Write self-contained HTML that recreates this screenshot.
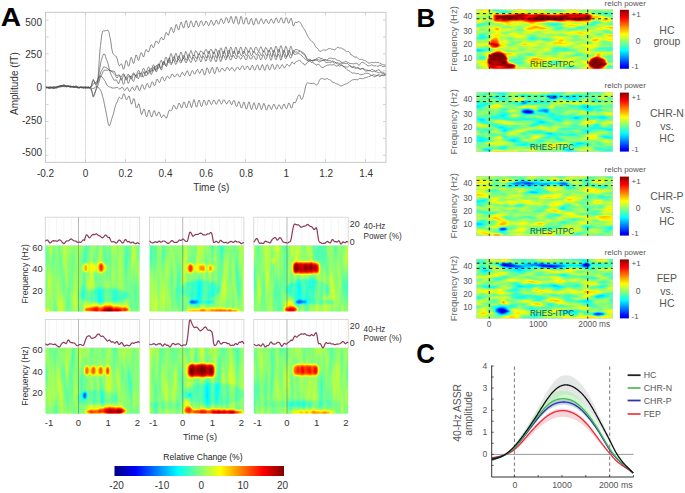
<!DOCTYPE html><html><head><meta charset="utf-8"><style>html,body{margin:0;padding:0;background:#fff;}svg{display:block;} text{font-family:"Liberation Sans",sans-serif;}</style></head><body>
<svg width="685" height="493" viewBox="0 0 685 493" font-family="Liberation Sans, sans-serif">
<defs>
<filter id="jA00" x="0" y="0" width="1" height="1" color-interpolation-filters="sRGB" filterUnits="objectBoundingBox"><feGaussianBlur in="SourceGraphic" stdDeviation="1.2" result="b"/><feTurbulence type="fractalNoise" baseFrequency="0.17 0.022" numOctaves="2" seed="3" result="n"/><feColorMatrix in="n" type="matrix" values="1 0 0 0 0 1 0 0 0 0 1 0 0 0 0 0 0 0 0 1" result="ng"/><feComposite in="b" in2="ng" operator="arithmetic" k1="0" k2="1" k3="0.24" k4="-0.12" result="v"/><feComponentTransfer in="v"><feFuncR type="table" tableValues="0 0 0 0 .5 1 1 1 .5"/><feFuncG type="table" tableValues="0 0 .5 1 1 1 .5 0 0"/><feFuncB type="table" tableValues=".5 1 1 1 .5 0 0 0 0"/><feFuncA type="table" tableValues="1 1"/></feComponentTransfer></filter>
<filter id="jA01" x="0" y="0" width="1" height="1" color-interpolation-filters="sRGB" filterUnits="objectBoundingBox"><feGaussianBlur in="SourceGraphic" stdDeviation="1.2" result="b"/><feTurbulence type="fractalNoise" baseFrequency="0.17 0.022" numOctaves="2" seed="4" result="n"/><feColorMatrix in="n" type="matrix" values="1 0 0 0 0 1 0 0 0 0 1 0 0 0 0 0 0 0 0 1" result="ng"/><feComposite in="b" in2="ng" operator="arithmetic" k1="0" k2="1" k3="0.24" k4="-0.12" result="v"/><feComponentTransfer in="v"><feFuncR type="table" tableValues="0 0 0 0 .5 1 1 1 .5"/><feFuncG type="table" tableValues="0 0 .5 1 1 1 .5 0 0"/><feFuncB type="table" tableValues=".5 1 1 1 .5 0 0 0 0"/><feFuncA type="table" tableValues="1 1"/></feComponentTransfer></filter>
<filter id="jA02" x="0" y="0" width="1" height="1" color-interpolation-filters="sRGB" filterUnits="objectBoundingBox"><feGaussianBlur in="SourceGraphic" stdDeviation="1.2" result="b"/><feTurbulence type="fractalNoise" baseFrequency="0.17 0.022" numOctaves="2" seed="5" result="n"/><feColorMatrix in="n" type="matrix" values="1 0 0 0 0 1 0 0 0 0 1 0 0 0 0 0 0 0 0 1" result="ng"/><feComposite in="b" in2="ng" operator="arithmetic" k1="0" k2="1" k3="0.24" k4="-0.12" result="v"/><feComponentTransfer in="v"><feFuncR type="table" tableValues="0 0 0 0 .5 1 1 1 .5"/><feFuncG type="table" tableValues="0 0 .5 1 1 1 .5 0 0"/><feFuncB type="table" tableValues=".5 1 1 1 .5 0 0 0 0"/><feFuncA type="table" tableValues="1 1"/></feComponentTransfer></filter>
<filter id="jA10" x="0" y="0" width="1" height="1" color-interpolation-filters="sRGB" filterUnits="objectBoundingBox"><feGaussianBlur in="SourceGraphic" stdDeviation="1.2" result="b"/><feTurbulence type="fractalNoise" baseFrequency="0.17 0.022" numOctaves="2" seed="6" result="n"/><feColorMatrix in="n" type="matrix" values="1 0 0 0 0 1 0 0 0 0 1 0 0 0 0 0 0 0 0 1" result="ng"/><feComposite in="b" in2="ng" operator="arithmetic" k1="0" k2="1" k3="0.24" k4="-0.12" result="v"/><feComponentTransfer in="v"><feFuncR type="table" tableValues="0 0 0 0 .5 1 1 1 .5"/><feFuncG type="table" tableValues="0 0 .5 1 1 1 .5 0 0"/><feFuncB type="table" tableValues=".5 1 1 1 .5 0 0 0 0"/><feFuncA type="table" tableValues="1 1"/></feComponentTransfer></filter>
<filter id="jA11" x="0" y="0" width="1" height="1" color-interpolation-filters="sRGB" filterUnits="objectBoundingBox"><feGaussianBlur in="SourceGraphic" stdDeviation="1.2" result="b"/><feTurbulence type="fractalNoise" baseFrequency="0.17 0.022" numOctaves="2" seed="7" result="n"/><feColorMatrix in="n" type="matrix" values="1 0 0 0 0 1 0 0 0 0 1 0 0 0 0 0 0 0 0 1" result="ng"/><feComposite in="b" in2="ng" operator="arithmetic" k1="0" k2="1" k3="0.24" k4="-0.12" result="v"/><feComponentTransfer in="v"><feFuncR type="table" tableValues="0 0 0 0 .5 1 1 1 .5"/><feFuncG type="table" tableValues="0 0 .5 1 1 1 .5 0 0"/><feFuncB type="table" tableValues=".5 1 1 1 .5 0 0 0 0"/><feFuncA type="table" tableValues="1 1"/></feComponentTransfer></filter>
<filter id="jA12" x="0" y="0" width="1" height="1" color-interpolation-filters="sRGB" filterUnits="objectBoundingBox"><feGaussianBlur in="SourceGraphic" stdDeviation="1.2" result="b"/><feTurbulence type="fractalNoise" baseFrequency="0.17 0.022" numOctaves="2" seed="8" result="n"/><feColorMatrix in="n" type="matrix" values="1 0 0 0 0 1 0 0 0 0 1 0 0 0 0 0 0 0 0 1" result="ng"/><feComposite in="b" in2="ng" operator="arithmetic" k1="0" k2="1" k3="0.24" k4="-0.12" result="v"/><feComponentTransfer in="v"><feFuncR type="table" tableValues="0 0 0 0 .5 1 1 1 .5"/><feFuncG type="table" tableValues="0 0 .5 1 1 1 .5 0 0"/><feFuncB type="table" tableValues=".5 1 1 1 .5 0 0 0 0"/><feFuncA type="table" tableValues="1 1"/></feComponentTransfer></filter>
<filter id="jB0" x="0" y="0" width="1" height="1" color-interpolation-filters="sRGB" filterUnits="objectBoundingBox"><feGaussianBlur in="SourceGraphic" stdDeviation="0.8" result="b"/><feTurbulence type="fractalNoise" baseFrequency="0.055 0.19" numOctaves="2" seed="20" result="n"/><feColorMatrix in="n" type="matrix" values="1 0 0 0 0 1 0 0 0 0 1 0 0 0 0 0 0 0 0 1" result="ng"/><feComposite in="b" in2="ng" operator="arithmetic" k1="0" k2="1" k3="0.5" k4="-0.25" result="v"/><feComponentTransfer in="v"><feFuncR type="table" tableValues="0 0 0 0 .5 1 1 1 .5"/><feFuncG type="table" tableValues="0 0 .5 1 1 1 .5 0 0"/><feFuncB type="table" tableValues=".5 1 1 1 .5 0 0 0 0"/><feFuncA type="table" tableValues="1 1"/></feComponentTransfer></filter>
<filter id="jB1" x="0" y="0" width="1" height="1" color-interpolation-filters="sRGB" filterUnits="objectBoundingBox"><feGaussianBlur in="SourceGraphic" stdDeviation="0.8" result="b"/><feTurbulence type="fractalNoise" baseFrequency="0.055 0.19" numOctaves="2" seed="21" result="n"/><feColorMatrix in="n" type="matrix" values="1 0 0 0 0 1 0 0 0 0 1 0 0 0 0 0 0 0 0 1" result="ng"/><feComposite in="b" in2="ng" operator="arithmetic" k1="0" k2="1" k3="0.5" k4="-0.25" result="v"/><feComponentTransfer in="v"><feFuncR type="table" tableValues="0 0 0 0 .5 1 1 1 .5"/><feFuncG type="table" tableValues="0 0 .5 1 1 1 .5 0 0"/><feFuncB type="table" tableValues=".5 1 1 1 .5 0 0 0 0"/><feFuncA type="table" tableValues="1 1"/></feComponentTransfer></filter>
<filter id="jB2" x="0" y="0" width="1" height="1" color-interpolation-filters="sRGB" filterUnits="objectBoundingBox"><feGaussianBlur in="SourceGraphic" stdDeviation="0.8" result="b"/><feTurbulence type="fractalNoise" baseFrequency="0.055 0.19" numOctaves="2" seed="22" result="n"/><feColorMatrix in="n" type="matrix" values="1 0 0 0 0 1 0 0 0 0 1 0 0 0 0 0 0 0 0 1" result="ng"/><feComposite in="b" in2="ng" operator="arithmetic" k1="0" k2="1" k3="0.5" k4="-0.25" result="v"/><feComponentTransfer in="v"><feFuncR type="table" tableValues="0 0 0 0 .5 1 1 1 .5"/><feFuncG type="table" tableValues="0 0 .5 1 1 1 .5 0 0"/><feFuncB type="table" tableValues=".5 1 1 1 .5 0 0 0 0"/><feFuncA type="table" tableValues="1 1"/></feComponentTransfer></filter>
<filter id="jB3" x="0" y="0" width="1" height="1" color-interpolation-filters="sRGB" filterUnits="objectBoundingBox"><feGaussianBlur in="SourceGraphic" stdDeviation="0.8" result="b"/><feTurbulence type="fractalNoise" baseFrequency="0.055 0.19" numOctaves="2" seed="23" result="n"/><feColorMatrix in="n" type="matrix" values="1 0 0 0 0 1 0 0 0 0 1 0 0 0 0 0 0 0 0 1" result="ng"/><feComposite in="b" in2="ng" operator="arithmetic" k1="0" k2="1" k3="0.5" k4="-0.25" result="v"/><feComponentTransfer in="v"><feFuncR type="table" tableValues="0 0 0 0 .5 1 1 1 .5"/><feFuncG type="table" tableValues="0 0 .5 1 1 1 .5 0 0"/><feFuncB type="table" tableValues=".5 1 1 1 .5 0 0 0 0"/><feFuncA type="table" tableValues="1 1"/></feComponentTransfer></filter>
</defs>
<rect width="685" height="493" fill="#fff"/>
<rect x="45.5" y="12.3" width="340.5" height="150.0" fill="#fff"/>
<line x1="55.5" y1="12.3" x2="55.5" y2="162.3" stroke="#f7f7f7" stroke-width="0.8"/>
<line x1="65.5" y1="12.3" x2="65.5" y2="162.3" stroke="#f7f7f7" stroke-width="0.8"/>
<line x1="75.5" y1="12.3" x2="75.5" y2="162.3" stroke="#f7f7f7" stroke-width="0.8"/>
<line x1="95.5" y1="12.3" x2="95.5" y2="162.3" stroke="#f7f7f7" stroke-width="0.8"/>
<line x1="105.5" y1="12.3" x2="105.5" y2="162.3" stroke="#f7f7f7" stroke-width="0.8"/>
<line x1="115.5" y1="12.3" x2="115.5" y2="162.3" stroke="#f7f7f7" stroke-width="0.8"/>
<line x1="125.5" y1="12.3" x2="125.5" y2="162.3" stroke="#f7f7f7" stroke-width="0.8"/>
<line x1="135.5" y1="12.3" x2="135.5" y2="162.3" stroke="#f7f7f7" stroke-width="0.8"/>
<line x1="145.5" y1="12.3" x2="145.5" y2="162.3" stroke="#f7f7f7" stroke-width="0.8"/>
<line x1="155.5" y1="12.3" x2="155.5" y2="162.3" stroke="#f7f7f7" stroke-width="0.8"/>
<line x1="165.5" y1="12.3" x2="165.5" y2="162.3" stroke="#f7f7f7" stroke-width="0.8"/>
<line x1="175.5" y1="12.3" x2="175.5" y2="162.3" stroke="#f7f7f7" stroke-width="0.8"/>
<line x1="185.5" y1="12.3" x2="185.5" y2="162.3" stroke="#f7f7f7" stroke-width="0.8"/>
<line x1="195.5" y1="12.3" x2="195.5" y2="162.3" stroke="#f7f7f7" stroke-width="0.8"/>
<line x1="205.5" y1="12.3" x2="205.5" y2="162.3" stroke="#f7f7f7" stroke-width="0.8"/>
<line x1="215.5" y1="12.3" x2="215.5" y2="162.3" stroke="#f7f7f7" stroke-width="0.8"/>
<line x1="225.5" y1="12.3" x2="225.5" y2="162.3" stroke="#f7f7f7" stroke-width="0.8"/>
<line x1="235.5" y1="12.3" x2="235.5" y2="162.3" stroke="#f7f7f7" stroke-width="0.8"/>
<line x1="245.5" y1="12.3" x2="245.5" y2="162.3" stroke="#f7f7f7" stroke-width="0.8"/>
<line x1="255.5" y1="12.3" x2="255.5" y2="162.3" stroke="#f7f7f7" stroke-width="0.8"/>
<line x1="265.5" y1="12.3" x2="265.5" y2="162.3" stroke="#f7f7f7" stroke-width="0.8"/>
<line x1="275.5" y1="12.3" x2="275.5" y2="162.3" stroke="#f7f7f7" stroke-width="0.8"/>
<line x1="285.5" y1="12.3" x2="285.5" y2="162.3" stroke="#f7f7f7" stroke-width="0.8"/>
<line x1="295.5" y1="12.3" x2="295.5" y2="162.3" stroke="#f7f7f7" stroke-width="0.8"/>
<line x1="305.5" y1="12.3" x2="305.5" y2="162.3" stroke="#f7f7f7" stroke-width="0.8"/>
<line x1="315.5" y1="12.3" x2="315.5" y2="162.3" stroke="#f7f7f7" stroke-width="0.8"/>
<line x1="325.5" y1="12.3" x2="325.5" y2="162.3" stroke="#f7f7f7" stroke-width="0.8"/>
<line x1="335.5" y1="12.3" x2="335.5" y2="162.3" stroke="#f7f7f7" stroke-width="0.8"/>
<line x1="345.5" y1="12.3" x2="345.5" y2="162.3" stroke="#f7f7f7" stroke-width="0.8"/>
<line x1="355.5" y1="12.3" x2="355.5" y2="162.3" stroke="#f7f7f7" stroke-width="0.8"/>
<line x1="365.5" y1="12.3" x2="365.5" y2="162.3" stroke="#f7f7f7" stroke-width="0.8"/>
<line x1="375.5" y1="12.3" x2="375.5" y2="162.3" stroke="#f7f7f7" stroke-width="0.8"/>
<line x1="45.5" y1="87.7" x2="386.0" y2="87.7" stroke="#f0f0f0" stroke-width="0.8"/>
<line x1="85.5" y1="12.3" x2="85.5" y2="162.3" stroke="#b0909c" stroke-width="0.8" stroke-dasharray="1 1" stroke-opacity="0.8"/>
<line x1="45.5" y1="155.3" x2="48.5" y2="155.3" stroke="#c8c8c8" stroke-width="0.8"/>
<line x1="383.0" y1="155.3" x2="386.0" y2="155.3" stroke="#c8c8c8" stroke-width="0.8"/>
<line x1="45.5" y1="138.4" x2="48.5" y2="138.4" stroke="#c8c8c8" stroke-width="0.8"/>
<line x1="383.0" y1="138.4" x2="386.0" y2="138.4" stroke="#c8c8c8" stroke-width="0.8"/>
<line x1="45.5" y1="121.5" x2="48.5" y2="121.5" stroke="#c8c8c8" stroke-width="0.8"/>
<line x1="383.0" y1="121.5" x2="386.0" y2="121.5" stroke="#c8c8c8" stroke-width="0.8"/>
<line x1="45.5" y1="104.6" x2="48.5" y2="104.6" stroke="#c8c8c8" stroke-width="0.8"/>
<line x1="383.0" y1="104.6" x2="386.0" y2="104.6" stroke="#c8c8c8" stroke-width="0.8"/>
<line x1="45.5" y1="87.7" x2="48.5" y2="87.7" stroke="#c8c8c8" stroke-width="0.8"/>
<line x1="383.0" y1="87.7" x2="386.0" y2="87.7" stroke="#c8c8c8" stroke-width="0.8"/>
<line x1="45.5" y1="70.8" x2="48.5" y2="70.8" stroke="#c8c8c8" stroke-width="0.8"/>
<line x1="383.0" y1="70.8" x2="386.0" y2="70.8" stroke="#c8c8c8" stroke-width="0.8"/>
<line x1="45.5" y1="53.9" x2="48.5" y2="53.9" stroke="#c8c8c8" stroke-width="0.8"/>
<line x1="383.0" y1="53.9" x2="386.0" y2="53.9" stroke="#c8c8c8" stroke-width="0.8"/>
<line x1="45.5" y1="37" x2="48.5" y2="37" stroke="#c8c8c8" stroke-width="0.8"/>
<line x1="383.0" y1="37" x2="386.0" y2="37" stroke="#c8c8c8" stroke-width="0.8"/>
<line x1="45.5" y1="20.1" x2="48.5" y2="20.1" stroke="#c8c8c8" stroke-width="0.8"/>
<line x1="383.0" y1="20.1" x2="386.0" y2="20.1" stroke="#c8c8c8" stroke-width="0.8"/>
<line x1="45.5" y1="12.3" x2="45.5" y2="15.3" stroke="#c8c8c8" stroke-width="0.8"/>
<line x1="45.5" y1="159.3" x2="45.5" y2="162.3" stroke="#c8c8c8" stroke-width="0.8"/>
<line x1="85.5" y1="12.3" x2="85.5" y2="15.3" stroke="#c8c8c8" stroke-width="0.8"/>
<line x1="85.5" y1="159.3" x2="85.5" y2="162.3" stroke="#c8c8c8" stroke-width="0.8"/>
<line x1="125.5" y1="12.3" x2="125.5" y2="15.3" stroke="#c8c8c8" stroke-width="0.8"/>
<line x1="125.5" y1="159.3" x2="125.5" y2="162.3" stroke="#c8c8c8" stroke-width="0.8"/>
<line x1="165.5" y1="12.3" x2="165.5" y2="15.3" stroke="#c8c8c8" stroke-width="0.8"/>
<line x1="165.5" y1="159.3" x2="165.5" y2="162.3" stroke="#c8c8c8" stroke-width="0.8"/>
<line x1="205.5" y1="12.3" x2="205.5" y2="15.3" stroke="#c8c8c8" stroke-width="0.8"/>
<line x1="205.5" y1="159.3" x2="205.5" y2="162.3" stroke="#c8c8c8" stroke-width="0.8"/>
<line x1="245.5" y1="12.3" x2="245.5" y2="15.3" stroke="#c8c8c8" stroke-width="0.8"/>
<line x1="245.5" y1="159.3" x2="245.5" y2="162.3" stroke="#c8c8c8" stroke-width="0.8"/>
<line x1="285.5" y1="12.3" x2="285.5" y2="15.3" stroke="#c8c8c8" stroke-width="0.8"/>
<line x1="285.5" y1="159.3" x2="285.5" y2="162.3" stroke="#c8c8c8" stroke-width="0.8"/>
<line x1="325.5" y1="12.3" x2="325.5" y2="15.3" stroke="#c8c8c8" stroke-width="0.8"/>
<line x1="325.5" y1="159.3" x2="325.5" y2="162.3" stroke="#c8c8c8" stroke-width="0.8"/>
<line x1="365.5" y1="12.3" x2="365.5" y2="15.3" stroke="#c8c8c8" stroke-width="0.8"/>
<line x1="365.5" y1="159.3" x2="365.5" y2="162.3" stroke="#c8c8c8" stroke-width="0.8"/>
<path d="M45.5 87.6 L46 87.6 L46.5 87.4 L47 87.3 L47.5 87.6 L48 87.7 L48.5 87.6 L49 87.9 L49.5 87.9 L50 87.7 L50.5 87.6 L51 87.7 L51.5 87.7 L52 87.4 L52.5 87.3 L53 87.1 L53.5 86.8 L54 86.3 L54.5 86.5 L55 86.3 L55.5 86.7 L56 86.9 L56.5 87.1 L57 86.5 L57.5 86.5 L58 86.3 L58.5 86.2 L59 85.8 L59.5 86 L60 85.8 L60.5 85.5 L61 85.6 L61.5 85.6 L62 85.6 L62.5 85.9 L63 85.9 L63.5 85.7 L64 85.9 L64.5 85.9 L65 85.6 L65.5 85.7 L66 86.1 L66.5 85.8 L67 86 L67.5 86.3 L68 86.3 L68.5 86.5 L69 87 L69.5 86.7 L70 86.7 L70.5 87 L71 86.7 L71.5 86.7 L72 87 L72.5 87.2 L73 87.4 L73.5 87.3 L74 87.3 L74.5 87.3 L75 87.3 L75.5 86.8 L76 86.9 L76.5 86.9 L77 87.2 L77.5 87.5 L78 87.5 L78.5 87.5 L79 87.7 L79.5 87.2 L80 87 L80.5 87.2 L81 87.6 L81.5 87.7 L82 88 L82.5 88 L83 88 L83.5 88 L84 87.8 L84.5 87.8 L85 87.9 L85.5 87.9 L86 87.5 L86.5 87.3 L87 87.3 L87.5 87.1 L88 87.3 L88.5 87.4 L89 87.5 L89.5 87.5 L90 87.3 L90.5 87.1 L91 86.7 L91.5 86 L92 84.1 L92.5 82.6 L93 80.9 L93.5 80.4 L94 81.1 L94.5 82.4 L95 83.6 L95.5 84.9 L96 84.8 L96.5 84.2 L97 83.4 L97.5 82.3 L98 78.4 L98.5 71.8 L99 63.9 L99.5 56.1 L100 50 L100.5 45.6 L101 41.3 L101.5 37 L102 33.7 L102.5 31.5 L103 30.9 L103.5 30.9 L104 31.1 L104.5 31 L105 31.1 L105.5 30.6 L106 30.3 L106.5 30.4 L107 30.1 L107.5 30.3 L108 30.3 L108.5 31.2 L109 32.5 L109.5 35.2 L110 37.4 L110.5 39.9 L111 42.9 L111.5 46.9 L112 50 L112.5 52.1 L113 53.5 L113.5 54.1 L114 54.8 L114.5 55.3 L115 55.8 L115.5 56 L116 56.5 L116.5 56.8 L117 58.4 L117.5 60.1 L118 62.2 L118.5 64.1 L119 65.5 L119.5 65.7 L120 65.4 L120.5 64.5 L121 63.8 L121.5 63.9 L122 64.8 L122.5 66.6 L123 68.6 L123.5 69.3 L124 68.5 L124.5 66.9 L125 64.7 L125.5 61.8 L126 60.6 L126.5 60.7 L127 61.7 L127.5 63.5 L128 65.5 L128.5 66.3 L129 65.6 L129.5 64.1 L130 61.3 L130.5 58.9 L131 57.4 L131.5 57.4 L132 58.9 L132.5 60.8 L133 62.6 L133.5 63.5 L134 62.9 L134.5 60.8 L135 58.5 L135.5 56.2 L136 55 L136.5 55.1 L137 56.6 L137.5 58.4 L138 60 L138.5 60.5 L139 59.6 L139.5 57.8 L140 55.6 L140.5 53.5 L141 52.5 L141.5 52.9 L142 53.8 L142.5 55.2 L143 56.4 L143.5 57 L144 55.9 L144.5 54.3 L145 52.2 L145.5 50.6 L146 49.5 L146.5 49.9 L147 50.3 L147.5 51.1 L148 52.1 L148.5 51.8 L149 50.9 L149.5 49.8 L150 47.9 L150.5 45.7 L151 44.9 L151.5 44.8 L152 45.2 L152.5 46.5 L153 47.6 L153.5 47.5 L154 46.8 L154.5 45.3 L155 43.2 L155.5 41.8 L156 41.1 L156.5 41 L157 41.5 L157.5 42.7 L158 43.3 L158.5 43.4 L159 42.7 L159.5 41.3 L160 39.7 L160.5 38.2 L161 37.6 L161.5 37.2 L162 38.1 L162.5 39.1 L163 40 L163.5 39.7 L164 39.2 L164.5 37.6 L165 35.6 L165.5 33.7 L166 32.6 L166.5 32.7 L167 33.3 L167.5 34.1 L168 35.1 L168.5 35.2 L169 33.8 L169.5 32 L170 30.4 L170.5 28.4 L171 27.3 L171.5 27.6 L172 28.9 L172.5 30.3 L173 31.8 L173.5 32.6 L174 32.2 L174.5 30.5 L175 28.2 L175.5 26 L176 24.6 L176.5 24.7 L177 25.7 L177.5 27.7 L178 29.2 L178.5 30.1 L179 29.5 L179.5 27.5 L180 25.2 L180.5 23.4 L181 22.1 L181.5 22.4 L182 24.1 L182.5 25.5 L183 27.2 L183.5 28.1 L184 27.5 L184.5 25.5 L185 23.6 L185.5 21.3 L186 20.5 L186.5 20.8 L187 22.6 L187.5 25.2 L188 27.1 L188.5 27.8 L189 27 L189.5 25.6 L190 23.3 L190.5 21.6 L191 20.8 L191.5 21.5 L192 22.7 L192.5 24.6 L193 26.2 L193.5 27 L194 26.9 L194.5 25.5 L195 23.5 L195.5 21.6 L196 20.6 L196.5 21 L197 22.3 L197.5 24.2 L198 25.9 L198.5 26.6 L199 26 L199.5 24.7 L200 22.9 L200.5 21.3 L201 20.7 L201.5 21.1 L202 21.8 L202.5 23.4 L203 24.7 L203.5 25.6 L204 25.2 L204.5 24.4 L205 23.2 L205.5 21.9 L206 21 L206.5 21.4 L207 22.3 L207.5 23.3 L208 24.7 L208.5 25.7 L209 25.4 L209.5 24.3 L210 22.9 L210.5 21.6 L211 20.3 L211.5 20.4 L212 21.6 L212.5 22.9 L213 24.2 L213.5 25.3 L214 25.2 L214.5 24 L215 23.1 L215.5 21.5 L216 20.3 L216.5 20.2 L217 21 L217.5 22.2 L218 23.7 L218.5 24.2 L219 24 L219.5 22.7 L220 20.8 L220.5 19.1 L221 18.5 L221.5 18.8 L222 19.8 L222.5 21.3 L223 22.8 L223.5 23.5 L224 23.2 L224.5 22.3 L225 20.5 L225.5 18.8 L226 17.6 L226.5 17.8 L227 18.3 L227.5 19.8 L228 21.6 L228.5 22.9 L229 22.6 L229.5 21.2 L230 19.4 L230.5 17.2 L231 16.3 L231.5 17 L232 18.8 L232.5 20.9 L233 22.7 L233.5 23.6 L234 22.9 L234.5 21.1 L235 19.1 L235.5 17.1 L236 16.3 L236.5 16.9 L237 19 L237.5 21.1 L238 23.5 L238.5 24.4 L239 23.8 L239.5 22 L240 19.6 L240.5 17.2 L241 16.3 L241.5 16.8 L242 18.6 L242.5 21.3 L243 23.3 L243.5 24.1 L244 23.9 L244.5 22.3 L245 19.9 L245.5 18.4 L246 17.6 L246.5 17.8 L247 19.2 L247.5 21.6 L248 23.4 L248.5 24.1 L249 24.2 L249.5 23 L250 21.1 L250.5 19.1 L251 18.6 L251.5 18.5 L252 20.3 L252.5 22 L253 24.1 L253.5 24.9 L254 24.9 L254.5 22.8 L255 20.9 L255.5 19.3 L256 18.4 L256.5 18.9 L257 20.5 L257.5 22.1 L258 23.3 L258.5 24.2 L259 23.7 L259.5 22.4 L260 20.9 L260.5 19.5 L261 18.7 L261.5 18.8 L262 19.9 L262.5 21.7 L263 22.8 L263.5 23.6 L264 23.5 L264.5 22.3 L265 20.8 L265.5 19.7 L266 19.4 L266.5 19.5 L267 20.8 L267.5 21.9 L268 23.1 L268.5 23.5 L269 23.4 L269.5 22.4 L270 21.1 L270.5 19.7 L271 18.9 L271.5 19.1 L272 20.2 L272.5 21.4 L273 22.8 L273.5 23.2 L274 23.1 L274.5 21.6 L275 20 L275.5 18.6 L276 18.3 L276.5 18.1 L277 19.2 L277.5 20.9 L278 22.1 L278.5 22.7 L279 22.6 L279.5 21.5 L280 20 L280.5 18.5 L281 17.7 L281.5 17.9 L282 19 L282.5 20.3 L283 22.5 L283.5 23.2 L284 23.1 L284.5 22 L285 20.4 L285.5 18.3 L286 17.7 L286.5 17.8 L287 18.9 L287.5 20.7 L288 22.4 L288.5 23.2 L289 23.2 L289.5 21.9 L290 20 L290.5 18.7 L291 18.3 L291.5 18.5 L292 20.8 L292.5 23.4 L293 25.8 L293.5 25.8 L294 25.3 L294.5 23.5 L295 22.3 L295.5 22 L296 22.6 L296.5 22.5 L297 22.5 L297.5 22.2 L298 21.8 L298.5 21.6 L299 21.6 L299.5 21.8 L300 22.3 L300.5 23 L301 23.7 L301.5 24.7 L302 25.8 L302.5 26.8 L303 27.5 L303.5 28.4 L304 28.9 L304.5 29.4 L305 30.3 L305.5 31.3 L306 32.4 L306.5 33.5 L307 34.7 L307.5 35.7 L308 36.7 L308.5 37.3 L309 38.1 L309.5 38.8 L310 39.6 L310.5 40.3 L311 40.8 L311.5 41.3 L312 41.6 L312.5 41.9 L313 42.3 L313.5 42.8 L314 43.6 L314.5 44.7 L315 45.6 L315.5 46.4 L316 47.3 L316.5 47.6 L317 48 L317.5 48.4 L318 49.1 L318.5 49.6 L319 50.5 L319.5 51 L320 51.4 L320.5 51.3 L321 51.5 L321.5 50.8 L322 50.5 L322.5 50.2 L323 50 L323.5 49.9 L324 50 L324.5 50 L325 50.2 L325.5 50.3 L326 50.2 L326.5 49.8 L327 49.7 L327.5 49.3 L328 49 L328.5 48.7 L329 48.5 L329.5 48.7 L330 48.7 L330.5 48.4 L331 48.8 L331.5 49.2 L332 49.1 L332.5 49.1 L333 49.8 L333.5 49.6 L334 49.7 L334.5 49.9 L335 49.9 L335.5 49.2 L336 48.8 L336.5 48.2 L337 47.6 L337.5 47.4 L338 47.5 L338.5 47.6 L339 48 L339.5 48 L340 47.8 L340.5 47.9 L341 48.1 L341.5 48.2 L342 48.6 L342.5 48.8 L343 49.1 L343.5 49.2 L344 49.2 L344.5 49.8 L345 50.5 L345.5 51 L346 51.3 L346.5 51.8 L347 51.8 L347.5 51.6 L348 51.1 L348.5 51.4 L349 51.8 L349.5 52.3 L350 53 L350.5 54.1 L351 55 L351.5 54.9 L352 55.2 L352.5 55.6 L353 55.8 L353.5 56.1 L354 56.8 L354.5 56.9 L355 57 L355.5 57.2 L356 57 L356.5 57.1 L357 57.5 L357.5 58.1 L358 58.3 L358.5 58.7 L359 59 L359.5 59.4 L360 59.1 L360.5 59.5 L361 59.3 L361.5 59.3 L362 59.2 L362.5 59.6 L363 59.8 L363.5 60 L364 60.3 L364.5 60.8 L365 60.9 L365.5 60.7 L366 61.3 L366.5 61.7 L367 61.9 L367.5 62.2 L368 62.9 L368.5 63 L369 63.3 L369.5 63.1 L370 63.1 L370.5 62.8 L371 62.6 L371.5 62.4 L372 62.5 L372.5 62.5 L373 62.6 L373.5 62.7 L374 62.7 L374.5 62.5 L375 62.4 L375.5 62.3 L376 62.5 L376.5 62.5 L377 62.5 L377.5 62.5 L378 62.7 L378.5 62.6 L379 62.5 L379.5 63 L380 63.6 L380.5 63.6 L381 63.8 L381.5 64.1 L382 64.5 L382.5 64.4 L383 64.5 L383.5 64.8 L384 65.1 L384.5 64.9 L385 65.1 L385.5 65.1 L386 65.2" fill="none" stroke="#4a4a4a" stroke-width="0.75" stroke-opacity="0.85"/>
<path d="M45.5 87.3 L46 87.4 L46.5 87.3 L47 87.6 L47.5 87.9 L48 87.4 L48.5 87.3 L49 87.4 L49.5 87.2 L50 86.7 L50.5 87 L51 87.1 L51.5 87.3 L52 87 L52.5 87.8 L53 87.6 L53.5 87.6 L54 87.5 L54.5 88.1 L55 87.6 L55.5 87.5 L56 87.4 L56.5 87 L57 86.2 L57.5 86.6 L58 86.8 L58.5 86.9 L59 86.7 L59.5 87.3 L60 86.9 L60.5 86.9 L61 86.5 L61.5 86.3 L62 86 L62.5 85.2 L63 84.6 L63.5 84.7 L64 84.7 L64.5 84.8 L65 85.2 L65.5 85.9 L66 86.1 L66.5 86.3 L67 86.6 L67.5 86.6 L68 86.2 L68.5 86.2 L69 86.1 L69.5 85.9 L70 85.9 L70.5 86 L71 86.2 L71.5 86.3 L72 86.5 L72.5 86.6 L73 86.4 L73.5 86 L74 86.4 L74.5 86.9 L75 87.2 L75.5 87.3 L76 87.8 L76.5 87.5 L77 87.3 L77.5 87.3 L78 87.6 L78.5 87.6 L79 87.6 L79.5 87.4 L80 87.1 L80.5 87 L81 86.7 L81.5 86.8 L82 86.7 L82.5 87.1 L83 87.2 L83.5 87.2 L84 87.1 L84.5 87.1 L85 87.2 L85.5 87.4 L86 87.7 L86.5 87.8 L87 88.2 L87.5 87.8 L88 87.8 L88.5 87.5 L89 87.1 L89.5 87.4 L90 88.1 L90.5 87.8 L91 88.1 L91.5 89.7 L92 91.5 L92.5 93.4 L93 95.3 L93.5 95.6 L94 94.8 L94.5 93.5 L95 92 L95.5 90.8 L96 88.9 L96.5 87 L97 84.5 L97.5 82.1 L98 79.6 L98.5 76.8 L99 73.6 L99.5 70.5 L100 67.2 L100.5 63.9 L101 61.7 L101.5 59.7 L102 58 L102.5 56.6 L103 55.2 L103.5 54.2 L104 54 L104.5 54.1 L105 54.9 L105.5 56.5 L106 58.1 L106.5 59.4 L107 60.8 L107.5 62.1 L108 63.5 L108.5 65.5 L109 67.8 L109.5 69.8 L110 71.6 L110.5 73 L111 74.3 L111.5 75.2 L112 76.6 L112.5 77.4 L113 78.5 L113.5 79.4 L114 80.4 L114.5 80.2 L115 80 L115.5 80 L116 79.6 L116.5 79.9 L117 81.1 L117.5 82.2 L118 82.9 L118.5 83.9 L119 83.2 L119.5 81.8 L120 80 L120.5 78.4 L121 77.6 L121.5 78.3 L122 79.9 L122.5 82.2 L123 83.7 L123.5 84.4 L124 83.6 L124.5 81.6 L125 79.2 L125.5 77.8 L126 77.1 L126.5 77.8 L127 79.2 L127.5 81.4 L128 83.3 L128.5 83.1 L129 82.2 L129.5 80.6 L130 78.4 L130.5 76.6 L131 76.3 L131.5 76.9 L132 78.7 L132.5 80.4 L133 81.2 L133.5 81.5 L134 80.5 L134.5 78.7 L135 76.8 L135.5 75.6 L136 75 L136.5 75.7 L137 76.7 L137.5 77.8 L138 78.6 L138.5 78.6 L139 77.5 L139.5 76.2 L140 74.8 L140.5 73.3 L141 73.3 L141.5 73.8 L142 74.9 L142.5 76.3 L143 77.1 L143.5 76.8 L144 76.2 L144.5 74.5 L145 72.8 L145.5 71.8 L146 71.2 L146.5 71.3 L147 72.4 L147.5 73.5 L148 74.1 L148.5 74 L149 73.3 L149.5 71.6 L150 69.9 L150.5 68.7 L151 68.3 L151.5 68.2 L152 68.8 L152.5 70.1 L153 71 L153.5 71 L154 70.6 L154.5 69.2 L155 67.2 L155.5 66.2 L156 65.6 L156.5 65.6 L157 66.8 L157.5 68.2 L158 68.5 L158.5 68.4 L159 67.3 L159.5 64.9 L160 62.6 L160.5 61.1 L161 60.3 L161.5 60.4 L162 62 L162.5 63.7 L163 64.8 L163.5 64.7 L164 64 L164.5 61.7 L165 59.3 L165.5 57.7 L166 57.1 L166.5 57.5 L167 59.5 L167.5 61.3 L168 62.3 L168.5 62.6 L169 61.7 L169.5 58.9 L170 56.4 L170.5 54.4 L171 53.5 L171.5 54 L172 56.1 L172.5 58.4 L173 59.9 L173.5 60.4 L174 59.5 L174.5 57.4 L175 55 L175.5 53.7 L176 53.2 L176.5 53.9 L177 56 L177.5 58 L178 59.2 L178.5 59.6 L179 58.5 L179.5 56.3 L180 54.4 L180.5 52.6 L181 52 L181.5 52.9 L182 54.6 L182.5 56.4 L183 58.3 L183.5 58.4 L184 57.5 L184.5 55.6 L185 53.5 L185.5 51.7 L186 51.4 L186.5 52.7 L187 54.5 L187.5 56.7 L188 57.9 L188.5 58.1 L189 56.6 L189.5 54.8 L190 52.7 L190.5 51.2 L191 50.4 L191.5 51.6 L192 53 L192.5 54.5 L193 55.6 L193.5 56.1 L194 55.2 L194.5 53.6 L195 51.9 L195.5 50.8 L196 50.6 L196.5 51.1 L197 52.5 L197.5 53.9 L198 54.8 L198.5 55.2 L199 54.3 L199.5 53.4 L200 52.2 L200.5 51.1 L201 50.7 L201.5 51.2 L202 51.8 L202.5 52.8 L203 53.7 L203.5 53.7 L204 53.2 L204.5 52.3 L205 50.7 L205.5 49.8 L206 49.3 L206.5 49.8 L207 50.9 L207.5 52.5 L208 53.2 L208.5 53.5 L209 52.9 L209.5 51.8 L210 50.5 L210.5 49.4 L211 49.1 L211.5 49.6 L212 50.9 L212.5 52 L213 53.6 L213.5 53.9 L214 53.2 L214.5 51.7 L215 50.5 L215.5 49 L216 48.9 L216.5 49.8 L217 51.5 L217.5 53.4 L218 54.6 L218.5 55 L219 54.2 L219.5 52.2 L220 49.9 L220.5 48.3 L221 47.8 L221.5 48.4 L222 50.3 L222.5 52.6 L223 54.2 L223.5 54 L224 53.3 L224.5 51.3 L225 48.9 L225.5 47.3 L226 46.8 L226.5 47.9 L227 49.6 L227.5 52.2 L228 53.4 L228.5 54.4 L229 53.2 L229.5 51.4 L230 48.7 L230.5 47.3 L231 47.1 L231.5 48 L232 49.8 L232.5 52.2 L233 53.7 L233.5 53.9 L234 53.3 L234.5 51.3 L235 48.7 L235.5 47.5 L236 47.1 L236.5 47.9 L237 50.2 L237.5 52.5 L238 53.8 L238.5 53.7 L239 52.3 L239.5 50.3 L240 48.2 L240.5 47.2 L241 47.1 L241.5 48.2 L242 49.9 L242.5 52.3 L243 53.4 L243.5 53.4 L244 52.7 L244.5 51.1 L245 48.8 L245.5 47.2 L246 47.3 L246.5 48.1 L247 49.3 L247.5 51 L248 52.2 L248.5 52.3 L249 51.5 L249.5 50.4 L250 49 L250.5 47.7 L251 47.4 L251.5 48.3 L252 49.5 L252.5 51.1 L253 52.3 L253.5 52.3 L254 51.6 L254.5 50 L255 48 L255.5 47.3 L256 47.1 L256.5 47.5 L257 48.6 L257.5 50.2 L258 50.8 L258.5 51.1 L259 50.6 L259.5 49.2 L260 48.1 L260.5 47.1 L261 46.7 L261.5 47.4 L262 49 L262.5 50 L263 51.6 L263.5 51.9 L264 51.2 L264.5 49.9 L265 49 L265.5 47.5 L266 47.6 L266.5 48 L267 49.5 L267.5 50.7 L268 51.8 L268.5 52.3 L269 51.8 L269.5 50.2 L270 49.1 L270.5 48 L271 47.2 L271.5 48 L272 49.3 L272.5 50.8 L273 52.3 L273.5 52.7 L274 51.7 L274.5 50.3 L275 48.2 L275.5 46.4 L276 46.2 L276.5 46.8 L277 48.4 L277.5 50.4 L278 52 L278.5 52.3 L279 51.6 L279.5 49.9 L280 47.8 L280.5 46.2 L281 45.5 L281.5 46.4 L282 48.3 L282.5 50.4 L283 52.2 L283.5 53 L284 52.4 L284.5 50.6 L285 48.5 L285.5 46.6 L286 46.2 L286.5 47.1 L287 49.1 L287.5 51.4 L288 53.5 L288.5 53.8 L289 52.9 L289.5 50.7 L290 48.5 L290.5 46.7 L291 46.2 L291.5 47.3 L292 49.1 L292.5 51.6 L293 53.2 L293.5 53.1 L294 51.6 L294.5 50.3 L295 49.6 L295.5 49.6 L296 49.7 L296.5 49.6 L297 49.7 L297.5 49.8 L298 49.9 L298.5 50.3 L299 50.4 L299.5 50.6 L300 50.5 L300.5 51 L301 51 L301.5 51.6 L302 52 L302.5 52.2 L303 52.4 L303.5 53 L304 53.1 L304.5 53.8 L305 54.8 L305.5 55.5 L306 56.1 L306.5 57.6 L307 58.2 L307.5 58.7 L308 59.3 L308.5 59.5 L309 59.4 L309.5 59.3 L310 59.4 L310.5 59.5 L311 60.1 L311.5 60.5 L312 60.9 L312.5 61 L313 61 L313.5 60.9 L314 60.3 L314.5 59.9 L315 59.7 L315.5 59.5 L316 59.3 L316.5 59.2 L317 59.5 L317.5 59.7 L318 59.7 L318.5 59.7 L319 60.3 L319.5 60.1 L320 59.9 L320.5 60 L321 60.1 L321.5 60.1 L322 60 L322.5 60.3 L323 60 L323.5 60.1 L324 59.7 L324.5 60 L325 59.7 L325.5 59.9 L326 60 L326.5 60.3 L327 59.7 L327.5 59.6 L328 59.1 L328.5 58.7 L329 58.3 L329.5 58.3 L330 58.1 L330.5 58.2 L331 58 L331.5 58.2 L332 58.6 L332.5 58.5 L333 58.7 L333.5 58.8 L334 58.9 L334.5 58.5 L335 59 L335.5 59.1 L336 59.5 L336.5 59.7 L337 60.1 L337.5 60.3 L338 60.6 L338.5 60.4 L339 60.6 L339.5 60.8 L340 60.9 L340.5 61.5 L341 62.3 L341.5 62.3 L342 62.3 L342.5 62.6 L343 62.6 L343.5 62.2 L344 62.1 L344.5 62.1 L345 61.8 L345.5 61.4 L346 61.7 L346.5 61.8 L347 61.9 L347.5 62.3 L348 62.5 L348.5 62.6 L349 63.1 L349.5 63.5 L350 63.4 L350.5 63.5 L351 63.4 L351.5 63.6 L352 63.7 L352.5 63.6 L353 63.6 L353.5 63.9 L354 63.6 L354.5 63.7 L355 63.9 L355.5 63.6 L356 63.4 L356.5 63.3 L357 63.3 L357.5 63.6 L358 64.7 L358.5 65.1 L359 65.1 L359.5 64.9 L360 64.6 L360.5 63.4 L361 62.7 L361.5 62.6 L362 62.5 L362.5 62.3 L363 62.4 L363.5 62.8 L364 63 L364.5 63.2 L365 63.5 L365.5 63.9 L366 64.4 L366.5 64.6 L367 65 L367.5 65.7 L368 65.9 L368.5 65.8 L369 65.7 L369.5 65.7 L370 65.5 L370.5 65.4 L371 64.9 L371.5 64.9 L372 64.8 L372.5 65 L373 65.2 L373.5 65.9 L374 66.1 L374.5 65.9 L375 65.6 L375.5 65.7 L376 65.4 L376.5 65.9 L377 66.4 L377.5 66.3 L378 66.1 L378.5 66.3 L379 65.9 L379.5 65 L380 65.2 L380.5 65.4 L381 65.3 L381.5 65.9 L382 66.5 L382.5 66.4 L383 66.6 L383.5 66.6 L384 66.2 L384.5 66.3 L385 66.4 L385.5 66.5 L386 66.7" fill="none" stroke="#4a4a4a" stroke-width="0.75" stroke-opacity="0.85"/>
<path d="M45.5 86.5 L46 86.7 L46.5 86.7 L47 86.7 L47.5 87 L48 87.6 L48.5 87.5 L49 87.5 L49.5 87.9 L50 88.2 L50.5 87.9 L51 87.9 L51.5 87.7 L52 87.3 L52.5 87.1 L53 87.1 L53.5 87.2 L54 87.6 L54.5 87.9 L55 88 L55.5 87.8 L56 87.3 L56.5 87.1 L57 86.7 L57.5 86.4 L58 86.4 L58.5 86.4 L59 86.1 L59.5 86.1 L60 86.1 L60.5 85.9 L61 86.1 L61.5 86.1 L62 85.8 L62.5 85.8 L63 86.2 L63.5 86 L64 86.3 L64.5 86.7 L65 87 L65.5 86.5 L66 87 L66.5 86.8 L67 86.6 L67.5 86.3 L68 86.6 L68.5 86.2 L69 86.2 L69.5 86.5 L70 86.5 L70.5 86.2 L71 86.4 L71.5 86.6 L72 86.5 L72.5 86.5 L73 86.9 L73.5 86.9 L74 87.2 L74.5 86.8 L75 87.1 L75.5 86.9 L76 86.5 L76.5 86.2 L77 86.6 L77.5 86.6 L78 86.5 L78.5 87 L79 87.4 L79.5 87.4 L80 87.4 L80.5 87.6 L81 87.6 L81.5 87.4 L82 87.1 L82.5 87.4 L83 87.8 L83.5 87.4 L84 87.1 L84.5 87 L85 86.7 L85.5 86.4 L86 86.7 L86.5 87.2 L87 87.3 L87.5 87.6 L88 87.4 L88.5 87.2 L89 87 L89.5 87.4 L90 87.2 L90.5 86.8 L91 86.2 L91.5 85.2 L92 82.7 L92.5 80.7 L93 79.4 L93.5 79.6 L94 80.5 L94.5 81.9 L95 83 L95.5 83.5 L96 83.2 L96.5 83 L97 82.9 L97.5 82.4 L98 82.2 L98.5 81.3 L99 79.7 L99.5 77.1 L100 74.9 L100.5 73 L101 71.8 L101.5 70.7 L102 70 L102.5 69.2 L103 68.1 L103.5 67.1 L104 67.1 L104.5 67 L105 67.1 L105.5 67.3 L106 67.7 L106.5 67.8 L107 67.9 L107.5 68.6 L108 69 L108.5 69.2 L109 69.8 L109.5 70.5 L110 70.5 L110.5 70.9 L111 71.2 L111.5 71.4 L112 71.3 L112.5 72.2 L113 72.4 L113.5 73.2 L114 73.5 L114.5 74.2 L115 74.7 L115.5 75.9 L116 76.7 L116.5 77.6 L117 77.8 L117.5 77.5 L118 76.6 L118.5 75.9 L119 75.4 L119.5 75.8 L120 76.8 L120.5 78.4 L121 79.6 L121.5 80.1 L122 79.7 L122.5 78.2 L123 76.7 L123.5 75.2 L124 74.7 L124.5 75.9 L125 77 L125.5 78.3 L126 79.9 L126.5 80 L127 79.4 L127.5 78 L128 76.8 L128.5 75.8 L129 75.8 L129.5 75.9 L130 77.5 L130.5 78.4 L131 79.2 L131.5 78.9 L132 78.2 L132.5 77 L133 75.5 L133.5 74.1 L134 74 L134.5 74.2 L135 75.3 L135.5 76.8 L136 77.4 L136.5 77.5 L137 76.9 L137.5 75.4 L138 73.9 L138.5 73 L139 72.8 L139.5 73.2 L140 74.5 L140.5 75.7 L141 76.8 L141.5 76.7 L142 76.1 L142.5 74.4 L143 73 L143.5 71.9 L144 71.9 L144.5 72.7 L145 74 L145.5 75.2 L146 76 L146.5 75.8 L147 75.1 L147.5 73.8 L148 72 L148.5 70.4 L149 70.2 L149.5 70.4 L150 71.5 L150.5 73.3 L151 74.4 L151.5 74.3 L152 73.3 L152.5 71.2 L153 69.2 L153.5 67.4 L154 66.7 L154.5 67.1 L155 69 L155.5 70.4 L156 71.8 L156.5 71.8 L157 70.8 L157.5 68.4 L158 66.2 L158.5 64.4 L159 64 L159.5 64.9 L160 66.8 L160.5 68.6 L161 69.8 L161.5 69.9 L162 68.5 L162.5 66.5 L163 63.7 L163.5 62 L164 61.4 L164.5 62 L165 63.4 L165.5 65.3 L166 66.2 L166.5 66.6 L167 65.3 L167.5 62.8 L168 60.7 L168.5 59.1 L169 57.7 L169.5 58 L170 59.6 L170.5 61.4 L171 62.8 L171.5 63.3 L172 62.8 L172.5 61.2 L173 58.6 L173.5 57 L174 56.4 L174.5 56.8 L175 58.3 L175.5 60.4 L176 61.7 L176.5 61.9 L177 61.1 L177.5 59.8 L178 57.7 L178.5 56.1 L179 56 L179.5 56.8 L180 58 L180.5 59.6 L181 61.2 L181.5 61.2 L182 60.1 L182.5 58.4 L183 56.9 L183.5 55.6 L184 55.5 L184.5 56.3 L185 57.8 L185.5 59.2 L186 60.2 L186.5 60 L187 59.1 L187.5 57.7 L188 56 L188.5 54.7 L189 54.6 L189.5 55.3 L190 56.2 L190.5 57.9 L191 58.4 L191.5 58.8 L192 58.6 L192.5 57.5 L193 55.9 L193.5 55.5 L194 55.3 L194.5 55.1 L195 56.2 L195.5 57.4 L196 58.3 L196.5 58.2 L197 57.9 L197.5 56.6 L198 55.3 L198.5 54 L199 53.5 L199.5 53.8 L200 55 L200.5 56.1 L201 57.5 L201.5 57.9 L202 57 L202.5 55.9 L203 54.5 L203.5 53.1 L204 52.7 L204.5 53.6 L205 54.7 L205.5 56.3 L206 57.4 L206.5 58.1 L207 56.9 L207.5 55.4 L208 53.8 L208.5 52.3 L209 51.2 L209.5 52.7 L210 54.1 L210.5 56.2 L211 57.8 L211.5 58.5 L212 57.4 L212.5 55.9 L213 53.7 L213.5 52.2 L214 51.8 L214.5 52.5 L215 54.3 L215.5 56.3 L216 57.5 L216.5 57.8 L217 56.9 L217.5 54.7 L218 52.4 L218.5 50.8 L219 50.4 L219.5 51.3 L220 53.4 L220.5 55.6 L221 57.7 L221.5 58.1 L222 57.7 L222.5 55.8 L223 53.8 L223.5 51.7 L224 50.7 L224.5 51 L225 52.7 L225.5 55.1 L226 56.5 L226.5 57.7 L227 56.8 L227.5 55.1 L228 52.2 L228.5 50.9 L229 50.1 L229.5 51.1 L230 52.8 L230.5 55 L231 56.6 L231.5 57.1 L232 56.2 L232.5 54.7 L233 53.2 L233.5 51.6 L234 50.9 L234.5 51.3 L235 53 L235.5 54.7 L236 55.9 L236.5 56.4 L237 55.9 L237.5 54.2 L238 52.3 L238.5 51 L239 51.1 L239.5 51.8 L240 53.1 L240.5 54.5 L241 55.5 L241.5 55.5 L242 55 L242.5 53.7 L243 52.5 L243.5 51.6 L244 51 L244.5 51.6 L245 53 L245.5 54.7 L246 55.6 L246.5 56.1 L247 55.4 L247.5 54.1 L248 52.1 L248.5 51.1 L249 50.9 L249.5 51.3 L250 52.5 L250.5 54.2 L251 55.5 L251.5 55.8 L252 55.2 L252.5 54 L253 52.6 L253.5 51.6 L254 51.3 L254.5 51.9 L255 53 L255.5 54 L256 54.7 L256.5 55.1 L257 54.5 L257.5 53.6 L258 52.5 L258.5 51.7 L259 51.5 L259.5 52.2 L260 53.1 L260.5 54.5 L261 55.5 L261.5 55.5 L262 54.8 L262.5 53.7 L263 52 L263.5 51 L264 50.8 L264.5 51.3 L265 52.6 L265.5 54.3 L266 55.4 L266.5 55.8 L267 55.4 L267.5 54 L268 52.3 L268.5 50.8 L269 50.1 L269.5 50.6 L270 52 L270.5 54 L271 55.6 L271.5 56.6 L272 55.9 L272.5 54.4 L273 52.2 L273.5 50.7 L274 50.1 L274.5 51 L275 52.5 L275.5 54.7 L276 56.7 L276.5 57 L277 55.9 L277.5 54.1 L278 51.6 L278.5 49.7 L279 49.3 L279.5 50.3 L280 52.7 L280.5 55.5 L281 56.7 L281.5 57.3 L282 56.5 L282.5 54.4 L283 51.9 L283.5 50.5 L284 50.2 L284.5 51.1 L285 52.9 L285.5 55.1 L286 56.7 L286.5 56.9 L287 56 L287.5 54.5 L288 52.4 L288.5 50.8 L289 50.2 L289.5 50.9 L290 52.1 L290.5 53.8 L291 55.2 L291.5 55.3 L292 54.6 L292.5 53.3 L293 51.5 L293.5 50.4 L294 51.1 L294.5 51.7 L295 52.1 L295.5 52.1 L296 52 L296.5 51.9 L297 52.1 L297.5 52.3 L298 52.3 L298.5 52.1 L299 51.8 L299.5 51.6 L300 51.3 L300.5 51.8 L301 52.3 L301.5 52.8 L302 53.2 L302.5 53.7 L303 53.8 L303.5 53.9 L304 54.5 L304.5 55.1 L305 55.6 L305.5 56.7 L306 57.5 L306.5 58.5 L307 59.3 L307.5 60.2 L308 60.9 L308.5 61.3 L309 61 L309.5 60.7 L310 60.9 L310.5 60.7 L311 60.8 L311.5 60.7 L312 61.1 L312.5 60.8 L313 60.6 L313.5 60.7 L314 61 L314.5 60.6 L315 60 L315.5 59.8 L316 59.3 L316.5 58.6 L317 58.4 L317.5 58.1 L318 58 L318.5 57.6 L319 57.8 L319.5 57.6 L320 58.3 L320.5 58.3 L321 58.5 L321.5 58.5 L322 58.7 L322.5 58.7 L323 59.2 L323.5 59.7 L324 60 L324.5 59.8 L325 59.9 L325.5 59.6 L326 59.7 L326.5 59.9 L327 60.4 L327.5 60.6 L328 60.7 L328.5 60.5 L329 60.4 L329.5 60.5 L330 60.6 L330.5 60.9 L331 60.9 L331.5 61.4 L332 61.1 L332.5 61 L333 61.2 L333.5 61.3 L334 61.3 L334.5 61.9 L335 62.6 L335.5 62.5 L336 62.8 L336.5 63 L337 62.9 L337.5 62.5 L338 62.9 L338.5 63.2 L339 63.2 L339.5 63.3 L340 63.3 L340.5 63.3 L341 63 L341.5 63.2 L342 63.3 L342.5 63.4 L343 63.6 L343.5 63.6 L344 63.5 L344.5 63.4 L345 63.5 L345.5 63.4 L346 63.4 L346.5 63.6 L347 63.8 L347.5 63.5 L348 64 L348.5 64.4 L349 64.6 L349.5 65.1 L350 65.9 L350.5 66 L351 66.8 L351.5 67 L352 66.9 L352.5 67 L353 66.8 L353.5 66.2 L354 66.4 L354.5 66.9 L355 66.8 L355.5 67.3 L356 67.7 L356.5 68 L357 67.5 L357.5 67.8 L358 67.8 L358.5 67.8 L359 68.1 L359.5 68.6 L360 68.7 L360.5 69 L361 68.9 L361.5 68.8 L362 68.8 L362.5 68.7 L363 68.8 L363.5 69.1 L364 69.6 L364.5 70.3 L365 70.6 L365.5 70.9 L366 71.1 L366.5 71.1 L367 70.8 L367.5 70.8 L368 70.6 L368.5 70.6 L369 70.2 L369.5 70.3 L370 70.4 L370.5 70.8 L371 71 L371.5 71.5 L372 71.4 L372.5 71.7 L373 71.3 L373.5 71.3 L374 71 L374.5 70.9 L375 70.7 L375.5 71.1 L376 70.6 L376.5 70.6 L377 70.1 L377.5 70.2 L378 69.6 L378.5 69.8 L379 69.6 L379.5 70.6 L380 70.6 L380.5 71.5 L381 71.9 L381.5 72.1 L382 71.8 L382.5 72.2 L383 72.2 L383.5 72.6 L384 73 L384.5 73.2 L385 73.2 L385.5 73.3 L386 73.1" fill="none" stroke="#4a4a4a" stroke-width="0.75" stroke-opacity="0.85"/>
<path d="M45.5 87.6 L46 87.6 L46.5 87.4 L47 87.3 L47.5 87.5 L48 88 L48.5 88.3 L49 88.6 L49.5 88.4 L50 88.5 L50.5 88.3 L51 87.9 L51.5 87.8 L52 88 L52.5 87.9 L53 88 L53.5 88.4 L54 88.2 L54.5 88 L55 87.8 L55.5 87.6 L56 87.2 L56.5 87.4 L57 87.3 L57.5 87.4 L58 87.1 L58.5 86.8 L59 86.8 L59.5 86.5 L60 86.4 L60.5 86.3 L61 86.5 L61.5 86.4 L62 86.4 L62.5 86.4 L63 86 L63.5 86 L64 85.7 L64.5 85.6 L65 85.4 L65.5 85.8 L66 86 L66.5 85.8 L67 85.9 L67.5 85.8 L68 86.1 L68.5 85.8 L69 86.3 L69.5 86.3 L70 86.6 L70.5 86.6 L71 86.7 L71.5 86.7 L72 86.6 L72.5 86.6 L73 86.6 L73.5 86.7 L74 86.9 L74.5 86.9 L75 86.6 L75.5 86.2 L76 86.3 L76.5 86.2 L77 86.6 L77.5 87 L78 87.4 L78.5 87.5 L79 87.3 L79.5 87.2 L80 87.6 L80.5 87.1 L81 87.2 L81.5 87.7 L82 88.1 L82.5 87.5 L83 88 L83.5 88.2 L84 88.1 L84.5 87.8 L85 88.1 L85.5 88.1 L86 88.1 L86.5 88.1 L87 88.2 L87.5 87.8 L88 87.8 L88.5 87.9 L89 87.9 L89.5 88.1 L90 89 L90.5 89 L91 89.1 L91.5 90.1 L92 92.4 L92.5 94.6 L93 97 L93.5 97 L94 96.2 L94.5 94.6 L95 93.2 L95.5 91.5 L96 90.4 L96.5 88.9 L97 87.7 L97.5 86.4 L98 85 L98.5 83.5 L99 82.1 L99.5 80.4 L100 78.3 L100.5 77.1 L101 76 L101.5 75.2 L102 74 L102.5 73.1 L103 71.8 L103.5 70.9 L104 70.2 L104.5 70.2 L105 70.1 L105.5 70.2 L106 70.4 L106.5 70.2 L107 70.2 L107.5 70.3 L108 69.9 L108.5 69.8 L109 70.2 L109.5 70.1 L110 70.2 L110.5 70.6 L111 70.7 L111.5 70.8 L112 70.9 L112.5 71 L113 70.9 L113.5 71.2 L114 71.1 L114.5 71.5 L115 72.7 L115.5 74.3 L116 74.8 L116.5 75.6 L117 76 L117.5 75.3 L118 74.9 L118.5 74.7 L119 74.6 L119.5 75 L120 75.8 L120.5 76.6 L121 76.9 L121.5 76.5 L122 75.6 L122.5 74.7 L123 73.6 L123.5 73.8 L124 74.5 L124.5 75.5 L125 76.5 L125.5 77.4 L126 77.2 L126.5 76.8 L127 76.3 L127.5 75.1 L128 74.2 L128.5 74.4 L129 74.7 L129.5 75.2 L130 76.1 L130.5 76.9 L131 76.9 L131.5 76.3 L132 75.3 L132.5 74.4 L133 73.5 L133.5 72.8 L134 73.2 L134.5 74.2 L135 75.2 L135.5 75.7 L136 75.9 L136.5 75.1 L137 73.4 L137.5 71.8 L138 70.6 L138.5 70.4 L139 70.7 L139.5 72 L140 73.1 L140.5 73.8 L141 73.9 L141.5 73.2 L142 71.8 L142.5 70.1 L143 69 L143.5 68.1 L144 68.7 L144.5 69.7 L145 71.5 L145.5 72.5 L146 72.9 L146.5 72.2 L147 70.6 L147.5 68.7 L148 67.4 L148.5 67 L149 67.4 L149.5 68.9 L150 70.4 L150.5 71.5 L151 71.8 L151.5 71 L152 69.1 L152.5 66.9 L153 65.3 L153.5 64.7 L154 65.4 L154.5 67 L155 68.9 L155.5 70.2 L156 70.3 L156.5 69 L157 67.5 L157.5 65.7 L158 64.2 L158.5 63.8 L159 64.4 L159.5 65.7 L160 67.2 L160.5 68.3 L161 68.2 L161.5 67.4 L162 65.4 L162.5 63.4 L163 62.2 L163.5 61.9 L164 62.3 L164.5 63.7 L165 64.9 L165.5 65.6 L166 65.7 L166.5 65.1 L167 63.5 L167.5 62 L168 60.8 L168.5 60 L169 60.4 L169.5 61.7 L170 63.3 L170.5 64.2 L171 64.8 L171.5 64.4 L172 63.1 L172.5 61.3 L173 60.3 L173.5 59.8 L174 60.3 L174.5 61.5 L175 63 L175.5 64.2 L176 64.4 L176.5 63.6 L177 62.4 L177.5 60.9 L178 59.6 L178.5 59.3 L179 59.8 L179.5 60.8 L180 62.2 L180.5 63 L181 62.9 L181.5 62.3 L182 61 L182.5 59.2 L183 58.3 L183.5 58 L184 58.4 L184.5 59.8 L185 61.2 L185.5 62.4 L186 62.9 L186.5 62.5 L187 61.2 L187.5 60 L188 58.9 L188.5 58.4 L189 59 L189.5 60.3 L190 61.2 L190.5 62.3 L191 62.7 L191.5 61.6 L192 60.3 L192.5 58.7 L193 57.6 L193.5 57.1 L194 58.1 L194.5 59.4 L195 60.7 L195.5 61.6 L196 61.7 L196.5 60.8 L197 59.5 L197.5 58.2 L198 56.8 L198.5 56.6 L199 57.4 L199.5 58.6 L200 60.3 L200.5 61.5 L201 61.9 L201.5 61 L202 59.4 L202.5 57.6 L203 56.7 L203.5 56.2 L204 57.1 L204.5 58.4 L205 59.7 L205.5 61 L206 61.3 L206.5 60.1 L207 58.5 L207.5 56.9 L208 55.8 L208.5 55.6 L209 56.9 L209.5 58.4 L210 60.2 L210.5 61.3 L211 61.5 L211.5 60.5 L212 59.1 L212.5 57.5 L213 56.3 L213.5 55.9 L214 56.5 L214.5 58.6 L215 60 L215.5 61.3 L216 61.9 L216.5 61 L217 59 L217.5 57.1 L218 55.7 L218.5 55.1 L219 56.5 L219.5 58.2 L220 60 L220.5 61.4 L221 61.5 L221.5 60.2 L222 58.9 L222.5 57 L223 55.5 L223.5 55.3 L224 56 L224.5 56.7 L225 58.7 L225.5 59.7 L226 59.8 L226.5 59.2 L227 57.9 L227.5 56 L228 55.1 L228.5 55.4 L229 56.3 L229.5 57.9 L230 59.3 L230.5 60.2 L231 59.7 L231.5 59.1 L232 57.6 L232.5 56.6 L233 55.6 L233.5 55.6 L234 55.8 L234.5 57.1 L235 58 L235.5 58.7 L236 58.9 L236.5 58.5 L237 57.3 L237.5 56.5 L238 56 L238.5 55.9 L239 56.5 L239.5 57.7 L240 58.3 L240.5 59.2 L241 59.1 L241.5 58.3 L242 57.1 L242.5 56.3 L243 55.5 L243.5 55.6 L244 56 L244.5 57 L245 58.6 L245.5 59.5 L246 59.7 L246.5 59.6 L247 58.3 L247.5 56.5 L248 55.6 L248.5 55.3 L249 55.7 L249.5 57 L250 58.5 L250.5 59 L251 59 L251.5 58.9 L252 58.1 L252.5 56.6 L253 56.2 L253.5 55.9 L254 56.1 L254.5 56.6 L255 58.3 L255.5 59 L256 59.8 L256.5 59.3 L257 58.3 L257.5 56.2 L258 55.4 L258.5 54.6 L259 55.2 L259.5 56.3 L260 58.5 L260.5 59.6 L261 59.8 L261.5 59.1 L262 58 L262.5 56.2 L263 54.7 L263.5 54.8 L264 55.6 L264.5 57 L265 58.6 L265.5 59.5 L266 59.3 L266.5 58.7 L267 57.1 L267.5 55.1 L268 54.3 L268.5 53.8 L269 54.4 L269.5 56.1 L270 58.3 L270.5 59.5 L271 60.3 L271.5 59.7 L272 57.8 L272.5 55.9 L273 54.4 L273.5 53.6 L274 54.3 L274.5 56 L275 57.8 L275.5 59.2 L276 59.8 L276.5 58.9 L277 57.6 L277.5 55.7 L278 54.2 L278.5 54.3 L279 55 L279.5 56.4 L280 58.1 L280.5 60 L281 60 L281.5 59.2 L282 57.2 L282.5 55.4 L283 53.8 L283.5 53.5 L284 54.2 L284.5 55.8 L285 57.6 L285.5 58.6 L286 58.7 L286.5 57.9 L287 56.5 L287.5 54.9 L288 54.2 L288.5 54 L289 54.9 L289.5 56.3 L290 57.5 L290.5 58.1 L291 57.9 L291.5 56.8 L292 55.5 L292.5 54 L293 53.4 L293.5 53.2 L294 53.7 L294.5 54 L295 54.6 L295.5 54.1 L296 54 L296.5 53.9 L297 54.2 L297.5 53.8 L298 53.9 L298.5 53.5 L299 53.9 L299.5 53.9 L300 54.2 L300.5 54.7 L301 55.4 L301.5 55.5 L302 56 L302.5 56.4 L303 56.7 L303.5 57.3 L304 57.8 L304.5 58.4 L305 59 L305.5 59.4 L306 60 L306.5 60.1 L307 60.1 L307.5 60.3 L308 60.4 L308.5 59.8 L309 60.4 L309.5 60.6 L310 60.2 L310.5 60.6 L311 60.8 L311.5 60.3 L312 60.2 L312.5 60.3 L313 59.9 L313.5 59.8 L314 59.7 L314.5 59.7 L315 59.7 L315.5 60.1 L316 60.2 L316.5 60.4 L317 60.4 L317.5 60.6 L318 61 L318.5 61.4 L319 61.5 L319.5 61.9 L320 61.7 L320.5 61.5 L321 61 L321.5 61 L322 60.7 L322.5 60.7 L323 60.5 L323.5 60.3 L324 60.2 L324.5 60.5 L325 61.5 L325.5 61.9 L326 62.5 L326.5 62.7 L327 63 L327.5 62.3 L328 62.2 L328.5 62.3 L329 62.3 L329.5 62.3 L330 62.7 L330.5 62.6 L331 62.3 L331.5 62.2 L332 61.8 L332.5 61.8 L333 62.2 L333.5 62.6 L334 63 L334.5 63.1 L335 63.2 L335.5 62.8 L336 62.9 L336.5 63.2 L337 63.8 L337.5 63.9 L338 64.3 L338.5 64.8 L339 64.9 L339.5 64.5 L340 64.5 L340.5 64.7 L341 64.9 L341.5 64.7 L342 65.5 L342.5 65.9 L343 66.6 L343.5 66.7 L344 67 L344.5 66.9 L345 67.1 L345.5 66.9 L346 66.7 L346.5 67 L347 67.1 L347.5 67 L348 66.6 L348.5 66.4 L349 65.9 L349.5 65.7 L350 65.8 L350.5 66.2 L351 66.6 L351.5 66.9 L352 67.6 L352.5 67.5 L353 67.2 L353.5 67.5 L354 67.9 L354.5 67.9 L355 68.1 L355.5 68.2 L356 68.1 L356.5 68.1 L357 67.9 L357.5 68 L358 68.3 L358.5 68.5 L359 68.9 L359.5 69.3 L360 69.3 L360.5 69.3 L361 69.1 L361.5 68.8 L362 68.3 L362.5 68.4 L363 68.3 L363.5 68.4 L364 68.7 L364.5 69.3 L365 69.4 L365.5 69.7 L366 70.2 L366.5 70 L367 69.7 L367.5 70.1 L368 70.4 L368.5 70.6 L369 70.9 L369.5 70.8 L370 70.7 L370.5 70.5 L371 70 L371.5 69.5 L372 69.8 L372.5 69.5 L373 69.8 L373.5 70.3 L374 70.7 L374.5 70.9 L375 71.5 L375.5 71.7 L376 71.7 L376.5 71.8 L377 71.9 L377.5 72.3 L378 72.5 L378.5 72.6 L379 72.9 L379.5 72.9 L380 72.7 L380.5 72.6 L381 73.1 L381.5 72.9 L382 73.3 L382.5 73.6 L383 73.7 L383.5 73.6 L384 74.2 L384.5 74.3 L385 74.6 L385.5 75 L386 75.2" fill="none" stroke="#4a4a4a" stroke-width="0.75" stroke-opacity="0.85"/>
<path d="M45.5 87.8 L46 87.7 L46.5 88 L47 87.5 L47.5 87.3 L48 87.3 L48.5 87.1 L49 86.9 L49.5 87.1 L50 87.3 L50.5 87 L51 87.2 L51.5 87.1 L52 87.3 L52.5 87.2 L53 87.7 L53.5 87.8 L54 87.6 L54.5 87.7 L55 87.9 L55.5 87.7 L56 88 L56.5 87.9 L57 87.8 L57.5 87.8 L58 87.5 L58.5 87.1 L59 86.6 L59.5 86.1 L60 86.1 L60.5 85.7 L61 85.5 L61.5 86 L62 86.1 L62.5 86 L63 86 L63.5 86.1 L64 86.3 L64.5 86 L65 85.7 L65.5 86.4 L66 86.7 L66.5 86.7 L67 86.5 L67.5 86.5 L68 86.3 L68.5 86.1 L69 86.1 L69.5 87.2 L70 87.2 L70.5 87 L71 87.2 L71.5 87.2 L72 86.6 L72.5 86.7 L73 87 L73.5 87.1 L74 86.9 L74.5 87 L75 87.1 L75.5 86.9 L76 87.1 L76.5 87.5 L77 87.4 L77.5 87.4 L78 87.9 L78.5 88 L79 87.8 L79.5 88.2 L80 88.1 L80.5 87.5 L81 87.3 L81.5 87.4 L82 87.3 L82.5 87.5 L83 87.8 L83.5 87.6 L84 87.7 L84.5 87.7 L85 87.7 L85.5 87.8 L86 87.6 L86.5 87.4 L87 87.5 L87.5 87.9 L88 87.8 L88.5 88 L89 87.9 L89.5 87.6 L90 87.3 L90.5 86.9 L91 86.8 L91.5 86.7 L92 86.1 L92.5 84.9 L93 84.5 L93.5 83.6 L94 83.4 L94.5 83 L95 82.7 L95.5 82.5 L96 82.5 L96.5 81.5 L97 81 L97.5 80.1 L98 78.9 L98.5 77.9 L99 76.8 L99.5 76.1 L100 76 L100.5 76.1 L101 76 L101.5 76.9 L102 77.1 L102.5 77.5 L103 78.1 L103.5 78.8 L104 79.6 L104.5 80.3 L105 81.1 L105.5 82 L106 83.2 L106.5 83.9 L107 85.1 L107.5 85.8 L108 86.2 L108.5 86.4 L109 86.7 L109.5 86.9 L110 87.1 L110.5 87 L111 87.5 L111.5 87.7 L112 87.7 L112.5 88 L113 88.4 L113.5 87.9 L114 87.9 L114.5 88 L115 88 L115.5 87.8 L116 87.7 L116.5 87.6 L117 87.4 L117.5 87.5 L118 87.7 L118.5 88.3 L119 88.8 L119.5 89.1 L120 88.9 L120.5 88.9 L121 88.1 L121.5 87.5 L122 87.1 L122.5 87.5 L123 88 L123.5 88.9 L124 89.8 L124.5 90.4 L125 90.3 L125.5 89.6 L126 88.8 L126.5 87.9 L127 87.5 L127.5 87.6 L128 88.6 L128.5 89.8 L129 90.9 L129.5 91.5 L130 91.3 L130.5 90.4 L131 89.1 L131.5 88.2 L132 87.3 L132.5 87.2 L133 87.9 L133.5 89.1 L134 90 L134.5 90.5 L135 90 L135.5 89.2 L136 87.5 L136.5 86.1 L137 85.5 L137.5 86.1 L138 87.2 L138.5 89 L139 90.2 L139.5 90.8 L140 90.3 L140.5 88.9 L141 86.9 L141.5 85.4 L142 84.6 L142.5 84.8 L143 85.7 L143.5 87.5 L144 88.8 L144.5 89.4 L145 88.7 L145.5 87.6 L146 86 L146.5 84.4 L147 83.5 L147.5 83.6 L148 84.7 L148.5 85.8 L149 87.3 L149.5 87.9 L150 87.6 L150.5 86.3 L151 84.6 L151.5 82.8 L152 81.8 L152.5 81.9 L153 82.5 L153.5 84 L154 85.2 L154.5 85.7 L155 85.3 L155.5 83.8 L156 81.8 L156.5 80.2 L157 79.1 L157.5 79.4 L158 80.1 L158.5 81.4 L159 82.3 L159.5 82.6 L160 81.9 L160.5 80.6 L161 78.7 L161.5 77.6 L162 76.9 L162.5 76.8 L163 77.7 L163.5 79.5 L164 80.4 L164.5 80.7 L165 80.6 L165.5 79.9 L166 78 L166.5 76.9 L167 76.3 L167.5 76 L168 76.5 L168.5 77.3 L169 78.1 L169.5 78.5 L170 77.9 L170.5 76.9 L171 76 L171.5 74.7 L172 73.9 L172.5 74.2 L173 74.9 L173.5 75.3 L174 76.4 L174.5 77 L175 76.8 L175.5 76.3 L176 75.6 L176.5 74.6 L177 74 L177.5 73.8 L178 74.4 L178.5 75.5 L179 76.4 L179.5 76.9 L180 77 L180.5 75.8 L181 74.5 L181.5 73.4 L182 72.4 L182.5 72.3 L183 73.3 L183.5 74.2 L184 75 L184.5 75.6 L185 75.6 L185.5 74.4 L186 73 L186.5 71.8 L187 70.9 L187.5 70.8 L188 71.9 L188.5 73.4 L189 74.9 L189.5 75.8 L190 75.9 L190.5 75 L191 73.2 L191.5 71.7 L192 70.8 L192.5 70.6 L193 71.1 L193.5 72.4 L194 73.6 L194.5 74.1 L195 74.1 L195.5 73.1 L196 71.7 L196.5 70.3 L197 69.7 L197.5 69.5 L198 70.5 L198.5 71.7 L199 72.7 L199.5 73.1 L200 73.3 L200.5 71.9 L201 70.6 L201.5 69.6 L202 69 L202.5 69 L203 70.7 L203.5 72.4 L204 74.1 L204.5 75.2 L205 74.6 L205.5 73.2 L206 71.2 L206.5 69 L207 67.7 L207.5 68.3 L208 69.2 L208.5 70.8 L209 72.4 L209.5 73.5 L210 72.9 L210.5 71.8 L211 70 L211.5 68.3 L212 67.3 L212.5 67.5 L213 68.9 L213.5 70.8 L214 72.7 L214.5 73.7 L215 73.4 L215.5 71.8 L216 70.2 L216.5 68.1 L217 67.2 L217.5 67.6 L218 68.7 L218.5 70.2 L219 71.7 L219.5 72.2 L220 71.7 L220.5 70.6 L221 69.4 L221.5 68.6 L222 68 L222.5 68.1 L223 68.9 L223.5 69.8 L224 70.2 L224.5 71 L225 70.9 L225.5 70.3 L226 69 L226.5 68.1 L227 67.2 L227.5 67.4 L228 67.8 L228.5 68.9 L229 69.8 L229.5 70.5 L230 70.1 L230.5 69.2 L231 68.6 L231.5 67.7 L232 67.3 L232.5 67.9 L233 68.8 L233.5 69.6 L234 70.4 L234.5 71.1 L235 70.7 L235.5 70.1 L236 68.9 L236.5 68 L237 67.4 L237.5 66.9 L238 67.5 L238.5 68.5 L239 69.4 L239.5 69.4 L240 69.8 L240.5 68.9 L241 67.8 L241.5 66.6 L242 66 L242.5 65.8 L243 66.4 L243.5 67.4 L244 68.6 L244.5 69.5 L245 69.5 L245.5 69 L246 68.3 L246.5 67.1 L247 66.1 L247.5 66 L248 66.8 L248.5 67.7 L249 68.8 L249.5 69.7 L250 70 L250.5 69.1 L251 67.6 L251.5 66.2 L252 65.5 L252.5 65.5 L253 66.6 L253.5 68.3 L254 69.3 L254.5 70.2 L255 70.1 L255.5 69.3 L256 67.5 L256.5 66.2 L257 65.3 L257.5 65.1 L258 65.5 L258.5 67 L259 69 L259.5 70 L260 70.1 L260.5 69.1 L261 68 L261.5 66 L262 64.9 L262.5 64.6 L263 66.1 L263.5 67.4 L264 69.3 L264.5 70.2 L265 70.3 L265.5 69 L266 66.9 L266.5 65.4 L267 64.7 L267.5 64.8 L268 65.8 L268.5 67.7 L269 69.2 L269.5 69.9 L270 69.8 L270.5 68.7 L271 66.9 L271.5 65.1 L272 64.3 L272.5 64.3 L273 65.3 L273.5 67.1 L274 68.6 L274.5 69.3 L275 69.3 L275.5 68.4 L276 66.9 L276.5 65.7 L277 64.6 L277.5 64.8 L278 65.4 L278.5 66.7 L279 67.7 L279.5 68.8 L280 68.4 L280.5 67.7 L281 66.5 L281.5 65.5 L282 64.7 L282.5 64.7 L283 65.8 L283.5 66.7 L284 67.7 L284.5 67.9 L285 67.6 L285.5 66.7 L286 65.8 L286.5 64.7 L287 64.3 L287.5 64.5 L288 64.9 L288.5 65.4 L289 66.1 L289.5 66.1 L290 65.8 L290.5 65.1 L291 63.9 L291.5 62.6 L292 62.2 L292.5 62.2 L293 62.6 L293.5 63.3 L294 64.1 L294.5 63.8 L295 62.7 L295.5 62.2 L296 61.9 L296.5 61.5 L297 61.5 L297.5 61.4 L298 60.8 L298.5 60.2 L299 59.8 L299.5 60 L300 60.5 L300.5 61.2 L301 62 L301.5 62.2 L302 62.7 L302.5 63.1 L303 63.6 L303.5 63.6 L304 64.6 L304.5 64.9 L305 64.7 L305.5 64.4 L306 64.2 L306.5 63.3 L307 62.7 L307.5 62.2 L308 61.4 L308.5 61.1 L309 61.2 L309.5 61 L310 61.5 L310.5 61.7 L311 62.2 L311.5 62.5 L312 62.5 L312.5 62.4 L313 63.1 L313.5 63 L314 63.1 L314.5 63.7 L315 64.4 L315.5 64.3 L316 64.8 L316.5 65.1 L317 65 L317.5 64.3 L318 64.4 L318.5 64.4 L319 64.6 L319.5 64.8 L320 65.7 L320.5 66 L321 66.5 L321.5 66.9 L322 67.6 L322.5 67.4 L323 67.7 L323.5 67.3 L324 67 L324.5 66.5 L325 66.5 L325.5 65.9 L326 65.9 L326.5 65.6 L327 65.5 L327.5 65.1 L328 65.4 L328.5 65 L329 64.8 L329.5 64.9 L330 64.6 L330.5 64.7 L331 64.7 L331.5 64.9 L332 64.6 L332.5 64.9 L333 64.5 L333.5 64.6 L334 64.6 L334.5 64.9 L335 65.2 L335.5 65.6 L336 65.9 L336.5 66.1 L337 65.8 L337.5 65.8 L338 65.7 L338.5 65.5 L339 65.7 L339.5 66.1 L340 65.8 L340.5 65.7 L341 65.8 L341.5 65.4 L342 65.3 L342.5 65.5 L343 65.8 L343.5 66.1 L344 66.8 L344.5 67.2 L345 67.7 L345.5 68.1 L346 68.7 L346.5 69.2 L347 69.7 L347.5 70 L348 70.4 L348.5 70.6 L349 71.1 L349.5 71.1 L350 71.4 L350.5 71.9 L351 72.4 L351.5 72.2 L352 72.9 L352.5 73.3 L353 73.3 L353.5 72.9 L354 73.2 L354.5 73.1 L355 73.1 L355.5 73.1 L356 73.7 L356.5 73.7 L357 73.8 L357.5 73.6 L358 73.7 L358.5 73.6 L359 74 L359.5 74.3 L360 74.6 L360.5 74.7 L361 74.6 L361.5 74.7 L362 74.4 L362.5 74.3 L363 74.7 L363.5 74.3 L364 73.7 L364.5 73.7 L365 73.5 L365.5 73.1 L366 73.2 L366.5 73.4 L367 73.5 L367.5 73.2 L368 73.2 L368.5 73.5 L369 73.5 L369.5 74.2 L370 74.5 L370.5 74.9 L371 75.2 L371.5 75.7 L372 75.2 L372.5 75.3 L373 75.1 L373.5 74.8 L374 74.8 L374.5 74.9 L375 74.9 L375.5 75 L376 75.6 L376.5 75.4 L377 75.4 L377.5 75.2 L378 75 L378.5 74.6 L379 74.6 L379.5 75 L380 75.1 L380.5 75.2 L381 75.2 L381.5 75.2 L382 75.2 L382.5 75.5 L383 75.8 L383.5 75.7 L384 75.5 L384.5 75.3 L385 75.3 L385.5 75.1 L386 75.2" fill="none" stroke="#4a4a4a" stroke-width="0.75" stroke-opacity="0.85"/>
<path d="M45.5 87.6 L46 87.8 L46.5 87.9 L47 87.8 L47.5 87.7 L48 87.9 L48.5 87.9 L49 87.9 L49.5 87.8 L50 87.6 L50.5 87.8 L51 87.7 L51.5 87.7 L52 88 L52.5 88.5 L53 88.1 L53.5 88.3 L54 88 L54.5 88.1 L55 88.1 L55.5 88 L56 87.8 L56.5 87.9 L57 87.6 L57.5 87.2 L58 87.1 L58.5 86.7 L59 86.7 L59.5 86.8 L60 86.5 L60.5 86.3 L61 86.8 L61.5 86.7 L62 86.6 L62.5 86.4 L63 86.6 L63.5 86.2 L64 85.8 L64.5 86.1 L65 86.3 L65.5 86.5 L66 86.3 L66.5 86.3 L67 85.9 L67.5 86 L68 85.9 L68.5 86.1 L69 86.3 L69.5 86.5 L70 86.8 L70.5 86.8 L71 86.7 L71.5 86.7 L72 87 L72.5 86.7 L73 86.7 L73.5 86.9 L74 87 L74.5 86.9 L75 86.9 L75.5 86.9 L76 87.2 L76.5 87.4 L77 87.5 L77.5 87.9 L78 87.9 L78.5 87.8 L79 87.8 L79.5 87.5 L80 87.4 L80.5 87.1 L81 87.2 L81.5 86.9 L82 86.9 L82.5 87 L83 87.2 L83.5 87.2 L84 87.3 L84.5 87.4 L85 87.5 L85.5 87.5 L86 87.6 L86.5 87.4 L87 87.4 L87.5 87.1 L88 87.1 L88.5 86.9 L89 87.2 L89.5 87.6 L90 87.6 L90.5 87.6 L91 87.7 L91.5 88.1 L92 88.3 L92.5 88.6 L93 88.8 L93.5 88.8 L94 88.2 L94.5 87.7 L95 87.3 L95.5 86.8 L96 86.7 L96.5 86.9 L97 87 L97.5 86.8 L98 87.3 L98.5 88 L99 88.2 L99.5 88.6 L100 89.2 L100.5 90.3 L101 91 L101.5 92.4 L102 93.9 L102.5 96.3 L103 97.8 L103.5 99.7 L104 102.2 L104.5 104.8 L105 107.2 L105.5 109.6 L106 111.9 L106.5 114.3 L107 117.2 L107.5 119.8 L108 122.8 L108.5 124.8 L109 125.8 L109.5 125.6 L110 124.8 L110.5 123.2 L111 121.5 L111.5 119.6 L112 118.1 L112.5 116.5 L113 115.1 L113.5 113.2 L114 111.6 L114.5 109.3 L115 107.4 L115.5 105.5 L116 104.4 L116.5 103.1 L117 102.3 L117.5 101.1 L118 99.7 L118.5 98.5 L119 97.6 L119.5 97.2 L120 97.6 L120.5 98.3 L121 98.8 L121.5 99 L122 98.4 L122.5 97 L123 95.1 L123.5 93.9 L124 93.8 L124.5 94.6 L125 96 L125.5 97.8 L126 99.2 L126.5 99.8 L127 99.5 L127.5 98.4 L128 97.1 L128.5 96.3 L129 95.9 L129.5 97 L130 99.2 L130.5 101.4 L131 103.2 L131.5 104.2 L132 103.6 L132.5 101.8 L133 100.1 L133.5 98.8 L134 98.6 L134.5 99.9 L135 102.2 L135.5 105.1 L136 107.2 L136.5 108.1 L137 107.6 L137.5 106.6 L138 105.1 L138.5 103.8 L139 104 L139.5 105.6 L140 108.2 L140.5 110.6 L141 113.1 L141.5 114.6 L142 114.2 L142.5 112.8 L143 110.8 L143.5 109.6 L144 108.9 L144.5 109.5 L145 111.3 L145.5 114.2 L146 115.9 L146.5 116.7 L147 116.4 L147.5 114.6 L148 112.4 L148.5 110.7 L149 110 L149.5 110.6 L150 112.4 L150.5 114.5 L151 116 L151.5 116.9 L152 116.7 L152.5 115.1 L153 113.1 L153.5 111.5 L154 110.5 L154.5 110.8 L155 112.2 L155.5 113.8 L156 115.2 L156.5 116.1 L157 115.4 L157.5 114.3 L158 113.2 L158.5 112.2 L159 111.8 L159.5 112.7 L160 113.9 L160.5 115.5 L161 116.7 L161.5 117.6 L162 117.4 L162.5 116.6 L163 115.8 L163.5 115 L164 114.8 L164.5 115.3 L165 116.5 L165.5 117.3 L166 118.2 L166.5 118 L167 117 L167.5 115.6 L168 113.6 L168.5 111.9 L169 110.7 L169.5 110.1 L170 110.4 L170.5 110.9 L171 110.8 L171.5 110.4 L172 109.6 L172.5 108 L173 106.3 L173.5 105.5 L174 105.2 L174.5 105.8 L175 106.9 L175.5 108.3 L176 109 L176.5 109.2 L177 108.6 L177.5 107.1 L178 105.3 L178.5 103.7 L179 103.1 L179.5 103.4 L180 104.3 L180.5 106 L181 107.7 L181.5 108 L182 107.4 L182.5 106.3 L183 104.1 L183.5 102.4 L184 101.8 L184.5 102.3 L185 103.9 L185.5 105.7 L186 107.2 L186.5 107.8 L187 107.2 L187.5 105.6 L188 103.7 L188.5 101.9 L189 100.9 L189.5 101.4 L190 102.5 L190.5 105 L191 106.8 L191.5 107.7 L192 106.4 L192.5 104.8 L193 102.5 L193.5 100.3 L194 99.5 L194.5 100.5 L195 102.5 L195.5 104.6 L196 106.6 L196.5 107.1 L197 106.4 L197.5 104.4 L198 102.3 L198.5 100.5 L199 100.1 L199.5 100.5 L200 102.4 L200.5 104.3 L201 106.1 L201.5 106.5 L202 106.2 L202.5 104.6 L203 102.4 L203.5 100.6 L204 100 L204.5 100.5 L205 101.5 L205.5 103.5 L206 104.9 L206.5 105.3 L207 104.5 L207.5 103 L208 101.4 L208.5 100.1 L209 100 L209.5 100.5 L210 101.9 L210.5 103.4 L211 104.3 L211.5 104.4 L212 103.9 L212.5 102.7 L213 101 L213.5 100.1 L214 100 L214.5 100.7 L215 101.7 L215.5 103.3 L216 104.2 L216.5 104.2 L217 103.4 L217.5 102.3 L218 101 L218.5 100 L219 99.5 L219.5 100 L220 101.2 L220.5 102.6 L221 103.5 L221.5 103.8 L222 103.5 L222.5 102.2 L223 100.6 L223.5 100 L224 99.8 L224.5 100.1 L225 101.3 L225.5 102.6 L226 103.4 L226.5 103.8 L227 103.8 L227.5 103 L228 101.8 L228.5 100.8 L229 100.5 L229.5 100.5 L230 101.5 L230.5 103 L231 104.2 L231.5 104.4 L232 104.5 L232.5 103.1 L233 101.6 L233.5 100.6 L234 100.4 L234.5 100.7 L235 102.6 L235.5 104.4 L236 105.9 L236.5 106.4 L237 106.2 L237.5 104.5 L238 103.2 L238.5 101.9 L239 101.5 L239.5 102.5 L240 104.1 L240.5 106 L241 107.5 L241.5 108.1 L242 107.5 L242.5 105.9 L243 104 L243.5 102.4 L244 102.1 L244.5 102.9 L245 105 L245.5 106.8 L246 108.7 L246.5 109.2 L247 108.2 L247.5 106.2 L248 104.2 L248.5 102.7 L249 101.8 L249.5 102.7 L250 104.8 L250.5 107 L251 108.5 L251.5 109.7 L252 108.8 L252.5 107.1 L253 105.2 L253.5 103.3 L254 102.6 L254.5 103.6 L255 105.3 L255.5 107.1 L256 109.1 L256.5 109.4 L257 108.7 L257.5 107.1 L258 105.1 L258.5 103.4 L259 103 L259.5 103.7 L260 105.3 L260.5 107.4 L261 109.1 L261.5 109.6 L262 108.4 L262.5 107 L263 105.4 L263.5 103.7 L264 103.3 L264.5 104.5 L265 106.1 L265.5 107.7 L266 109.6 L266.5 110.2 L267 109.6 L267.5 108.1 L268 106.3 L268.5 105 L269 104.7 L269.5 105.4 L270 106.5 L270.5 108.3 L271 109.1 L271.5 109.5 L272 108.3 L272.5 107 L273 105.5 L273.5 104.5 L274 104.1 L274.5 104.7 L275 106.3 L275.5 107.6 L276 108.8 L276.5 109.2 L277 109 L277.5 107.9 L278 106.5 L278.5 105.2 L279 104.7 L279.5 105.3 L280 106.1 L280.5 107.3 L281 108.7 L281.5 109.1 L282 108.5 L282.5 107 L283 105.6 L283.5 104.5 L284 104 L284.5 104.3 L285 106 L285.5 107.4 L286 108.4 L286.5 108.7 L287 108.1 L287.5 106.5 L288 104.8 L288.5 103.2 L289 103 L289.5 103.5 L290 104.8 L290.5 106.5 L291 108 L291.5 108.1 L292 107.6 L292.5 105.6 L293 103.8 L293.5 102.3 L294 102 L294.5 102.6 L295 103 L295.5 102.6 L296 101.5 L296.5 100.3 L297 98.7 L297.5 97.6 L298 96.2 L298.5 95.4 L299 95 L299.5 94.9 L300 95.7 L300.5 97.4 L301 98.9 L301.5 99.4 L302 99.4 L302.5 98.7 L303 97.2 L303.5 95.5 L304 93.4 L304.5 91.7 L305 89.2 L305.5 86.8 L306 85.1 L306.5 84.1 L307 83.3 L307.5 82.7 L308 83.1 L308.5 83.1 L309 83.2 L309.5 83.1 L310 83.6 L310.5 83.4 L311 83.7 L311.5 83.5 L312 83.5 L312.5 83.4 L313 83.2 L313.5 83.2 L314 83.2 L314.5 83.8 L315 84.1 L315.5 84.6 L316 84.8 L316.5 85 L317 84.9 L317.5 84.3 L318 83.5 L318.5 82.6 L319 81.2 L319.5 80.2 L320 79.5 L320.5 78.8 L321 78.5 L321.5 78.8 L322 78.7 L322.5 78.4 L323 78.7 L323.5 79 L324 79.1 L324.5 79.3 L325 79.5 L325.5 79.2 L326 78.8 L326.5 78.6 L327 78.7 L327.5 78.7 L328 78.9 L328.5 79.4 L329 79.8 L329.5 79.7 L330 80.2 L330.5 80.2 L331 80.6 L331.5 81 L332 81.9 L332.5 82 L333 82.5 L333.5 82.5 L334 82.6 L334.5 82.6 L335 83 L335.5 83.5 L336 83.8 L336.5 83.9 L337 83.9 L337.5 84.1 L338 84 L338.5 84.1 L339 84.7 L339.5 85.4 L340 85.5 L340.5 85.9 L341 86.1 L341.5 85.8 L342 85.6 L342.5 85.6 L343 85.4 L343.5 85 L344 84.7 L344.5 84.5 L345 84.1 L345.5 84 L346 83.7 L346.5 83.8 L347 83.7 L347.5 83.3 L348 83 L348.5 82.7 L349 82.4 L349.5 81.9 L350 81.7 L350.5 81.3 L351 80.9 L351.5 80.4 L352 80.1 L352.5 79.9 L353 79.8 L353.5 79.7 L354 79.7 L354.5 79.5 L355 79.6 L355.5 79.6 L356 79.8 L356.5 79.6 L357 80.1 L357.5 79.8 L358 79.5 L358.5 79 L359 79.1 L359.5 78.4 L360 78.7 L360.5 78.5 L361 78.8 L361.5 78.6 L362 78.9 L362.5 78.6 L363 78.6 L363.5 78.6 L364 78.3 L364.5 77.9 L365 77.9 L365.5 77.6 L366 77.5 L366.5 77.4 L367 77.3 L367.5 77 L368 77.2 L368.5 76.7 L369 76.5 L369.5 76.5 L370 76.3 L370.5 75.9 L371 75.6 L371.5 75.4 L372 75.2 L372.5 75.3 L373 75.7 L373.5 76.1 L374 76.7 L374.5 76.9 L375 76.7 L375.5 76.4 L376 76.5 L376.5 75.7 L377 75.6 L377.5 75.5 L378 75.5 L378.5 75.6 L379 76.2 L379.5 76.5 L380 76.3 L380.5 76.4 L381 75.9 L381.5 75.5 L382 75.2 L382.5 75 L383 74.7 L383.5 74.9 L384 74.9 L384.5 74.9 L385 74.6 L385.5 74.4 L386 74.1" fill="none" stroke="#4a4a4a" stroke-width="0.75" stroke-opacity="0.85"/>
<rect x="45.5" y="12.3" width="340.5" height="150.0" fill="none" stroke="#c4c4c4" stroke-width="0.9"/>
<text x="42" y="26" text-anchor="end" font-size="10" fill="#333">500</text>
<text x="42" y="58.4" text-anchor="end" font-size="10" fill="#333">250</text>
<text x="42" y="91.2" text-anchor="end" font-size="10" fill="#333">0</text>
<text x="42" y="123.6" text-anchor="end" font-size="10" fill="#333">-250</text>
<text x="42" y="156" text-anchor="end" font-size="10" fill="#333">-500</text>
<text x="45.5" y="176.6" text-anchor="middle" font-size="10" fill="#333">-0.2</text>
<text x="85.5" y="176.6" text-anchor="middle" font-size="10" fill="#333">0</text>
<text x="125.5" y="176.6" text-anchor="middle" font-size="10" fill="#333">0.2</text>
<text x="165.5" y="176.6" text-anchor="middle" font-size="10" fill="#333">0.4</text>
<text x="206.2" y="176.6" text-anchor="middle" font-size="10" fill="#333">0.6</text>
<text x="246.2" y="176.6" text-anchor="middle" font-size="10" fill="#333">0.8</text>
<text x="286.2" y="176.6" text-anchor="middle" font-size="10" fill="#333">1</text>
<text x="326.2" y="176.6" text-anchor="middle" font-size="10" fill="#333">1.2</text>
<text x="366.2" y="176.6" text-anchor="middle" font-size="10" fill="#333">1.4</text>
<text x="211.3" y="191.2" text-anchor="middle" font-size="10" fill="#333">Time (s)</text>
<text transform="translate(17.5 83.6) rotate(-90)" text-anchor="middle" font-size="10" fill="#333">Amplitude (fT)</text>
<rect x="45.3" y="217.2" width="94.4" height="28.600000000000023" fill="#fff"/>
<line x1="49.1" y1="217.2" x2="49.1" y2="245.8" stroke="#f0f0f0" stroke-width="0.7"/>
<line x1="56.5" y1="217.2" x2="56.5" y2="245.8" stroke="#f0f0f0" stroke-width="0.7"/>
<line x1="63.8" y1="217.2" x2="63.8" y2="245.8" stroke="#f0f0f0" stroke-width="0.7"/>
<line x1="71.2" y1="217.2" x2="71.2" y2="245.8" stroke="#f0f0f0" stroke-width="0.7"/>
<line x1="85.8" y1="217.2" x2="85.8" y2="245.8" stroke="#f0f0f0" stroke-width="0.7"/>
<line x1="93.2" y1="217.2" x2="93.2" y2="245.8" stroke="#f0f0f0" stroke-width="0.7"/>
<line x1="100.5" y1="217.2" x2="100.5" y2="245.8" stroke="#f0f0f0" stroke-width="0.7"/>
<line x1="107.9" y1="217.2" x2="107.9" y2="245.8" stroke="#f0f0f0" stroke-width="0.7"/>
<line x1="115.2" y1="217.2" x2="115.2" y2="245.8" stroke="#f0f0f0" stroke-width="0.7"/>
<line x1="122.6" y1="217.2" x2="122.6" y2="245.8" stroke="#f0f0f0" stroke-width="0.7"/>
<line x1="129.9" y1="217.2" x2="129.9" y2="245.8" stroke="#f0f0f0" stroke-width="0.7"/>
<line x1="137.3" y1="217.2" x2="137.3" y2="245.8" stroke="#f0f0f0" stroke-width="0.7"/>
<rect x="45.3" y="217.2" width="94.4" height="28.600000000000023" fill="none" stroke="#cfcfcf" stroke-width="0.8"/>
<clipPath id="ca00"><rect x="45.3" y="245.8" width="94.4" height="65.69999999999999"/></clipPath>
<g clip-path="url(#ca00)"><g filter="url(#jA00)">
<rect x="37.3" y="237.8" width="110.4" height="81.69999999999999" fill="#828282"/>
<ellipse cx="104" cy="295.5" rx="25" ry="7.5" fill="#6b6b6b" fill-opacity="0.9"/>
<ellipse cx="84" cy="293" rx="5" ry="8" fill="#737373" fill-opacity="0.6"/>
<ellipse cx="106" cy="305.3" rx="24" ry="2.6" fill="#999999" fill-opacity="0.8"/>
<ellipse cx="107" cy="309.6" rx="23" ry="3.4" fill="#d6d6d6" fill-opacity="1"/>
<ellipse cx="111" cy="311.0" rx="11" ry="2.1" fill="#f7f7f7" fill-opacity="1"/>
<ellipse cx="46" cy="311.8" rx="3" ry="2" fill="#b8b8b8" fill-opacity="1"/>
<ellipse cx="95" cy="267.5" rx="13" ry="5.5" fill="#969696" fill-opacity="0.85"/>
<ellipse cx="85.2" cy="267.7" rx="1.7" ry="4.2" fill="#cccccc" fill-opacity="1"/>
<ellipse cx="94.2" cy="267.5" rx="1.3" ry="3.4" fill="#b2b2b2" fill-opacity="1"/>
<ellipse cx="101.2" cy="267.7" rx="2.1" ry="4.6" fill="#d9d9d9" fill-opacity="1"/>
<ellipse cx="104.6" cy="267.7" rx="1.1" ry="2.8" fill="#ababab" fill-opacity="1"/>
</g></g>
<line x1="78.5" y1="217.2" x2="78.5" y2="311.5" stroke="#444" stroke-width="0.5" stroke-opacity="0.75"/>
<path d="M45.3 241 L46.1 240.5 L46.9 240 L47.7 240.1 L48.5 241.2 L49.3 242.4 L50.1 243 L50.9 242.5 L51.7 241.6 L52.5 240.9 L53.3 240.7 L54.1 240.8 L54.9 240.8 L55.7 240.9 L56.5 241.2 L57.3 241.2 L58.1 240.7 L58.9 240 L59.7 239.8 L60.5 240.2 L61.3 241.1 L62.1 242.1 L62.9 243 L63.7 243.6 L64.5 243.4 L65.3 242.3 L66.1 241.2 L66.9 240.9 L67.7 241 L68.5 240.8 L69.3 240.2 L70.1 239.4 L70.9 238.9 L71.7 239.1 L72.5 239.8 L73.3 240.4 L74.1 240.9 L74.9 241 L75.7 241.1 L76.5 241.7 L77.3 242.2 L78.1 242.3 L78.9 242.1 L79.7 242.1 L80.5 242.4 L81.3 242 L82.1 241 L82.9 240 L83.7 239.9 L84.5 240.5 L85.3 237.2 L86.1 235.1 L86.9 234.9 L87.7 235.6 L88.5 237 L89.3 237.9 L90.1 237.5 L90.9 236.5 L91.7 235.4 L92.5 234.6 L93.3 234.4 L94.1 234.6 L94.9 234.6 L95.7 234.1 L96.5 233.8 L97.3 234.4 L98.1 235.3 L98.9 235.7 L99.7 235.8 L100.5 236.4 L101.3 237.2 L102.1 237.8 L102.9 237.6 L103.7 236.8 L104.5 235.8 L105.3 235 L106.1 235.2 L106.9 236.2 L107.7 237.2 L108.5 237.3 L109.3 237.4 L110.1 238.9 L110.9 241 L111.7 242 L112.5 241.9 L113.3 241.7 L114.1 241.7 L114.9 242.2 L115.7 242.9 L116.5 243.1 L117.3 242.4 L118.1 241 L118.9 240.2 L119.7 240.2 L120.5 240.8 L121.3 241.9 L122.1 242.9 L122.9 243 L123.7 242.1 L124.5 240.5 L125.3 239.4 L126.1 239.9 L126.9 241.2 L127.7 241.9 L128.5 241.6 L129.3 241.6 L130.1 242.5 L130.9 243 L131.7 242.4 L132.5 242 L133.3 242.3 L134.1 243 L134.9 243.5 L135.7 243.7 L136.5 243.4 L137.3 242.8 L138.1 242.9 L138.9 243.7 L139.7 244" fill="none" stroke="#8c3b5a" stroke-width="1.2" stroke-linejoin="round"/>
<text x="42.6" y="250.7" text-anchor="end" font-size="9.2" fill="#333">60</text>
<text x="42.6" y="272.4" text-anchor="end" font-size="9.2" fill="#333">40</text>
<text x="42.6" y="294.1" text-anchor="end" font-size="9.2" fill="#333">20</text>
<text transform="translate(28.0 273.8) rotate(-90)" text-anchor="middle" font-size="8.6" fill="#333">Frequency (Hz)</text>
<rect x="149.5" y="217.2" width="94.4" height="28.600000000000023" fill="#fff"/>
<line x1="153.3" y1="217.2" x2="153.3" y2="245.8" stroke="#f0f0f0" stroke-width="0.7"/>
<line x1="160.6" y1="217.2" x2="160.6" y2="245.8" stroke="#f0f0f0" stroke-width="0.7"/>
<line x1="168" y1="217.2" x2="168" y2="245.8" stroke="#f0f0f0" stroke-width="0.7"/>
<line x1="175.3" y1="217.2" x2="175.3" y2="245.8" stroke="#f0f0f0" stroke-width="0.7"/>
<line x1="190" y1="217.2" x2="190" y2="245.8" stroke="#f0f0f0" stroke-width="0.7"/>
<line x1="197.4" y1="217.2" x2="197.4" y2="245.8" stroke="#f0f0f0" stroke-width="0.7"/>
<line x1="204.8" y1="217.2" x2="204.8" y2="245.8" stroke="#f0f0f0" stroke-width="0.7"/>
<line x1="212.1" y1="217.2" x2="212.1" y2="245.8" stroke="#f0f0f0" stroke-width="0.7"/>
<line x1="219.4" y1="217.2" x2="219.4" y2="245.8" stroke="#f0f0f0" stroke-width="0.7"/>
<line x1="226.8" y1="217.2" x2="226.8" y2="245.8" stroke="#f0f0f0" stroke-width="0.7"/>
<line x1="234.1" y1="217.2" x2="234.1" y2="245.8" stroke="#f0f0f0" stroke-width="0.7"/>
<line x1="241.5" y1="217.2" x2="241.5" y2="245.8" stroke="#f0f0f0" stroke-width="0.7"/>
<rect x="149.5" y="217.2" width="94.4" height="28.600000000000023" fill="none" stroke="#cfcfcf" stroke-width="0.8"/>
<clipPath id="ca01"><rect x="149.5" y="245.8" width="94.4" height="65.69999999999999"/></clipPath>
<g clip-path="url(#ca01)"><g filter="url(#jA01)">
<rect x="141.5" y="237.8" width="110.4" height="81.69999999999999" fill="#828282"/>
<ellipse cx="200" cy="290" rx="20" ry="10" fill="#6b6b6b" fill-opacity="0.85"/>
<ellipse cx="193.7" cy="301.9" rx="5" ry="2.0" fill="#333333" fill-opacity="1"/>
<ellipse cx="205" cy="302" rx="10" ry="1.5" fill="#5c5c5c" fill-opacity="1"/>
<ellipse cx="213" cy="311" rx="27" ry="2.8" fill="#b8b8b8" fill-opacity="1"/>
<ellipse cx="225" cy="311.8" rx="12" ry="1.5" fill="#cccccc" fill-opacity="1"/>
<ellipse cx="201" cy="268.3" rx="13" ry="4.2" fill="#999999" fill-opacity="0.9"/>
<ellipse cx="190.3" cy="268.3" rx="2.6" ry="4.6" fill="#e0e0e0" fill-opacity="1"/>
<ellipse cx="200.5" cy="268.3" rx="1.4" ry="3.2" fill="#bdbdbd" fill-opacity="1"/>
<ellipse cx="203.5" cy="268.3" rx="1.4" ry="3.2" fill="#bdbdbd" fill-opacity="1"/>
<ellipse cx="211.2" cy="268.3" rx="1.6" ry="3.5" fill="#bfbfbf" fill-opacity="1"/>
</g></g>
<line x1="182.7" y1="217.2" x2="182.7" y2="311.5" stroke="#444" stroke-width="0.5" stroke-opacity="0.75"/>
<path d="M149.5 240.9 L150.3 241.7 L151.1 242.5 L151.9 242.8 L152.7 242.8 L153.5 242.7 L154.3 242.3 L155.1 241.7 L155.9 241.8 L156.7 242.4 L157.5 242.3 L158.3 241.5 L159.1 241.1 L159.9 241.6 L160.7 242.2 L161.5 242 L162.3 241.4 L163.1 241 L163.9 241 L164.7 241.2 L165.5 241.7 L166.3 242.3 L167.1 243.1 L167.9 243.4 L168.7 243.3 L169.5 242.7 L170.3 241.9 L171.1 241.1 L171.9 240.6 L172.7 240.8 L173.5 241.8 L174.3 242.5 L175.1 242.5 L175.9 242.2 L176.7 242.3 L177.5 242.2 L178.3 241.2 L179.1 240.2 L179.9 240.1 L180.7 240.5 L181.5 240.2 L182.3 239.5 L183.1 239 L183.9 239.5 L184.7 240.5 L185.5 241.2 L186.3 241.5 L187.1 241.5 L187.9 239.7 L188.7 236 L189.5 232.8 L190.3 232.1 L191.1 233 L191.9 234.6 L192.7 236.1 L193.5 236.1 L194.3 235.4 L195.1 234.7 L195.9 234.4 L196.7 234.5 L197.5 234.4 L198.3 234.1 L199.1 233.7 L199.9 233.3 L200.7 233.1 L201.5 233.3 L202.3 234.1 L203.1 235 L203.9 234.9 L204.7 234.8 L205.5 235 L206.3 234.7 L207.1 234.1 L207.9 233.9 L208.7 234 L209.5 233.7 L210.3 232.7 L211.1 232.5 L211.9 233.9 L212.7 238.2 L213.5 242.3 L214.3 242.5 L215.1 242 L215.9 241.3 L216.7 241.3 L217.5 242.2 L218.3 242.8 L219.1 242.1 L219.9 240.8 L220.7 240.3 L221.5 241 L222.3 241.8 L223.1 242.2 L223.9 242.6 L224.7 242.6 L225.5 242.3 L226.3 242.4 L227.1 243.1 L227.9 243.2 L228.7 242.6 L229.5 242 L230.3 241.6 L231.1 241.4 L231.9 241.6 L232.7 242.4 L233.5 242.5 L234.3 241.6 L235.1 240.9 L235.9 241.2 L236.7 241.8 L237.5 242 L238.3 241.9 L239.1 241.9 L239.9 242.5 L240.7 243.4 L241.5 243.7 L242.3 243.2 L243.1 242.7 L243.9 242.5" fill="none" stroke="#8c3b5a" stroke-width="1.2" stroke-linejoin="round"/>
<rect x="253.8" y="217.2" width="94.4" height="28.600000000000023" fill="#fff"/>
<line x1="257.6" y1="217.2" x2="257.6" y2="245.8" stroke="#f0f0f0" stroke-width="0.7"/>
<line x1="264.9" y1="217.2" x2="264.9" y2="245.8" stroke="#f0f0f0" stroke-width="0.7"/>
<line x1="272.3" y1="217.2" x2="272.3" y2="245.8" stroke="#f0f0f0" stroke-width="0.7"/>
<line x1="279.6" y1="217.2" x2="279.6" y2="245.8" stroke="#f0f0f0" stroke-width="0.7"/>
<line x1="294.4" y1="217.2" x2="294.4" y2="245.8" stroke="#f0f0f0" stroke-width="0.7"/>
<line x1="301.7" y1="217.2" x2="301.7" y2="245.8" stroke="#f0f0f0" stroke-width="0.7"/>
<line x1="309.1" y1="217.2" x2="309.1" y2="245.8" stroke="#f0f0f0" stroke-width="0.7"/>
<line x1="316.4" y1="217.2" x2="316.4" y2="245.8" stroke="#f0f0f0" stroke-width="0.7"/>
<line x1="323.8" y1="217.2" x2="323.8" y2="245.8" stroke="#f0f0f0" stroke-width="0.7"/>
<line x1="331.1" y1="217.2" x2="331.1" y2="245.8" stroke="#f0f0f0" stroke-width="0.7"/>
<line x1="338.4" y1="217.2" x2="338.4" y2="245.8" stroke="#f0f0f0" stroke-width="0.7"/>
<line x1="345.8" y1="217.2" x2="345.8" y2="245.8" stroke="#f0f0f0" stroke-width="0.7"/>
<rect x="253.8" y="217.2" width="94.4" height="28.600000000000023" fill="none" stroke="#cfcfcf" stroke-width="0.8"/>
<clipPath id="ca02"><rect x="253.8" y="245.8" width="94.4" height="65.69999999999999"/></clipPath>
<g clip-path="url(#ca02)"><g filter="url(#jA02)">
<rect x="245.8" y="237.8" width="110.4" height="81.69999999999999" fill="#828282"/>
<ellipse cx="308" cy="290" rx="22" ry="11" fill="#6b6b6b" fill-opacity="0.85"/>
<ellipse cx="315" cy="302" rx="20" ry="2.5" fill="#636363" fill-opacity="0.8"/>
<ellipse cx="300.5" cy="301.9" rx="5.5" ry="1.7" fill="#333333" fill-opacity="1"/>
<ellipse cx="291" cy="309.5" rx="6.5" ry="3.2" fill="#e0e0e0" fill-opacity="1"/>
<ellipse cx="289" cy="304" rx="4" ry="3.5" fill="#a3a3a3" fill-opacity="0.8"/>
<rect x="292.6" y="262.2" width="26.6" height="11.6" rx="3.6" fill="#dbdbdb" fill-opacity="1"/>
<rect x="294" y="264.2" width="23.5" height="7.4" rx="3" fill="#e6e6e6" fill-opacity="1"/>
<ellipse cx="297.0" cy="268" rx="2.0" ry="3.6" fill="#ffffff" fill-opacity="1"/>
<ellipse cx="305.5" cy="268" rx="1.8" ry="3.4" fill="#ffffff" fill-opacity="1"/>
<ellipse cx="310.8" cy="268" rx="1.8" ry="3.4" fill="#ffffff" fill-opacity="1"/>
<ellipse cx="315.5" cy="268" rx="1.6" ry="3.2" fill="#ffffff" fill-opacity="1"/>
<ellipse cx="273" cy="260.7" rx="1.2" ry="2.8" fill="#adadad" fill-opacity="1"/>
</g></g>
<line x1="287" y1="217.2" x2="287" y2="311.5" stroke="#444" stroke-width="0.5" stroke-opacity="0.75"/>
<path d="M253.8 242.1 L254.6 241.3 L255.4 239.8 L256.2 238.7 L257 238.7 L257.8 239.8 L258.6 241.7 L259.4 243.1 L260.2 243.4 L261 243.1 L261.8 243.1 L262.6 243.5 L263.4 243.4 L264.2 242.4 L265 241.4 L265.8 241.2 L266.6 241.6 L267.4 242 L268.2 242.1 L269 242.6 L269.8 243 L270.6 242.4 L271.4 240.9 L272.2 239.4 L273 238.7 L273.8 238.2 L274.6 237.5 L275.4 237.5 L276.2 238.7 L277 240.1 L277.8 240 L278.6 238.8 L279.4 237.8 L280.2 237.6 L281 238.4 L281.8 239.8 L282.6 241.3 L283.4 242.2 L284.2 242.4 L285 242.6 L285.8 242.6 L286.6 242.8 L287.4 243 L288.2 242.7 L289 242.1 L289.8 241.8 L290.6 241 L291.4 237.6 L292.2 232.8 L293 228.2 L293.8 225.1 L294.6 224.1 L295.4 224.2 L296.2 224.7 L297 224.9 L297.8 224.9 L298.6 224.9 L299.4 225.6 L300.2 226.6 L301 227.2 L301.8 227.2 L302.6 226.8 L303.4 226.3 L304.2 226.1 L305 226.1 L305.8 225.8 L306.6 225 L307.4 224.4 L308.2 224.6 L309 225.5 L309.8 226.1 L310.6 226.4 L311.4 226.6 L312.2 227.2 L313 228.3 L313.8 229.4 L314.6 229.3 L315.4 228.3 L316.2 227.7 L317 229.6 L317.8 235 L318.6 240.1 L319.4 242.1 L320.2 242.4 L321 242.8 L321.8 243.4 L322.6 243.5 L323.4 243.4 L324.2 243.4 L325 243.2 L325.8 242.6 L326.6 241.7 L327.4 241.4 L328.2 241.8 L329 242.5 L329.8 243 L330.6 242.6 L331.4 240.9 L332.2 239.5 L333 239.6 L333.8 240.9 L334.6 241.7 L335.4 241.6 L336.2 241.8 L337 242.1 L337.8 241.5 L338.6 240.7 L339.4 241.3 L340.2 243.1 L341 244.1 L341.8 243.4 L342.6 242.1 L343.4 241.9 L344.2 242.5 L345 242.8 L345.8 242.2 L346.6 241.6 L347.4 241.7 L348.2 242" fill="none" stroke="#8c3b5a" stroke-width="1.2" stroke-linejoin="round"/>
<text x="349.8" y="227.3" font-size="8.9" fill="#333">20</text>
<text x="349.8" y="244.5" font-size="8.9" fill="#333">0</text>
<text x="363.6" y="229.2" font-size="8.2" fill="#333">40-Hz</text>
<text x="363.6" y="239" font-size="8.2" fill="#333">Power (%)</text>
<rect x="45.3" y="319.4" width="94.4" height="28.600000000000023" fill="#fff"/>
<line x1="49.1" y1="319.4" x2="49.1" y2="348.0" stroke="#f0f0f0" stroke-width="0.7"/>
<line x1="56.5" y1="319.4" x2="56.5" y2="348.0" stroke="#f0f0f0" stroke-width="0.7"/>
<line x1="63.8" y1="319.4" x2="63.8" y2="348.0" stroke="#f0f0f0" stroke-width="0.7"/>
<line x1="71.2" y1="319.4" x2="71.2" y2="348.0" stroke="#f0f0f0" stroke-width="0.7"/>
<line x1="85.8" y1="319.4" x2="85.8" y2="348.0" stroke="#f0f0f0" stroke-width="0.7"/>
<line x1="93.2" y1="319.4" x2="93.2" y2="348.0" stroke="#f0f0f0" stroke-width="0.7"/>
<line x1="100.5" y1="319.4" x2="100.5" y2="348.0" stroke="#f0f0f0" stroke-width="0.7"/>
<line x1="107.9" y1="319.4" x2="107.9" y2="348.0" stroke="#f0f0f0" stroke-width="0.7"/>
<line x1="115.2" y1="319.4" x2="115.2" y2="348.0" stroke="#f0f0f0" stroke-width="0.7"/>
<line x1="122.6" y1="319.4" x2="122.6" y2="348.0" stroke="#f0f0f0" stroke-width="0.7"/>
<line x1="129.9" y1="319.4" x2="129.9" y2="348.0" stroke="#f0f0f0" stroke-width="0.7"/>
<line x1="137.3" y1="319.4" x2="137.3" y2="348.0" stroke="#f0f0f0" stroke-width="0.7"/>
<rect x="45.3" y="319.4" width="94.4" height="28.600000000000023" fill="none" stroke="#cfcfcf" stroke-width="0.8"/>
<clipPath id="ca10"><rect x="45.3" y="348.0" width="94.4" height="65.80000000000001"/></clipPath>
<g clip-path="url(#ca10)"><g filter="url(#jA10)">
<rect x="37.3" y="340.0" width="110.4" height="81.80000000000001" fill="#828282"/>
<ellipse cx="97" cy="398" rx="20" ry="8" fill="#707070" fill-opacity="0.7"/>
<ellipse cx="84.8" cy="395.5" rx="1.9" ry="3.4" fill="#333333" fill-opacity="1"/>
<ellipse cx="104" cy="406.5" rx="20" ry="2.5" fill="#999999" fill-opacity="0.7"/>
<ellipse cx="96" cy="411.8" rx="11" ry="2.4" fill="#cccccc" fill-opacity="1"/>
<ellipse cx="112" cy="410.8" rx="14" ry="3.6" fill="#e0e0e0" fill-opacity="1"/>
<ellipse cx="114" cy="412.2" rx="8.5" ry="2.3" fill="#fafafa" fill-opacity="1"/>
<ellipse cx="97.3" cy="370.7" rx="13" ry="4.5" fill="#919191" fill-opacity="0.8"/>
<ellipse cx="86.7" cy="370.7" rx="2.1" ry="4.6" fill="#d1d1d1" fill-opacity="1"/>
<ellipse cx="93.4" cy="370.7" rx="2.1" ry="4.6" fill="#d4d4d4" fill-opacity="1"/>
<ellipse cx="100.6" cy="370.7" rx="2.0" ry="4.5" fill="#d1d1d1" fill-opacity="1"/>
<ellipse cx="107.6" cy="370.7" rx="1.8" ry="4.3" fill="#cccccc" fill-opacity="1"/>
</g></g>
<line x1="78.5" y1="319.4" x2="78.5" y2="413.8" stroke="#444" stroke-width="0.5" stroke-opacity="0.75"/>
<path d="M45.3 343.8 L46.1 344.3 L46.9 344.9 L47.7 345.1 L48.5 344.5 L49.3 343.9 L50.1 343.8 L50.9 343.9 L51.7 344 L52.5 344.3 L53.3 344.6 L54.1 344.4 L54.9 344.1 L55.7 344.6 L56.5 345.5 L57.3 345.9 L58.1 346.5 L58.9 347.1 L59.7 346.8 L60.5 345.6 L61.3 344.2 L62.1 343.3 L62.9 342.6 L63.7 342.3 L64.5 342.5 L65.3 343.4 L66.1 343.7 L66.9 342.3 L67.7 340.5 L68.5 339.9 L69.3 340.9 L70.1 342.1 L70.9 342.5 L71.7 342.6 L72.5 342.8 L73.3 342.9 L74.1 343 L74.9 343.6 L75.7 344.4 L76.5 345.5 L77.3 345.8 L78.1 345.5 L78.9 344.9 L79.7 344.5 L80.5 344.5 L81.3 344.8 L82.1 345.2 L82.9 345.5 L83.7 344.9 L84.5 343 L85.3 340.5 L86.1 338.2 L86.9 336.7 L87.7 336.3 L88.5 335.8 L89.3 335.8 L90.1 336.5 L90.9 337.6 L91.7 338.4 L92.5 338.4 L93.3 338 L94.1 337.7 L94.9 337.4 L95.7 336.8 L96.5 335.6 L97.3 334.7 L98.1 334.1 L98.9 334 L99.7 334.8 L100.5 335.9 L101.3 336.5 L102.1 336.2 L102.9 336.2 L103.7 336.9 L104.5 337.8 L105.3 338.6 L106.1 339.6 L106.9 340.7 L107.7 341.1 L108.5 340.4 L109.3 339.9 L110.1 340.6 L110.9 341.7 L111.7 342.2 L112.5 341.9 L113.3 341.8 L114.1 342.6 L114.9 343.3 L115.7 342.8 L116.5 341.5 L117.3 341.7 L118.1 343.3 L118.9 344.5 L119.7 344.3 L120.5 343.3 L121.3 342.7 L122.1 342.9 L122.9 344.1 L123.7 345.6 L124.5 346.2 L125.3 345.8 L126.1 345.2 L126.9 345.1 L127.7 345.3 L128.5 345.7 L129.3 345.7 L130.1 345.2 L130.9 344.1 L131.7 343 L132.5 342.9 L133.3 343.3 L134.1 343.3 L134.9 342.7 L135.7 342.3 L136.5 342.3 L137.3 342.1 L138.1 341.7 L138.9 341.9 L139.7 342.6" fill="none" stroke="#8c3b5a" stroke-width="1.2" stroke-linejoin="round"/>
<text x="42.6" y="352.9" text-anchor="end" font-size="9.2" fill="#333">60</text>
<text x="42.6" y="374.6" text-anchor="end" font-size="9.2" fill="#333">40</text>
<text x="42.6" y="396.3" text-anchor="end" font-size="9.2" fill="#333">20</text>
<text transform="translate(28.0 376.1) rotate(-90)" text-anchor="middle" font-size="8.6" fill="#333">Frequency (Hz)</text>
<text x="49.1" y="425.8" text-anchor="middle" font-size="9.5" fill="#333">-1</text>
<text x="78.5" y="425.8" text-anchor="middle" font-size="9.5" fill="#333">0</text>
<text x="108.2" y="425.8" text-anchor="middle" font-size="9.5" fill="#333">1</text>
<text x="137.3" y="425.8" text-anchor="middle" font-size="9.5" fill="#333">2</text>
<rect x="149.5" y="319.4" width="94.4" height="28.600000000000023" fill="#fff"/>
<line x1="153.3" y1="319.4" x2="153.3" y2="348.0" stroke="#f0f0f0" stroke-width="0.7"/>
<line x1="160.6" y1="319.4" x2="160.6" y2="348.0" stroke="#f0f0f0" stroke-width="0.7"/>
<line x1="168" y1="319.4" x2="168" y2="348.0" stroke="#f0f0f0" stroke-width="0.7"/>
<line x1="175.3" y1="319.4" x2="175.3" y2="348.0" stroke="#f0f0f0" stroke-width="0.7"/>
<line x1="190" y1="319.4" x2="190" y2="348.0" stroke="#f0f0f0" stroke-width="0.7"/>
<line x1="197.4" y1="319.4" x2="197.4" y2="348.0" stroke="#f0f0f0" stroke-width="0.7"/>
<line x1="204.8" y1="319.4" x2="204.8" y2="348.0" stroke="#f0f0f0" stroke-width="0.7"/>
<line x1="212.1" y1="319.4" x2="212.1" y2="348.0" stroke="#f0f0f0" stroke-width="0.7"/>
<line x1="219.4" y1="319.4" x2="219.4" y2="348.0" stroke="#f0f0f0" stroke-width="0.7"/>
<line x1="226.8" y1="319.4" x2="226.8" y2="348.0" stroke="#f0f0f0" stroke-width="0.7"/>
<line x1="234.1" y1="319.4" x2="234.1" y2="348.0" stroke="#f0f0f0" stroke-width="0.7"/>
<line x1="241.5" y1="319.4" x2="241.5" y2="348.0" stroke="#f0f0f0" stroke-width="0.7"/>
<rect x="149.5" y="319.4" width="94.4" height="28.600000000000023" fill="none" stroke="#cfcfcf" stroke-width="0.8"/>
<clipPath id="ca11"><rect x="149.5" y="348.0" width="94.4" height="65.80000000000001"/></clipPath>
<g clip-path="url(#ca11)"><g filter="url(#jA11)">
<rect x="141.5" y="340.0" width="110.4" height="81.80000000000001" fill="#828282"/>
<ellipse cx="214" cy="394" rx="31" ry="11" fill="#6e6e6e" fill-opacity="0.8"/>
<ellipse cx="165" cy="405" rx="16" ry="4" fill="#757575" fill-opacity="0.6"/>
<ellipse cx="189.6" cy="394.9" rx="1.3" ry="2.2" fill="#474747" fill-opacity="1"/>
<ellipse cx="186.5" cy="404" rx="3" ry="5" fill="#a1a1a1" fill-opacity="0.9"/>
<ellipse cx="214" cy="411.9" rx="30" ry="2.5" fill="#d6d6d6" fill-opacity="1"/>
<ellipse cx="188.5" cy="410.2" rx="4.5" ry="3.8" fill="#d1d1d1" fill-opacity="1"/>
<ellipse cx="226" cy="412.9" rx="14" ry="1.8" fill="#f2f2f2" fill-opacity="1"/>
<rect x="187.8" y="363.8" width="26.5" height="13.4" rx="4.0" fill="#dbdbdb" fill-opacity="1"/>
<rect x="189.2" y="365.6" width="23.6" height="9.6" rx="3" fill="#f2f2f2" fill-opacity="1"/>
<ellipse cx="191.6" cy="370.4" rx="2.5" ry="4.4" fill="#ffffff" fill-opacity="1"/>
<ellipse cx="197.0" cy="370.4" rx="2.3" ry="4.2" fill="#ffffff" fill-opacity="1"/>
<ellipse cx="202.4" cy="370.4" rx="2.3" ry="4.2" fill="#ffffff" fill-opacity="1"/>
<ellipse cx="207.6" cy="370.4" rx="2.3" ry="4.2" fill="#ffffff" fill-opacity="1"/>
<ellipse cx="212.0" cy="370.4" rx="1.8" ry="3.8" fill="#ffffff" fill-opacity="1"/>
</g></g>
<line x1="182.7" y1="319.4" x2="182.7" y2="413.8" stroke="#444" stroke-width="0.5" stroke-opacity="0.75"/>
<path d="M149.5 344 L150.3 344.5 L151.1 344.8 L151.9 344.5 L152.7 344 L153.5 343.7 L154.3 343.8 L155.1 344.3 L155.9 345 L156.7 344.8 L157.5 344.2 L158.3 343.8 L159.1 343.8 L159.9 343.7 L160.7 343.9 L161.5 344.9 L162.3 346 L163.1 345.9 L163.9 344.7 L164.7 343.9 L165.5 344.2 L166.3 345.1 L167.1 345.4 L167.9 345.2 L168.7 345.9 L169.5 346.9 L170.3 346.8 L171.1 345.6 L171.9 344.3 L172.7 343.5 L173.5 343.4 L174.3 344 L175.1 344.7 L175.9 344.6 L176.7 344.1 L177.5 343.9 L178.3 343.9 L179.1 343.9 L179.9 344.5 L180.7 345.5 L181.5 345.9 L182.3 345.6 L183.1 345.2 L183.9 344.9 L184.7 345 L185.5 345.2 L186.3 344.3 L187.1 341 L187.9 335 L188.7 326.9 L189.5 320.7 L190.3 319.9 L191.1 321.4 L191.9 323.5 L192.7 325.3 L193.5 326.8 L194.3 327.6 L195.1 327.4 L195.9 327.2 L196.7 327.2 L197.5 327.7 L198.3 328.6 L199.1 329.8 L199.9 330.6 L200.7 330.8 L201.5 330.2 L202.3 329.6 L203.1 328.9 L203.9 327.9 L204.7 327.2 L205.5 326.8 L206.3 327.6 L207.1 329.3 L207.9 330.2 L208.7 330.3 L209.5 330 L210.3 330.3 L211.1 331.2 L211.9 331.8 L212.7 335.4 L213.5 342.7 L214.3 345.4 L215.1 345.3 L215.9 345 L216.7 343.8 L217.5 341.9 L218.3 340.7 L219.1 341.3 L219.9 342.8 L220.7 344 L221.5 344 L222.3 343.3 L223.1 342.5 L223.9 342.4 L224.7 342.5 L225.5 342.5 L226.3 342.8 L227.1 343.4 L227.9 343.6 L228.7 343.6 L229.5 344.2 L230.3 345.3 L231.1 345.5 L231.9 345.2 L232.7 345.1 L233.5 345.4 L234.3 344.9 L235.1 343.9 L235.9 343.5 L236.7 344.2 L237.5 344.6 L238.3 343.5 L239.1 342.4 L239.9 342.2 L240.7 342.3 L241.5 341.6 L242.3 341.3 L243.1 342.4 L243.9 343.9" fill="none" stroke="#8c3b5a" stroke-width="1.2" stroke-linejoin="round"/>
<text x="153.3" y="425.8" text-anchor="middle" font-size="9.5" fill="#333">-1</text>
<text x="182.7" y="425.8" text-anchor="middle" font-size="9.5" fill="#333">0</text>
<text x="212.4" y="425.8" text-anchor="middle" font-size="9.5" fill="#333">1</text>
<text x="241.5" y="425.8" text-anchor="middle" font-size="9.5" fill="#333">2</text>
<rect x="253.8" y="319.4" width="94.4" height="28.600000000000023" fill="#fff"/>
<line x1="257.6" y1="319.4" x2="257.6" y2="348.0" stroke="#f0f0f0" stroke-width="0.7"/>
<line x1="264.9" y1="319.4" x2="264.9" y2="348.0" stroke="#f0f0f0" stroke-width="0.7"/>
<line x1="272.3" y1="319.4" x2="272.3" y2="348.0" stroke="#f0f0f0" stroke-width="0.7"/>
<line x1="279.6" y1="319.4" x2="279.6" y2="348.0" stroke="#f0f0f0" stroke-width="0.7"/>
<line x1="294.4" y1="319.4" x2="294.4" y2="348.0" stroke="#f0f0f0" stroke-width="0.7"/>
<line x1="301.7" y1="319.4" x2="301.7" y2="348.0" stroke="#f0f0f0" stroke-width="0.7"/>
<line x1="309.1" y1="319.4" x2="309.1" y2="348.0" stroke="#f0f0f0" stroke-width="0.7"/>
<line x1="316.4" y1="319.4" x2="316.4" y2="348.0" stroke="#f0f0f0" stroke-width="0.7"/>
<line x1="323.8" y1="319.4" x2="323.8" y2="348.0" stroke="#f0f0f0" stroke-width="0.7"/>
<line x1="331.1" y1="319.4" x2="331.1" y2="348.0" stroke="#f0f0f0" stroke-width="0.7"/>
<line x1="338.4" y1="319.4" x2="338.4" y2="348.0" stroke="#f0f0f0" stroke-width="0.7"/>
<line x1="345.8" y1="319.4" x2="345.8" y2="348.0" stroke="#f0f0f0" stroke-width="0.7"/>
<rect x="253.8" y="319.4" width="94.4" height="28.600000000000023" fill="none" stroke="#cfcfcf" stroke-width="0.8"/>
<clipPath id="ca12"><rect x="253.8" y="348.0" width="94.4" height="65.80000000000001"/></clipPath>
<g clip-path="url(#ca12)"><g filter="url(#jA12)">
<rect x="245.8" y="340.0" width="110.4" height="81.80000000000001" fill="#828282"/>
<ellipse cx="300" cy="404" rx="40" ry="4" fill="#787878" fill-opacity="0.8"/>
<ellipse cx="302" cy="404" rx="14" ry="3.2" fill="#6b6b6b" fill-opacity="0.9"/>
<ellipse cx="312" cy="412.3" rx="23" ry="2.3" fill="#ababab" fill-opacity="1"/>
<ellipse cx="320" cy="413.3" rx="10" ry="1.5" fill="#c2c2c2" fill-opacity="1"/>
<rect x="293.2" y="364.8" width="25.4" height="10.8" rx="4.0" fill="#c7c7c7" fill-opacity="1"/>
<ellipse cx="297.5" cy="370.2" rx="2.0" ry="4.0" fill="#dbdbdb" fill-opacity="1"/>
<ellipse cx="303.2" cy="370.2" rx="1.8" ry="4.0" fill="#dbdbdb" fill-opacity="1"/>
<ellipse cx="309.0" cy="370.2" rx="1.8" ry="4.0" fill="#dedede" fill-opacity="1"/>
<ellipse cx="315.2" cy="370.2" rx="1.7" ry="4.2" fill="#e6e6e6" fill-opacity="1"/>
</g></g>
<line x1="287" y1="319.4" x2="287" y2="413.8" stroke="#444" stroke-width="0.5" stroke-opacity="0.75"/>
<path d="M253.8 344.3 L254.6 344.8 L255.4 345.3 L256.2 345.6 L257 345.6 L257.8 345.1 L258.6 344.7 L259.4 345.1 L260.2 346 L261 346.2 L261.8 345.1 L262.6 343.8 L263.4 344 L264.2 345.6 L265 346.9 L265.8 346.8 L266.6 345.9 L267.4 345.5 L268.2 345.6 L269 344.9 L269.8 343.3 L270.6 342 L271.4 342.1 L272.2 343.3 L273 344 L273.8 344.1 L274.6 344.2 L275.4 344 L276.2 343.5 L277 342.8 L277.8 342.3 L278.6 342.3 L279.4 342.7 L280.2 343.9 L281 345.5 L281.8 346.3 L282.6 345.7 L283.4 344.3 L284.2 343.3 L285 343.4 L285.8 344.1 L286.6 344.1 L287.4 343.3 L288.2 342.6 L289 342.1 L289.8 341.3 L290.6 340.4 L291.4 340.1 L292.2 340.3 L293 339.5 L293.8 337.6 L294.6 336.2 L295.4 336.2 L296.2 337 L297 337.1 L297.8 336.3 L298.6 335.4 L299.4 334.9 L300.2 334.6 L301 334.1 L301.8 333.7 L302.6 334 L303.4 334.3 L304.2 333.9 L305 333.7 L305.8 334.4 L306.6 335.2 L307.4 335.2 L308.2 335.3 L309 335.7 L309.8 335.9 L310.6 335.3 L311.4 334.6 L312.2 334.8 L313 335.6 L313.8 335.6 L314.6 334.4 L315.4 333.1 L316.2 332.7 L317 335.1 L317.8 340.6 L318.6 343.9 L319.4 343.5 L320.2 343.5 L321 344.6 L321.8 346.5 L322.6 347.8 L323.4 347.6 L324.2 346 L325 344.1 L325.8 342.8 L326.6 342.7 L327.4 343.3 L328.2 343.5 L329 343.1 L329.8 343 L330.6 343.3 L331.4 343.9 L332.2 344 L333 343.9 L333.8 344.3 L334.6 344.7 L335.4 344.7 L336.2 344.3 L337 344 L337.8 344.1 L338.6 344 L339.4 343.8 L340.2 343.5 L341 343 L341.8 342.2 L342.6 341.6 L343.4 341.6 L344.2 342.4 L345 343.5 L345.8 343.6 L346.6 342.8 L347.4 342.2 L348.2 342.6" fill="none" stroke="#8c3b5a" stroke-width="1.2" stroke-linejoin="round"/>
<text x="349.8" y="328.7" font-size="8.9" fill="#333">20</text>
<text x="349.8" y="346.1" font-size="8.9" fill="#333">0</text>
<text x="363.6" y="331.8" font-size="8.2" fill="#333">40-Hz</text>
<text x="363.6" y="341.4" font-size="8.2" fill="#333">Power (%)</text>
<text x="257.6" y="425.8" text-anchor="middle" font-size="9.5" fill="#333">-1</text>
<text x="287" y="425.8" text-anchor="middle" font-size="9.5" fill="#333">0</text>
<text x="316.7" y="425.8" text-anchor="middle" font-size="9.5" fill="#333">1</text>
<text x="345.8" y="425.8" text-anchor="middle" font-size="9.5" fill="#333">2</text>
<text x="200" y="439.8" text-anchor="middle" font-size="9.4" fill="#333">Time (s)</text>
<linearGradient id="jetH" x1="0" y1="0" x2="1" y2="0"><stop offset="0" stop-color="#000080"/><stop offset="0.125" stop-color="#0000ff"/><stop offset="0.375" stop-color="#00ffff"/><stop offset="0.5" stop-color="#80ff80"/><stop offset="0.625" stop-color="#ffff00"/><stop offset="0.875" stop-color="#ff0000"/><stop offset="1" stop-color="#800000"/></linearGradient>
<rect x="114.5" y="466" width="169.5" height="10" fill="url(#jetH)"/>
<text x="202.9" y="459.8" text-anchor="middle" font-size="8.6" fill="#222">Relative Change (%)</text>
<text x="116.6" y="489" text-anchor="middle" font-size="10" fill="#333">-20</text>
<text x="162" y="489" text-anchor="middle" font-size="10" fill="#333">-10</text>
<text x="201.3" y="489" text-anchor="middle" font-size="10" fill="#333">0</text>
<text x="243" y="489" text-anchor="middle" font-size="10" fill="#333">10</text>
<text x="282.5" y="489" text-anchor="middle" font-size="10" fill="#333">20</text>
<linearGradient id="jetV" x1="0" y1="1" x2="0" y2="0"><stop offset="0" stop-color="#0000d8"/><stop offset="0.04" stop-color="#0000ff"/><stop offset="0.31" stop-color="#00ffff"/><stop offset="0.445" stop-color="#80ff80"/><stop offset="0.585" stop-color="#ffff00"/><stop offset="0.865" stop-color="#ff0000"/><stop offset="1" stop-color="#8a0000"/></linearGradient>
<clipPath id="cb0"><rect x="476.5" y="9.4" width="136.29999999999995" height="59.6"/></clipPath>
<g clip-path="url(#cb0)"><g filter="url(#jB0)">
<rect x="468.5" y="1.4000000000000004" width="152.29999999999995" height="75.6" fill="#8c8c8c"/>
<ellipse cx="482" cy="35" rx="7" ry="25" fill="#858585" fill-opacity="0.8"/>
<rect x="492.8" y="14.0" width="98.8" height="7.4" rx="3.2" fill="#e0e0e0" fill-opacity="1"/>
<rect x="495" y="15.1" width="95" height="5.0" rx="2.4" fill="#ffffff" fill-opacity="1"/>
<ellipse cx="497.5" cy="61" rx="10" ry="9" fill="#ffffff" fill-opacity="1"/>
<ellipse cx="502" cy="66.5" rx="14" ry="4" fill="#ebebeb" fill-opacity="1"/>
<ellipse cx="494.5" cy="44" rx="5" ry="4.5" fill="#d9d9d9" fill-opacity="1"/>
<ellipse cx="495" cy="39.5" rx="4" ry="2" fill="#cccccc" fill-opacity="1"/>
<ellipse cx="597.8" cy="63.3" rx="9" ry="6.0" fill="#ffffff" fill-opacity="1"/>
<ellipse cx="598" cy="55" rx="3" ry="1.5" fill="#bfbfbf" fill-opacity="1"/>
<ellipse cx="497" cy="28.8" rx="2.5" ry="1" fill="#b8b8b8" fill-opacity="1"/>
<ellipse cx="527" cy="28.8" rx="4.5" ry="1.1" fill="#b8b8b8" fill-opacity="1"/>
<ellipse cx="542" cy="29" rx="4" ry="1" fill="#b8b8b8" fill-opacity="1"/>
<ellipse cx="539" cy="41.3" rx="3" ry="1" fill="#b8b8b8" fill-opacity="1"/>
<ellipse cx="561.5" cy="41.3" rx="3.5" ry="1" fill="#b8b8b8" fill-opacity="1"/>
<ellipse cx="594.5" cy="41.3" rx="3.5" ry="1" fill="#b8b8b8" fill-opacity="1"/>
</g></g>
<line x1="489.3" y1="9.4" x2="489.3" y2="69.0" stroke="#1a1a1a" stroke-width="1" stroke-dasharray="3 3.4"/>
<line x1="587.7" y1="9.4" x2="587.7" y2="69.0" stroke="#1a1a1a" stroke-width="1" stroke-dasharray="3 3.4"/>
<line x1="476.5" y1="13.6" x2="612.8" y2="13.6" stroke="#1a1a1a" stroke-width="1" stroke-dasharray="3 3.4"/>
<line x1="476.5" y1="18.8" x2="612.8" y2="18.8" stroke="#1a1a1a" stroke-width="1" stroke-dasharray="3 3.4"/>
<rect x="476.5" y="9.4" width="136.29999999999995" height="59.6" fill="none" stroke="#bbb" stroke-width="0.5" stroke-opacity="0.6"/>
<text x="472.4" y="19.2" text-anchor="end" font-size="8.2" fill="#555">40</text>
<text x="472.4" y="34.3" text-anchor="end" font-size="8.2" fill="#555">30</text>
<text x="472.4" y="47.1" text-anchor="end" font-size="8.2" fill="#555">20</text>
<text x="472.4" y="60.6" text-anchor="end" font-size="8.2" fill="#555">10</text>
<text transform="translate(457.3 38.9) rotate(-90)" text-anchor="middle" font-size="9.5" fill="#666">Frequency (Hz)</text>
<text x="552" y="66.7" text-anchor="middle" font-size="8.2" fill="#24523a">RHES-ITPC</text>
<rect x="619.9" y="9.8" width="9" height="59" fill="url(#jetV)"/>
<text x="625.3" y="5.6" text-anchor="middle" font-size="8" fill="#555">relch power</text>
<text x="631.6" y="16.8" font-size="8" fill="#555">+1</text>
<text x="635.8" y="44.3" font-size="8.6" fill="#555">0</text>
<text x="631.6" y="69.3" font-size="8" fill="#555">-1</text>
<text x="666.9" y="33.9" text-anchor="middle" font-size="10.5" fill="#555">HC</text>
<text x="666.9" y="45.4" text-anchor="middle" font-size="10.5" fill="#555">group</text>
<clipPath id="cb1"><rect x="476.5" y="92.2" width="136.29999999999995" height="59.6"/></clipPath>
<g clip-path="url(#cb1)"><g filter="url(#jB1)">
<rect x="468.5" y="84.2" width="152.29999999999995" height="75.6" fill="#7c7c7c"/>
<ellipse cx="527.8" cy="111.3" rx="7" ry="2.3" fill="#292929" fill-opacity="1"/>
<ellipse cx="543" cy="111" rx="6.5" ry="2.0" fill="#2e2e2e" fill-opacity="1"/>
<ellipse cx="551.8" cy="97.3" rx="5.5" ry="1.5" fill="#3d3d3d" fill-opacity="1"/>
<ellipse cx="524" cy="102.5" rx="3.5" ry="1.4" fill="#424242" fill-opacity="1"/>
<ellipse cx="599" cy="110.8" rx="3" ry="1" fill="#4c4c4c" fill-opacity="1"/>
<ellipse cx="598" cy="124.3" rx="4" ry="1" fill="#4c4c4c" fill-opacity="1"/>
<ellipse cx="535" cy="125" rx="5" ry="1" fill="#575757" fill-opacity="1"/>
<ellipse cx="500" cy="137.7" rx="3" ry="1" fill="#b8b8b8" fill-opacity="1"/>
<ellipse cx="553" cy="137.7" rx="3" ry="1" fill="#b2b2b2" fill-opacity="1"/>
<ellipse cx="552" cy="106.5" rx="1.5" ry="1.5" fill="#b8b8b8" fill-opacity="1"/>
<ellipse cx="505" cy="151" rx="15" ry="1.5" fill="#b8b8b8" fill-opacity="1"/>
<ellipse cx="505" cy="132" rx="3" ry="1.2" fill="#5c5c5c" fill-opacity="1"/>
<ellipse cx="540" cy="118" rx="40" ry="4" fill="#707070" fill-opacity="0.6"/>
</g></g>
<line x1="489.3" y1="92.2" x2="489.3" y2="151.8" stroke="#1a1a1a" stroke-width="1" stroke-dasharray="3 3.4"/>
<line x1="587.7" y1="92.2" x2="587.7" y2="151.8" stroke="#1a1a1a" stroke-width="1" stroke-dasharray="3 3.4"/>
<line x1="476.5" y1="96.4" x2="612.8" y2="96.4" stroke="#1a1a1a" stroke-width="1" stroke-dasharray="3 3.4"/>
<line x1="476.5" y1="101.6" x2="612.8" y2="101.6" stroke="#1a1a1a" stroke-width="1" stroke-dasharray="3 3.4"/>
<rect x="476.5" y="92.2" width="136.29999999999995" height="59.6" fill="none" stroke="#bbb" stroke-width="0.5" stroke-opacity="0.6"/>
<text x="472.4" y="102" text-anchor="end" font-size="8.2" fill="#555">40</text>
<text x="472.4" y="117.1" text-anchor="end" font-size="8.2" fill="#555">30</text>
<text x="472.4" y="129.9" text-anchor="end" font-size="8.2" fill="#555">20</text>
<text x="472.4" y="143.4" text-anchor="end" font-size="8.2" fill="#555">10</text>
<text transform="translate(457.3 121.7) rotate(-90)" text-anchor="middle" font-size="9.5" fill="#666">Frequency (Hz)</text>
<text x="552" y="149.5" text-anchor="middle" font-size="8.2" fill="#24523a">RHES-ITPC</text>
<rect x="619.9" y="92.6" width="9" height="59" fill="url(#jetV)"/>
<text x="625.3" y="88.4" text-anchor="middle" font-size="8" fill="#555">relch power</text>
<text x="631.6" y="99.6" font-size="8" fill="#555">+1</text>
<text x="635.8" y="127.1" font-size="8.6" fill="#555">0</text>
<text x="631.6" y="152.1" font-size="8" fill="#555">-1</text>
<text x="666.9" y="116.8" text-anchor="middle" font-size="10.5" fill="#555">CHR-N</text>
<text x="666.9" y="129.5" text-anchor="middle" font-size="10.5" fill="#555">vs.</text>
<text x="666.9" y="141.7" text-anchor="middle" font-size="10.5" fill="#555">HC</text>
<clipPath id="cb2"><rect x="476.5" y="176.2" width="136.29999999999995" height="59.6"/></clipPath>
<g clip-path="url(#cb2)"><g filter="url(#jB2)">
<rect x="468.5" y="168.2" width="152.29999999999995" height="75.6" fill="#878787"/>
<ellipse cx="538" cy="183.3" rx="33" ry="2.0" fill="#424242" fill-opacity="1"/>
<ellipse cx="529" cy="183.3" rx="6" ry="1.6" fill="#212121" fill-opacity="1"/>
<ellipse cx="563" cy="183.3" rx="5" ry="1.6" fill="#242424" fill-opacity="1"/>
<ellipse cx="503" cy="229" rx="4.2" ry="1.5" fill="#292929" fill-opacity="1"/>
<ellipse cx="498" cy="235.5" rx="5" ry="1.8" fill="#c7c7c7" fill-opacity="1"/>
<ellipse cx="562" cy="208.3" rx="3.5" ry="1" fill="#404040" fill-opacity="1"/>
<ellipse cx="500" cy="205" rx="8" ry="1.5" fill="#666666" fill-opacity="1"/>
<ellipse cx="530" cy="193" rx="8" ry="1.5" fill="#666666" fill-opacity="1"/>
</g></g>
<line x1="489.3" y1="176.2" x2="489.3" y2="235.79999999999998" stroke="#1a1a1a" stroke-width="1" stroke-dasharray="3 3.4"/>
<line x1="587.7" y1="176.2" x2="587.7" y2="235.79999999999998" stroke="#1a1a1a" stroke-width="1" stroke-dasharray="3 3.4"/>
<line x1="476.5" y1="180.4" x2="612.8" y2="180.4" stroke="#1a1a1a" stroke-width="1" stroke-dasharray="3 3.4"/>
<line x1="476.5" y1="185.6" x2="612.8" y2="185.6" stroke="#1a1a1a" stroke-width="1" stroke-dasharray="3 3.4"/>
<rect x="476.5" y="176.2" width="136.29999999999995" height="59.6" fill="none" stroke="#bbb" stroke-width="0.5" stroke-opacity="0.6"/>
<text x="472.4" y="186" text-anchor="end" font-size="8.2" fill="#555">40</text>
<text x="472.4" y="201.1" text-anchor="end" font-size="8.2" fill="#555">30</text>
<text x="472.4" y="213.9" text-anchor="end" font-size="8.2" fill="#555">20</text>
<text x="472.4" y="227.4" text-anchor="end" font-size="8.2" fill="#555">10</text>
<text transform="translate(457.3 205.7) rotate(-90)" text-anchor="middle" font-size="9.5" fill="#666">Frequency (Hz)</text>
<text x="552" y="233.5" text-anchor="middle" font-size="8.2" fill="#24523a">RHES-ITPC</text>
<rect x="619.9" y="176.6" width="9" height="59" fill="url(#jetV)"/>
<text x="625.3" y="172.4" text-anchor="middle" font-size="8" fill="#555">relch power</text>
<text x="631.6" y="183.6" font-size="8" fill="#555">+1</text>
<text x="635.8" y="211.1" font-size="8.6" fill="#555">0</text>
<text x="631.6" y="236.1" font-size="8" fill="#555">-1</text>
<text x="666.9" y="200" text-anchor="middle" font-size="10.5" fill="#555">CHR-P</text>
<text x="666.9" y="212.5" text-anchor="middle" font-size="10.5" fill="#555">vs.</text>
<text x="666.9" y="224.8" text-anchor="middle" font-size="10.5" fill="#555">HC</text>
<clipPath id="cb3"><rect x="476.5" y="259.0" width="136.29999999999995" height="59.6"/></clipPath>
<g clip-path="url(#cb3)"><g filter="url(#jB3)">
<rect x="468.5" y="251.0" width="152.29999999999995" height="75.6" fill="#838383"/>
<ellipse cx="541" cy="265.5" rx="47" ry="2.2" fill="#363636" fill-opacity="1"/>
<ellipse cx="572" cy="265.5" rx="9" ry="1.8" fill="#333333" fill-opacity="1"/>
<ellipse cx="530" cy="265.7" rx="8" ry="1.6" fill="#303030" fill-opacity="1"/>
<ellipse cx="508" cy="265.3" rx="8" ry="2.2" fill="#1a1a1a" fill-opacity="1"/>
<ellipse cx="586" cy="265" rx="4" ry="2.2" fill="#1f1f1f" fill-opacity="1"/>
<ellipse cx="560" cy="265.5" rx="6" ry="1.8" fill="#2b2b2b" fill-opacity="1"/>
<ellipse cx="502.5" cy="311" rx="8" ry="3.0" fill="#404040" fill-opacity="1"/>
<ellipse cx="503.5" cy="311.5" rx="4" ry="1.4" fill="#1f1f1f" fill-opacity="1"/>
<ellipse cx="599" cy="314" rx="6.5" ry="2.2" fill="#383838" fill-opacity="1"/>
<ellipse cx="503" cy="302" rx="1.5" ry="1.5" fill="#bfbfbf" fill-opacity="1"/>
<ellipse cx="520" cy="307" rx="2" ry="1" fill="#b8b8b8" fill-opacity="1"/>
<ellipse cx="580" cy="314" rx="3" ry="1" fill="#bfbfbf" fill-opacity="1"/>
<ellipse cx="536" cy="289" rx="2" ry="1" fill="#b8b8b8" fill-opacity="1"/>
<ellipse cx="530" cy="291" rx="10" ry="1.5" fill="#616161" fill-opacity="1"/>
<ellipse cx="600" cy="296" rx="5" ry="1.5" fill="#616161" fill-opacity="1"/>
</g></g>
<line x1="489.3" y1="259.0" x2="489.3" y2="318.6" stroke="#1a1a1a" stroke-width="1" stroke-dasharray="3 3.4"/>
<line x1="587.7" y1="259.0" x2="587.7" y2="318.6" stroke="#1a1a1a" stroke-width="1" stroke-dasharray="3 3.4"/>
<line x1="476.5" y1="263.2" x2="612.8" y2="263.2" stroke="#1a1a1a" stroke-width="1" stroke-dasharray="3 3.4"/>
<line x1="476.5" y1="268.4" x2="612.8" y2="268.4" stroke="#1a1a1a" stroke-width="1" stroke-dasharray="3 3.4"/>
<rect x="476.5" y="259.0" width="136.29999999999995" height="59.6" fill="none" stroke="#bbb" stroke-width="0.5" stroke-opacity="0.6"/>
<text x="472.4" y="268.8" text-anchor="end" font-size="8.2" fill="#555">40</text>
<text x="472.4" y="283.9" text-anchor="end" font-size="8.2" fill="#555">30</text>
<text x="472.4" y="296.7" text-anchor="end" font-size="8.2" fill="#555">20</text>
<text x="472.4" y="310.2" text-anchor="end" font-size="8.2" fill="#555">10</text>
<text transform="translate(457.3 288.5) rotate(-90)" text-anchor="middle" font-size="9.5" fill="#666">Frequency (Hz)</text>
<text x="552" y="316.3" text-anchor="middle" font-size="8.2" fill="#24523a">RHES-ITPC</text>
<rect x="619.9" y="259.4" width="9" height="59" fill="url(#jetV)"/>
<text x="625.3" y="255.2" text-anchor="middle" font-size="8" fill="#555">relch power</text>
<text x="631.6" y="266.4" font-size="8" fill="#555">+1</text>
<text x="635.8" y="293.9" font-size="8.6" fill="#555">0</text>
<text x="631.6" y="318.9" font-size="8" fill="#555">-1</text>
<text x="666.9" y="282" text-anchor="middle" font-size="10.5" fill="#555">FEP</text>
<text x="666.9" y="294.7" text-anchor="middle" font-size="10.5" fill="#555">vs.</text>
<text x="666.9" y="307.3" text-anchor="middle" font-size="10.5" fill="#555">HC</text>
<text x="489" y="327.1" text-anchor="middle" font-size="8.3" fill="#555">0</text>
<text x="538.2" y="327.1" text-anchor="middle" font-size="8.3" fill="#555">1000</text>
<text x="578.3" y="327.1" font-size="8.3" fill="#555">2000 ms</text>
<path d="M491.7 458.9 L492.2 458.8 L492.7 458.6 L493.2 458.5 L493.7 458.4 L494.2 458.3 L494.7 458.1 L495.2 458 L495.7 457.9 L496.2 457.7 L496.7 457.6 L497.2 457.4 L497.7 457.3 L498.2 457.1 L498.7 456.9 L499.2 456.7 L499.7 456.6 L500.2 456.3 L500.7 456.1 L501.2 455.9 L501.7 455.6 L502.2 455.4 L502.7 455.1 L503.2 454.8 L503.7 454.5 L504.2 454.2 L504.7 453.8 L505.2 453.5 L505.7 453.1 L506.2 452.8 L506.7 452.4 L507.2 451.9 L507.7 451.5 L508.2 451.1 L508.7 450.6 L509.2 450.2 L509.7 449.7 L510.2 449.2 L510.7 448.7 L511.2 448.2 L511.7 447.7 L512.2 447.1 L512.7 446.6 L513.2 446 L513.7 445.4 L514.2 444.8 L514.7 444.2 L515.2 443.6 L515.7 443 L516.2 442.3 L516.7 441.7 L517.2 441 L517.7 440.3 L518.2 439.7 L518.7 439 L519.2 438.3 L519.7 437.6 L520.2 436.8 L520.7 436.1 L521.2 435.4 L521.7 434.6 L522.2 433.9 L522.7 433.1 L523.2 432.4 L523.7 431.6 L524.2 430.8 L524.7 430 L525.2 429.3 L525.7 428.5 L526.2 427.7 L526.7 426.9 L527.2 426.1 L527.7 425.3 L528.2 424.4 L528.7 423.6 L529.2 422.8 L529.7 422 L530.2 421.2 L530.7 420.3 L531.2 419.5 L531.7 418.6 L532.2 417.8 L532.7 417 L533.2 416.1 L533.7 415.2 L534.2 414.4 L534.7 413.5 L535.2 412.7 L535.7 411.8 L536.2 410.9 L536.7 410 L537.2 409.1 L537.7 408.3 L538.2 407.4 L538.7 406.5 L539.2 405.6 L539.7 404.7 L540.2 403.8 L540.7 402.9 L541.2 401.9 L541.7 401 L542.2 400.1 L542.7 399.2 L543.2 398.3 L543.7 397.5 L544.2 396.6 L544.7 395.7 L545.2 394.8 L545.7 394 L546.2 393.1 L546.7 392.3 L547.2 391.4 L547.7 390.6 L548.2 389.8 L548.7 389 L549.2 388.3 L549.7 387.5 L550.2 386.8 L550.7 386.1 L551.2 385.4 L551.7 384.7 L552.2 384 L552.7 383.4 L553.2 382.8 L553.7 382.2 L554.2 381.6 L554.7 381.1 L555.2 380.6 L555.7 380.1 L556.2 379.6 L556.7 379.1 L557.2 378.7 L557.7 378.3 L558.2 377.9 L558.7 377.5 L559.2 377.2 L559.7 376.9 L560.2 376.6 L560.7 376.3 L561.2 376.1 L561.7 375.9 L562.2 375.7 L562.7 375.6 L563.2 375.5 L563.7 375.4 L564.2 375.3 L564.7 375.2 L565.2 375.2 L565.7 375.2 L566.2 375.2 L566.7 375.2 L567.2 375.3 L567.7 375.3 L568.2 375.4 L568.7 375.5 L569.2 375.6 L569.7 375.8 L570.2 375.9 L570.7 376.1 L571.2 376.3 L571.7 376.6 L572.2 376.8 L572.7 377.1 L573.2 377.4 L573.7 377.7 L574.2 378 L574.7 378.3 L575.2 378.7 L575.7 379.1 L576.2 379.5 L576.7 379.9 L577.2 380.3 L577.7 380.7 L578.2 381.2 L578.7 381.6 L579.2 382.1 L579.7 382.6 L580.2 383.1 L580.7 383.7 L581.2 384.2 L581.7 384.8 L582.2 385.4 L582.7 386 L583.2 386.6 L583.7 387.2 L584.2 387.9 L584.7 388.6 L585.2 389.3 L585.7 390 L586.2 390.8 L586.7 391.5 L587.2 392.3 L587.7 393.1 L588.2 393.9 L588.7 394.8 L589.2 395.6 L589.7 396.5 L590.2 397.4 L590.7 398.3 L591.2 399.2 L591.7 400.2 L592.2 401.1 L592.7 402.1 L593.2 403.1 L593.7 404.1 L594.2 405.1 L594.7 406.1 L595.2 407.1 L595.7 408.1 L596.2 409.1 L596.7 410.2 L597.2 411.2 L597.7 412.2 L598.2 413.3 L598.7 414.3 L599.2 415.4 L599.7 416.4 L600.2 417.5 L600.7 418.5 L601.2 419.6 L601.7 420.6 L602.2 421.7 L602.7 422.8 L603.2 423.8 L603.7 424.9 L604.2 425.9 L604.7 427 L605.2 428.1 L605.7 429.1 L606.2 430.2 L606.7 431.3 L607.2 432.4 L607.7 433.5 L608.2 434.6 L608.7 435.6 L609.2 436.7 L609.7 437.9 L610.2 439 L610.7 440.1 L611.2 441.2 L611.7 442.3 L612.2 443.4 L612.7 444.5 L613.2 445.6 L613.7 446.7 L614.2 447.7 L614.7 448.8 L615.2 449.8 L615.7 450.8 L616.2 451.7 L616.7 452.7 L617.2 453.6 L617.7 454.4 L618.2 455.3 L618.7 456.1 L619.2 456.9 L619.7 457.6 L620.2 458.4 L620.7 459.1 L621.2 459.8 L621.7 460.4 L622.2 461 L622.7 461.6 L623.2 462.2 L623.7 462.8 L624.2 463.4 L624.7 463.9 L625.2 464.5 L625.7 465 L626.2 465.5 L626.7 466.1 L627.2 466.6 L627.7 467.1 L628.2 467.6 L628.7 468.1 L629.2 468.6 L629.7 469.1 L630.2 469.6 L630.7 470.1 L631.2 470.5 L631.7 471 L632.2 471.5 L632.7 472 L633.2 472.5 L633.2 473.3 L632.7 472.9 L632.2 472.4 L631.7 471.9 L631.2 471.4 L630.7 470.9 L630.2 470.5 L629.7 470 L629.2 469.5 L628.7 469 L628.2 468.5 L627.7 468 L627.2 467.5 L626.7 466.9 L626.2 466.4 L625.7 465.9 L625.2 465.3 L624.7 464.8 L624.2 464.2 L623.7 463.7 L623.2 463.1 L622.7 462.5 L622.2 461.9 L621.7 461.3 L621.2 460.7 L620.7 460.1 L620.2 459.5 L619.7 458.9 L619.2 458.2 L618.7 457.6 L618.2 456.9 L617.7 456.2 L617.2 455.4 L616.7 454.7 L616.2 453.9 L615.7 453.1 L615.2 452.3 L614.7 451.5 L614.2 450.6 L613.7 449.8 L613.2 448.9 L612.7 448 L612.2 447.1 L611.7 446.3 L611.2 445.4 L610.7 444.5 L610.2 443.6 L609.7 442.7 L609.2 441.8 L608.7 441 L608.2 440.1 L607.7 439.2 L607.2 438.4 L606.7 437.5 L606.2 436.7 L605.7 435.8 L605.2 435 L604.7 434.2 L604.2 433.3 L603.7 432.5 L603.2 431.7 L602.7 430.9 L602.2 430 L601.7 429.2 L601.2 428.4 L600.7 427.6 L600.2 426.8 L599.7 426 L599.2 425.2 L598.7 424.4 L598.2 423.6 L597.7 422.8 L597.2 422 L596.7 421.2 L596.2 420.4 L595.7 419.6 L595.2 418.8 L594.7 418.1 L594.2 417.3 L593.7 416.5 L593.2 415.8 L592.7 415 L592.2 414.3 L591.7 413.6 L591.2 412.9 L590.7 412.2 L590.2 411.5 L589.7 410.8 L589.2 410.2 L588.7 409.5 L588.2 408.9 L587.7 408.3 L587.2 407.7 L586.7 407.1 L586.2 406.5 L585.7 405.9 L585.2 405.4 L584.7 404.9 L584.2 404.4 L583.7 403.9 L583.2 403.4 L582.7 402.9 L582.2 402.5 L581.7 402 L581.2 401.6 L580.7 401.2 L580.2 400.8 L579.7 400.4 L579.2 400 L578.7 399.7 L578.2 399.3 L577.7 399 L577.2 398.7 L576.7 398.4 L576.2 398.1 L575.7 397.8 L575.2 397.5 L574.7 397.2 L574.2 397 L573.7 396.7 L573.2 396.5 L572.7 396.3 L572.2 396.1 L571.7 395.9 L571.2 395.7 L570.7 395.6 L570.2 395.4 L569.7 395.2 L569.2 395.1 L568.7 395 L568.2 394.9 L567.7 394.8 L567.2 394.7 L566.7 394.7 L566.2 394.6 L565.7 394.6 L565.2 394.6 L564.7 394.7 L564.2 394.7 L563.7 394.8 L563.2 394.9 L562.7 395 L562.2 395.2 L561.7 395.3 L561.2 395.5 L560.7 395.7 L560.2 395.9 L559.7 396.1 L559.2 396.4 L558.7 396.6 L558.2 396.9 L557.7 397.2 L557.2 397.5 L556.7 397.8 L556.2 398.2 L555.7 398.5 L555.2 398.9 L554.7 399.3 L554.2 399.7 L553.7 400.1 L553.2 400.5 L552.7 401 L552.2 401.5 L551.7 402 L551.2 402.5 L550.7 403 L550.2 403.5 L549.7 404.1 L549.2 404.6 L548.7 405.2 L548.2 405.8 L547.7 406.4 L547.2 407 L546.7 407.6 L546.2 408.3 L545.7 408.9 L545.2 409.6 L544.7 410.2 L544.2 410.9 L543.7 411.5 L543.2 412.2 L542.7 412.9 L542.2 413.6 L541.7 414.2 L541.2 414.9 L540.7 415.6 L540.2 416.3 L539.7 417 L539.2 417.7 L538.7 418.4 L538.2 419 L537.7 419.7 L537.2 420.4 L536.7 421.1 L536.2 421.7 L535.7 422.4 L535.2 423.1 L534.7 423.7 L534.2 424.4 L533.7 425.1 L533.2 425.7 L532.7 426.4 L532.2 427 L531.7 427.7 L531.2 428.3 L530.7 429 L530.2 429.6 L529.7 430.3 L529.2 430.9 L528.7 431.5 L528.2 432.2 L527.7 432.8 L527.2 433.4 L526.7 434.1 L526.2 434.7 L525.7 435.3 L525.2 435.9 L524.7 436.5 L524.2 437.2 L523.7 437.8 L523.2 438.4 L522.7 439 L522.2 439.6 L521.7 440.2 L521.2 440.7 L520.7 441.3 L520.2 441.9 L519.7 442.5 L519.2 443 L518.7 443.6 L518.2 444.1 L517.7 444.7 L517.2 445.2 L516.7 445.8 L516.2 446.3 L515.7 446.8 L515.2 447.3 L514.7 447.8 L514.2 448.3 L513.7 448.8 L513.2 449.2 L512.7 449.7 L512.2 450.1 L511.7 450.6 L511.2 451 L510.7 451.4 L510.2 451.8 L509.7 452.2 L509.2 452.6 L508.7 453 L508.2 453.4 L507.7 453.7 L507.2 454.1 L506.7 454.4 L506.2 454.8 L505.7 455.1 L505.2 455.4 L504.7 455.7 L504.2 456 L503.7 456.2 L503.2 456.5 L502.7 456.7 L502.2 457 L501.7 457.2 L501.2 457.4 L500.7 457.6 L500.2 457.8 L499.7 457.9 L499.2 458.1 L498.7 458.3 L498.2 458.4 L497.7 458.6 L497.2 458.7 L496.7 458.8 L496.2 459 L495.7 459.1 L495.2 459.2 L494.7 459.3 L494.2 459.4 L493.7 459.5 L493.2 459.6 L492.7 459.7 L492.2 459.8 L491.7 460 Z" fill="#cfd3d3" fill-opacity="0.55"/>
<path d="M491.7 459.9 L492.2 459.7 L492.7 459.6 L493.2 459.4 L493.7 459.2 L494.2 459 L494.7 458.8 L495.2 458.6 L495.7 458.5 L496.2 458.3 L496.7 458.1 L497.2 457.9 L497.7 457.7 L498.2 457.5 L498.7 457.3 L499.2 457 L499.7 456.8 L500.2 456.6 L500.7 456.4 L501.2 456.1 L501.7 455.9 L502.2 455.6 L502.7 455.4 L503.2 455.1 L503.7 454.8 L504.2 454.5 L504.7 454.2 L505.2 453.9 L505.7 453.6 L506.2 453.3 L506.7 452.9 L507.2 452.6 L507.7 452.2 L508.2 451.8 L508.7 451.4 L509.2 451 L509.7 450.6 L510.2 450.2 L510.7 449.8 L511.2 449.3 L511.7 448.8 L512.2 448.4 L512.7 447.9 L513.2 447.4 L513.7 446.8 L514.2 446.3 L514.7 445.7 L515.2 445.1 L515.7 444.5 L516.2 443.9 L516.7 443.3 L517.2 442.7 L517.7 442 L518.2 441.4 L518.7 440.7 L519.2 440 L519.7 439.3 L520.2 438.6 L520.7 437.9 L521.2 437.1 L521.7 436.4 L522.2 435.7 L522.7 434.9 L523.2 434.1 L523.7 433.4 L524.2 432.6 L524.7 431.8 L525.2 431 L525.7 430.2 L526.2 429.4 L526.7 428.6 L527.2 427.8 L527.7 427 L528.2 426.2 L528.7 425.4 L529.2 424.6 L529.7 423.7 L530.2 422.9 L530.7 422.1 L531.2 421.3 L531.7 420.5 L532.2 419.7 L532.7 418.8 L533.2 418 L533.7 417.2 L534.2 416.4 L534.7 415.6 L535.2 414.8 L535.7 414.1 L536.2 413.3 L536.7 412.5 L537.2 411.7 L537.7 411 L538.2 410.2 L538.7 409.5 L539.2 408.7 L539.7 408 L540.2 407.3 L540.7 406.6 L541.2 405.9 L541.7 405.2 L542.2 404.5 L542.7 403.9 L543.2 403.2 L543.7 402.6 L544.2 402 L544.7 401.3 L545.2 400.8 L545.7 400.2 L546.2 399.6 L546.7 399.1 L547.2 398.5 L547.7 398 L548.2 397.5 L548.7 397 L549.2 396.6 L549.7 396.1 L550.2 395.7 L550.7 395.3 L551.2 394.9 L551.7 394.5 L552.2 394.2 L552.7 393.9 L553.2 393.6 L553.7 393.3 L554.2 393 L554.7 392.8 L555.2 392.5 L555.7 392.3 L556.2 392.1 L556.7 391.9 L557.2 391.7 L557.7 391.6 L558.2 391.5 L558.7 391.3 L559.2 391.2 L559.7 391.1 L560.2 391.1 L560.7 391 L561.2 390.9 L561.7 390.9 L562.2 390.9 L562.7 390.9 L563.2 390.9 L563.7 390.9 L564.2 390.9 L564.7 390.9 L565.2 391 L565.7 391 L566.2 391.1 L566.7 391.2 L567.2 391.3 L567.7 391.4 L568.2 391.5 L568.7 391.7 L569.2 391.8 L569.7 392 L570.2 392.2 L570.7 392.4 L571.2 392.6 L571.7 392.8 L572.2 393.1 L572.7 393.3 L573.2 393.6 L573.7 393.9 L574.2 394.2 L574.7 394.5 L575.2 394.9 L575.7 395.3 L576.2 395.6 L576.7 396 L577.2 396.5 L577.7 396.9 L578.2 397.3 L578.7 397.8 L579.2 398.3 L579.7 398.8 L580.2 399.3 L580.7 399.8 L581.2 400.4 L581.7 400.9 L582.2 401.5 L582.7 402.1 L583.2 402.7 L583.7 403.3 L584.2 403.9 L584.7 404.6 L585.2 405.2 L585.7 405.9 L586.2 406.6 L586.7 407.2 L587.2 407.9 L587.7 408.6 L588.2 409.4 L588.7 410.1 L589.2 410.8 L589.7 411.6 L590.2 412.3 L590.7 413.1 L591.2 413.9 L591.7 414.7 L592.2 415.5 L592.7 416.3 L593.2 417.1 L593.7 418 L594.2 418.8 L594.7 419.6 L595.2 420.5 L595.7 421.4 L596.2 422.2 L596.7 423.1 L597.2 424 L597.7 424.9 L598.2 425.8 L598.7 426.8 L599.2 427.7 L599.7 428.6 L600.2 429.6 L600.7 430.5 L601.2 431.5 L601.7 432.4 L602.2 433.4 L602.7 434.3 L603.2 435.3 L603.7 436.3 L604.2 437.2 L604.7 438.2 L605.2 439.1 L605.7 440.1 L606.2 441 L606.7 441.9 L607.2 442.8 L607.7 443.7 L608.2 444.6 L608.7 445.5 L609.2 446.4 L609.7 447.2 L610.2 448.1 L610.7 448.9 L611.2 449.7 L611.7 450.4 L612.2 451.2 L612.7 451.9 L613.2 452.6 L613.7 453.3 L614.2 454 L614.7 454.7 L615.2 455.3 L615.7 456 L616.2 456.6 L616.7 457.2 L617.2 457.7 L617.7 458.3 L618.2 458.8 L618.7 459.4 L619.2 459.9 L619.7 460.4 L620.2 460.8 L620.7 461.3 L621.2 461.7 L621.7 462.2 L622.2 462.6 L622.7 463.1 L623.2 463.5 L623.7 463.9 L624.2 464.4 L624.7 464.8 L625.2 465.3 L625.7 465.7 L626.2 466.2 L626.7 466.6 L627.2 467 L627.7 467.5 L628.2 467.9 L628.7 468.4 L629.2 468.8 L629.7 469.3 L630.2 469.7 L630.7 470.2 L631.2 470.7 L631.7 471.1 L632.2 471.6 L632.7 472 L633.2 472.5 L633.2 473.4 L632.7 472.9 L632.2 472.4 L631.7 472 L631.2 471.5 L630.7 471.1 L630.2 470.6 L629.7 470.2 L629.2 469.7 L628.7 469.3 L628.2 468.8 L627.7 468.4 L627.2 467.9 L626.7 467.5 L626.2 467 L625.7 466.6 L625.2 466.2 L624.7 465.7 L624.2 465.3 L623.7 464.8 L623.2 464.4 L622.7 464 L622.2 463.5 L621.7 463.1 L621.2 462.6 L620.7 462.2 L620.2 461.7 L619.7 461.3 L619.2 460.8 L618.7 460.4 L618.2 459.9 L617.7 459.4 L617.2 458.9 L616.7 458.4 L616.2 457.9 L615.7 457.4 L615.2 456.8 L614.7 456.2 L614.2 455.7 L613.7 455.1 L613.2 454.5 L612.7 453.9 L612.2 453.2 L611.7 452.6 L611.2 451.9 L610.7 451.3 L610.2 450.6 L609.7 449.9 L609.2 449.2 L608.7 448.4 L608.2 447.7 L607.7 446.9 L607.2 446.2 L606.7 445.4 L606.2 444.7 L605.7 443.9 L605.2 443.1 L604.7 442.3 L604.2 441.5 L603.7 440.7 L603.2 439.9 L602.7 439.1 L602.2 438.4 L601.7 437.6 L601.2 436.8 L600.7 436 L600.2 435.2 L599.7 434.4 L599.2 433.7 L598.7 432.9 L598.2 432.2 L597.7 431.4 L597.2 430.7 L596.7 430 L596.2 429.2 L595.7 428.5 L595.2 427.8 L594.7 427.1 L594.2 426.4 L593.7 425.8 L593.2 425.1 L592.7 424.4 L592.2 423.8 L591.7 423.1 L591.2 422.5 L590.7 421.9 L590.2 421.2 L589.7 420.6 L589.2 420 L588.7 419.4 L588.2 418.8 L587.7 418.3 L587.2 417.7 L586.7 417.1 L586.2 416.6 L585.7 416.1 L585.2 415.5 L584.7 415 L584.2 414.5 L583.7 414 L583.2 413.5 L582.7 413 L582.2 412.6 L581.7 412.1 L581.2 411.7 L580.7 411.2 L580.2 410.8 L579.7 410.4 L579.2 410 L578.7 409.6 L578.2 409.2 L577.7 408.9 L577.2 408.5 L576.7 408.2 L576.2 407.9 L575.7 407.6 L575.2 407.3 L574.7 407 L574.2 406.8 L573.7 406.5 L573.2 406.3 L572.7 406 L572.2 405.8 L571.7 405.6 L571.2 405.5 L570.7 405.3 L570.2 405.1 L569.7 405 L569.2 404.9 L568.7 404.7 L568.2 404.6 L567.7 404.5 L567.2 404.4 L566.7 404.4 L566.2 404.3 L565.7 404.2 L565.2 404.2 L564.7 404.1 L564.2 404.1 L563.7 404.1 L563.2 404.1 L562.7 404.1 L562.2 404.1 L561.7 404.1 L561.2 404.2 L560.7 404.2 L560.2 404.3 L559.7 404.3 L559.2 404.4 L558.7 404.5 L558.2 404.6 L557.7 404.7 L557.2 404.8 L556.7 404.9 L556.2 405.1 L555.7 405.2 L555.2 405.4 L554.7 405.6 L554.2 405.8 L553.7 406 L553.2 406.2 L552.7 406.5 L552.2 406.7 L551.7 407 L551.2 407.3 L550.7 407.6 L550.2 407.9 L549.7 408.3 L549.2 408.6 L548.7 409 L548.2 409.4 L547.7 409.8 L547.2 410.2 L546.7 410.6 L546.2 411 L545.7 411.5 L545.2 412 L544.7 412.4 L544.2 412.9 L543.7 413.4 L543.2 413.9 L542.7 414.4 L542.2 415 L541.7 415.5 L541.2 416.1 L540.7 416.6 L540.2 417.2 L539.7 417.8 L539.2 418.3 L538.7 418.9 L538.2 419.5 L537.7 420.1 L537.2 420.8 L536.7 421.4 L536.2 422 L535.7 422.6 L535.2 423.3 L534.7 423.9 L534.2 424.5 L533.7 425.2 L533.2 425.8 L532.7 426.5 L532.2 427.1 L531.7 427.8 L531.2 428.5 L530.7 429.1 L530.2 429.8 L529.7 430.5 L529.2 431.1 L528.7 431.8 L528.2 432.4 L527.7 433.1 L527.2 433.8 L526.7 434.4 L526.2 435.1 L525.7 435.7 L525.2 436.4 L524.7 437 L524.2 437.7 L523.7 438.3 L523.2 439 L522.7 439.6 L522.2 440.2 L521.7 440.8 L521.2 441.5 L520.7 442.1 L520.2 442.7 L519.7 443.2 L519.2 443.8 L518.7 444.4 L518.2 445 L517.7 445.5 L517.2 446.1 L516.7 446.6 L516.2 447.1 L515.7 447.6 L515.2 448.1 L514.7 448.6 L514.2 449.1 L513.7 449.5 L513.2 450 L512.7 450.4 L512.2 450.8 L511.7 451.2 L511.2 451.6 L510.7 452 L510.2 452.4 L509.7 452.8 L509.2 453.1 L508.7 453.5 L508.2 453.8 L507.7 454.1 L507.2 454.4 L506.7 454.7 L506.2 455 L505.7 455.3 L505.2 455.6 L504.7 455.8 L504.2 456.1 L503.7 456.3 L503.2 456.6 L502.7 456.8 L502.2 457 L501.7 457.3 L501.2 457.5 L500.7 457.7 L500.2 457.9 L499.7 458.1 L499.2 458.3 L498.7 458.5 L498.2 458.7 L497.7 458.8 L497.2 459 L496.7 459.2 L496.2 459.4 L495.7 459.5 L495.2 459.7 L494.7 459.9 L494.2 460 L493.7 460.2 L493.2 460.4 L492.7 460.5 L492.2 460.7 L491.7 460.8 Z" fill="#a8f0a8" fill-opacity="0.5"/>
<path d="M491.7 458.3 L492.2 458.1 L492.7 458 L493.2 457.9 L493.7 457.8 L494.2 457.7 L494.7 457.6 L495.2 457.5 L495.7 457.4 L496.2 457.3 L496.7 457.2 L497.2 457 L497.7 456.9 L498.2 456.8 L498.7 456.6 L499.2 456.5 L499.7 456.3 L500.2 456.1 L500.7 456 L501.2 455.8 L501.7 455.6 L502.2 455.4 L502.7 455.2 L503.2 454.9 L503.7 454.7 L504.2 454.5 L504.7 454.2 L505.2 453.9 L505.7 453.7 L506.2 453.4 L506.7 453.1 L507.2 452.7 L507.7 452.4 L508.2 452.1 L508.7 451.7 L509.2 451.4 L509.7 451 L510.2 450.6 L510.7 450.2 L511.2 449.8 L511.7 449.4 L512.2 448.9 L512.7 448.5 L513.2 448 L513.7 447.5 L514.2 447 L514.7 446.5 L515.2 446 L515.7 445.5 L516.2 444.9 L516.7 444.4 L517.2 443.8 L517.7 443.2 L518.2 442.7 L518.7 442.1 L519.2 441.5 L519.7 440.8 L520.2 440.2 L520.7 439.6 L521.2 438.9 L521.7 438.3 L522.2 437.6 L522.7 437 L523.2 436.3 L523.7 435.6 L524.2 435 L524.7 434.3 L525.2 433.6 L525.7 432.9 L526.2 432.2 L526.7 431.5 L527.2 430.8 L527.7 430.1 L528.2 429.4 L528.7 428.7 L529.2 428 L529.7 427.3 L530.2 426.6 L530.7 425.9 L531.2 425.2 L531.7 424.5 L532.2 423.8 L532.7 423.2 L533.2 422.5 L533.7 421.8 L534.2 421.1 L534.7 420.4 L535.2 419.7 L535.7 419.1 L536.2 418.4 L536.7 417.8 L537.2 417.1 L537.7 416.5 L538.2 415.8 L538.7 415.2 L539.2 414.6 L539.7 414 L540.2 413.4 L540.7 412.8 L541.2 412.2 L541.7 411.6 L542.2 411.1 L542.7 410.5 L543.2 410 L543.7 409.4 L544.2 408.9 L544.7 408.4 L545.2 407.9 L545.7 407.4 L546.2 407 L546.7 406.5 L547.2 406.1 L547.7 405.6 L548.2 405.2 L548.7 404.8 L549.2 404.4 L549.7 404 L550.2 403.7 L550.7 403.3 L551.2 403 L551.7 402.7 L552.2 402.4 L552.7 402.1 L553.2 401.8 L553.7 401.6 L554.2 401.3 L554.7 401.1 L555.2 400.9 L555.7 400.7 L556.2 400.5 L556.7 400.4 L557.2 400.2 L557.7 400.1 L558.2 399.9 L558.7 399.8 L559.2 399.7 L559.7 399.6 L560.2 399.5 L560.7 399.5 L561.2 399.4 L561.7 399.3 L562.2 399.3 L562.7 399.3 L563.2 399.3 L563.7 399.3 L564.2 399.3 L564.7 399.3 L565.2 399.3 L565.7 399.3 L566.2 399.4 L566.7 399.4 L567.2 399.5 L567.7 399.6 L568.2 399.7 L568.7 399.8 L569.2 399.9 L569.7 400.1 L570.2 400.2 L570.7 400.4 L571.2 400.6 L571.7 400.7 L572.2 401 L572.7 401.2 L573.2 401.4 L573.7 401.7 L574.2 401.9 L574.7 402.2 L575.2 402.5 L575.7 402.8 L576.2 403.1 L576.7 403.5 L577.2 403.9 L577.7 404.2 L578.2 404.6 L578.7 405 L579.2 405.4 L579.7 405.9 L580.2 406.3 L580.7 406.8 L581.2 407.3 L581.7 407.7 L582.2 408.2 L582.7 408.7 L583.2 409.3 L583.7 409.8 L584.2 410.3 L584.7 410.9 L585.2 411.5 L585.7 412 L586.2 412.6 L586.7 413.2 L587.2 413.8 L587.7 414.4 L588.2 415 L588.7 415.7 L589.2 416.3 L589.7 417 L590.2 417.6 L590.7 418.3 L591.2 419 L591.7 419.7 L592.2 420.4 L592.7 421.1 L593.2 421.8 L593.7 422.5 L594.2 423.2 L594.7 424 L595.2 424.7 L595.7 425.5 L596.2 426.3 L596.7 427.1 L597.2 427.8 L597.7 428.6 L598.2 429.5 L598.7 430.3 L599.2 431.1 L599.7 432 L600.2 432.8 L600.7 433.7 L601.2 434.6 L601.7 435.4 L602.2 436.3 L602.7 437.2 L603.2 438.1 L603.7 439 L604.2 439.9 L604.7 440.8 L605.2 441.6 L605.7 442.5 L606.2 443.4 L606.7 444.2 L607.2 445.1 L607.7 445.9 L608.2 446.7 L608.7 447.5 L609.2 448.3 L609.7 449.1 L610.2 449.8 L610.7 450.6 L611.2 451.3 L611.7 452 L612.2 452.6 L612.7 453.3 L613.2 453.9 L613.7 454.6 L614.2 455.2 L614.7 455.8 L615.2 456.3 L615.7 456.9 L616.2 457.5 L616.7 458 L617.2 458.5 L617.7 459 L618.2 459.5 L618.7 460 L619.2 460.5 L619.7 460.9 L620.2 461.4 L620.7 461.8 L621.2 462.3 L621.7 462.7 L622.2 463.1 L622.7 463.5 L623.2 464 L623.7 464.4 L624.2 464.8 L624.7 465.2 L625.2 465.7 L625.7 466.1 L626.2 466.5 L626.7 466.9 L627.2 467.4 L627.7 467.8 L628.2 468.2 L628.7 468.6 L629.2 469.1 L629.7 469.5 L630.2 469.9 L630.7 470.4 L631.2 470.8 L631.7 471.2 L632.2 471.6 L632.7 472.1 L633.2 472.5 L633.2 473.4 L632.7 472.9 L632.2 472.5 L631.7 472.1 L631.2 471.7 L630.7 471.2 L630.2 470.8 L629.7 470.4 L629.2 470 L628.7 469.5 L628.2 469.1 L627.7 468.7 L627.2 468.3 L626.7 467.8 L626.2 467.4 L625.7 467 L625.2 466.6 L624.7 466.1 L624.2 465.7 L623.7 465.3 L623.2 464.9 L622.7 464.4 L622.2 464 L621.7 463.6 L621.2 463.1 L620.7 462.7 L620.2 462.3 L619.7 461.8 L619.2 461.4 L618.7 460.9 L618.2 460.4 L617.7 460 L617.2 459.5 L616.7 459 L616.2 458.5 L615.7 457.9 L615.2 457.4 L614.7 456.9 L614.2 456.3 L613.7 455.7 L613.2 455.2 L612.7 454.5 L612.2 453.9 L611.7 453.3 L611.2 452.6 L610.7 452 L610.2 451.3 L609.7 450.6 L609.2 449.9 L608.7 449.1 L608.2 448.4 L607.7 447.6 L607.2 446.8 L606.7 446.1 L606.2 445.3 L605.7 444.5 L605.2 443.7 L604.7 442.8 L604.2 442 L603.7 441.2 L603.2 440.4 L602.7 439.6 L602.2 438.7 L601.7 437.9 L601.2 437.1 L600.7 436.3 L600.2 435.5 L599.7 434.7 L599.2 433.9 L598.7 433.2 L598.2 432.4 L597.7 431.7 L597.2 430.9 L596.7 430.2 L596.2 429.5 L595.7 428.8 L595.2 428.1 L594.7 427.4 L594.2 426.7 L593.7 426 L593.2 425.3 L592.7 424.7 L592.2 424 L591.7 423.4 L591.2 422.8 L590.7 422.2 L590.2 421.5 L589.7 420.9 L589.2 420.3 L588.7 419.8 L588.2 419.2 L587.7 418.6 L587.2 418.1 L586.7 417.5 L586.2 417 L585.7 416.4 L585.2 415.9 L584.7 415.4 L584.2 414.9 L583.7 414.4 L583.2 413.9 L582.7 413.4 L582.2 413 L581.7 412.5 L581.2 412.1 L580.7 411.6 L580.2 411.2 L579.7 410.8 L579.2 410.4 L578.7 410 L578.2 409.7 L577.7 409.3 L577.2 409 L576.7 408.6 L576.2 408.3 L575.7 408 L575.2 407.7 L574.7 407.5 L574.2 407.2 L573.7 407 L573.2 406.7 L572.7 406.5 L572.2 406.3 L571.7 406.1 L571.2 406 L570.7 405.8 L570.2 405.6 L569.7 405.5 L569.2 405.4 L568.7 405.3 L568.2 405.2 L567.7 405.1 L567.2 405 L566.7 404.9 L566.2 404.9 L565.7 404.8 L565.2 404.8 L564.7 404.8 L564.2 404.8 L563.7 404.8 L563.2 404.8 L562.7 404.8 L562.2 404.8 L561.7 404.9 L561.2 404.9 L560.7 405 L560.2 405 L559.7 405.1 L559.2 405.2 L558.7 405.3 L558.2 405.4 L557.7 405.5 L557.2 405.6 L556.7 405.8 L556.2 405.9 L555.7 406.1 L555.2 406.3 L554.7 406.5 L554.2 406.7 L553.7 406.9 L553.2 407.1 L552.7 407.4 L552.2 407.6 L551.7 407.9 L551.2 408.2 L550.7 408.5 L550.2 408.8 L549.7 409.1 L549.2 409.5 L548.7 409.8 L548.2 410.2 L547.7 410.6 L547.2 411 L546.7 411.4 L546.2 411.8 L545.7 412.2 L545.2 412.7 L544.7 413.1 L544.2 413.6 L543.7 414.1 L543.2 414.5 L542.7 415 L542.2 415.5 L541.7 416.1 L541.2 416.6 L540.7 417.1 L540.2 417.7 L539.7 418.2 L539.2 418.8 L538.7 419.3 L538.2 419.9 L537.7 420.5 L537.2 421.1 L536.7 421.7 L536.2 422.3 L535.7 422.9 L535.2 423.5 L534.7 424.1 L534.2 424.7 L533.7 425.3 L533.2 426 L532.7 426.6 L532.2 427.2 L531.7 427.9 L531.2 428.5 L530.7 429.2 L530.2 429.8 L529.7 430.4 L529.2 431.1 L528.7 431.7 L528.2 432.4 L527.7 433 L527.2 433.7 L526.7 434.3 L526.2 434.9 L525.7 435.6 L525.2 436.2 L524.7 436.9 L524.2 437.5 L523.7 438.1 L523.2 438.7 L522.7 439.3 L522.2 440 L521.7 440.6 L521.2 441.2 L520.7 441.8 L520.2 442.3 L519.7 442.9 L519.2 443.5 L518.7 444.1 L518.2 444.6 L517.7 445.2 L517.2 445.7 L516.7 446.2 L516.2 446.7 L515.7 447.2 L515.2 447.7 L514.7 448.2 L514.2 448.7 L513.7 449.1 L513.2 449.6 L512.7 450 L512.2 450.5 L511.7 450.9 L511.2 451.3 L510.7 451.6 L510.2 452 L509.7 452.4 L509.2 452.7 L508.7 453.1 L508.2 453.4 L507.7 453.7 L507.2 454 L506.7 454.3 L506.2 454.6 L505.7 454.9 L505.2 455.1 L504.7 455.4 L504.2 455.6 L503.7 455.9 L503.2 456.1 L502.7 456.3 L502.2 456.5 L501.7 456.7 L501.2 456.9 L500.7 457.1 L500.2 457.2 L499.7 457.4 L499.2 457.5 L498.7 457.7 L498.2 457.8 L497.7 457.9 L497.2 458.1 L496.7 458.2 L496.2 458.3 L495.7 458.4 L495.2 458.5 L494.7 458.6 L494.2 458.7 L493.7 458.8 L493.2 458.9 L492.7 459 L492.2 459.1 L491.7 459.2 Z" fill="#9aa8e0" fill-opacity="0.45"/>
<path d="M491.7 457.3 L492.2 457.2 L492.7 457.2 L493.2 457.1 L493.7 457 L494.2 456.9 L494.7 456.8 L495.2 456.7 L495.7 456.6 L496.2 456.6 L496.7 456.5 L497.2 456.4 L497.7 456.3 L498.2 456.2 L498.7 456.1 L499.2 455.9 L499.7 455.8 L500.2 455.7 L500.7 455.6 L501.2 455.5 L501.7 455.3 L502.2 455.2 L502.7 455 L503.2 454.9 L503.7 454.7 L504.2 454.5 L504.7 454.4 L505.2 454.2 L505.7 454 L506.2 453.8 L506.7 453.5 L507.2 453.3 L507.7 453.1 L508.2 452.8 L508.7 452.6 L509.2 452.3 L509.7 452 L510.2 451.7 L510.7 451.4 L511.2 451.1 L511.7 450.8 L512.2 450.4 L512.7 450.1 L513.2 449.7 L513.7 449.3 L514.2 448.9 L514.7 448.5 L515.2 448 L515.7 447.6 L516.2 447.1 L516.7 446.6 L517.2 446.2 L517.7 445.6 L518.2 445.1 L518.7 444.6 L519.2 444.1 L519.7 443.5 L520.2 443 L520.7 442.4 L521.2 441.8 L521.7 441.3 L522.2 440.7 L522.7 440.1 L523.2 439.5 L523.7 438.9 L524.2 438.3 L524.7 437.7 L525.2 437.1 L525.7 436.5 L526.2 436 L526.7 435.4 L527.2 434.8 L527.7 434.2 L528.2 433.6 L528.7 433 L529.2 432.4 L529.7 431.8 L530.2 431.2 L530.7 430.6 L531.2 430.1 L531.7 429.5 L532.2 428.9 L532.7 428.4 L533.2 427.8 L533.7 427.2 L534.2 426.7 L534.7 426.1 L535.2 425.6 L535.7 425 L536.2 424.5 L536.7 424 L537.2 423.4 L537.7 422.9 L538.2 422.4 L538.7 421.9 L539.2 421.4 L539.7 420.9 L540.2 420.4 L540.7 419.9 L541.2 419.4 L541.7 418.9 L542.2 418.4 L542.7 418 L543.2 417.5 L543.7 417.1 L544.2 416.6 L544.7 416.2 L545.2 415.8 L545.7 415.4 L546.2 415 L546.7 414.6 L547.2 414.2 L547.7 413.8 L548.2 413.5 L548.7 413.1 L549.2 412.8 L549.7 412.5 L550.2 412.2 L550.7 411.9 L551.2 411.6 L551.7 411.3 L552.2 411.1 L552.7 410.8 L553.2 410.6 L553.7 410.4 L554.2 410.2 L554.7 410 L555.2 409.8 L555.7 409.6 L556.2 409.5 L556.7 409.3 L557.2 409.2 L557.7 409.1 L558.2 409 L558.7 408.9 L559.2 408.8 L559.7 408.7 L560.2 408.7 L560.7 408.6 L561.2 408.6 L561.7 408.6 L562.2 408.6 L562.7 408.6 L563.2 408.6 L563.7 408.6 L564.2 408.6 L564.7 408.7 L565.2 408.7 L565.7 408.8 L566.2 408.9 L566.7 408.9 L567.2 409 L567.7 409.2 L568.2 409.3 L568.7 409.4 L569.2 409.6 L569.7 409.7 L570.2 409.9 L570.7 410.1 L571.2 410.3 L571.7 410.5 L572.2 410.7 L572.7 410.9 L573.2 411.2 L573.7 411.4 L574.2 411.7 L574.7 411.9 L575.2 412.2 L575.7 412.5 L576.2 412.8 L576.7 413.2 L577.2 413.5 L577.7 413.9 L578.2 414.2 L578.7 414.6 L579.2 415 L579.7 415.4 L580.2 415.8 L580.7 416.2 L581.2 416.6 L581.7 417.1 L582.2 417.5 L582.7 418 L583.2 418.5 L583.7 419 L584.2 419.5 L584.7 420 L585.2 420.5 L585.7 421.1 L586.2 421.6 L586.7 422.2 L587.2 422.8 L587.7 423.4 L588.2 424 L588.7 424.6 L589.2 425.2 L589.7 425.8 L590.2 426.5 L590.7 427.1 L591.2 427.8 L591.7 428.5 L592.2 429.1 L592.7 429.8 L593.2 430.5 L593.7 431.2 L594.2 431.9 L594.7 432.6 L595.2 433.3 L595.7 434 L596.2 434.7 L596.7 435.4 L597.2 436.1 L597.7 436.8 L598.2 437.5 L598.7 438.2 L599.2 438.9 L599.7 439.6 L600.2 440.3 L600.7 441 L601.2 441.7 L601.7 442.4 L602.2 443 L602.7 443.7 L603.2 444.4 L603.7 445 L604.2 445.7 L604.7 446.4 L605.2 447 L605.7 447.7 L606.2 448.3 L606.7 449 L607.2 449.6 L607.7 450.3 L608.2 450.9 L608.7 451.5 L609.2 452.2 L609.7 452.8 L610.2 453.4 L610.7 454 L611.2 454.6 L611.7 455.2 L612.2 455.8 L612.7 456.4 L613.2 457 L613.7 457.6 L614.2 458.1 L614.7 458.7 L615.2 459.2 L615.7 459.7 L616.2 460.2 L616.7 460.7 L617.2 461.1 L617.7 461.6 L618.2 462 L618.7 462.4 L619.2 462.8 L619.7 463.2 L620.2 463.5 L620.7 463.9 L621.2 464.3 L621.7 464.6 L622.2 465 L622.7 465.3 L623.2 465.6 L623.7 466 L624.2 466.3 L624.7 466.7 L625.2 467 L625.7 467.3 L626.2 467.7 L626.7 468 L627.2 468.4 L627.7 468.7 L628.2 469.1 L628.7 469.4 L629.2 469.8 L629.7 470.1 L630.2 470.4 L630.7 470.8 L631.2 471.1 L631.7 471.5 L632.2 471.8 L632.7 472.2 L633.2 472.5 L633.2 473.4 L632.7 473.1 L632.2 472.7 L631.7 472.4 L631.2 472 L630.7 471.7 L630.2 471.3 L629.7 471 L629.2 470.6 L628.7 470.3 L628.2 469.9 L627.7 469.6 L627.2 469.3 L626.7 468.9 L626.2 468.6 L625.7 468.2 L625.2 467.9 L624.7 467.5 L624.2 467.2 L623.7 466.9 L623.2 466.5 L622.7 466.2 L622.2 465.8 L621.7 465.5 L621.2 465.1 L620.7 464.8 L620.2 464.4 L619.7 464.1 L619.2 463.7 L618.7 463.3 L618.2 462.9 L617.7 462.5 L617.2 462 L616.7 461.6 L616.2 461.1 L615.7 460.7 L615.2 460.2 L614.7 459.7 L614.2 459.2 L613.7 458.7 L613.2 458.2 L612.7 457.7 L612.2 457.1 L611.7 456.6 L611.2 456.1 L610.7 455.5 L610.2 455 L609.7 454.4 L609.2 453.9 L608.7 453.3 L608.2 452.8 L607.7 452.2 L607.2 451.7 L606.7 451.1 L606.2 450.5 L605.7 450 L605.2 449.4 L604.7 448.8 L604.2 448.3 L603.7 447.7 L603.2 447.1 L602.7 446.5 L602.2 445.9 L601.7 445.4 L601.2 444.8 L600.7 444.2 L600.2 443.6 L599.7 443 L599.2 442.4 L598.7 441.8 L598.2 441.2 L597.7 440.6 L597.2 440 L596.7 439.4 L596.2 438.8 L595.7 438.2 L595.2 437.6 L594.7 437 L594.2 436.4 L593.7 435.8 L593.2 435.2 L592.7 434.7 L592.2 434.1 L591.7 433.5 L591.2 432.9 L590.7 432.4 L590.2 431.8 L589.7 431.3 L589.2 430.8 L588.7 430.2 L588.2 429.7 L587.7 429.2 L587.2 428.7 L586.7 428.2 L586.2 427.7 L585.7 427.3 L585.2 426.8 L584.7 426.4 L584.2 425.9 L583.7 425.5 L583.2 425.1 L582.7 424.7 L582.2 424.3 L581.7 423.9 L581.2 423.6 L580.7 423.2 L580.2 422.8 L579.7 422.5 L579.2 422.2 L578.7 421.8 L578.2 421.5 L577.7 421.2 L577.2 420.9 L576.7 420.7 L576.2 420.4 L575.7 420.1 L575.2 419.9 L574.7 419.6 L574.2 419.4 L573.7 419.2 L573.2 419 L572.7 418.8 L572.2 418.6 L571.7 418.4 L571.2 418.2 L570.7 418.1 L570.2 417.9 L569.7 417.8 L569.2 417.7 L568.7 417.5 L568.2 417.4 L567.7 417.3 L567.2 417.2 L566.7 417.2 L566.2 417.1 L565.7 417 L565.2 417 L564.7 416.9 L564.2 416.9 L563.7 416.9 L563.2 416.8 L562.7 416.8 L562.2 416.8 L561.7 416.8 L561.2 416.9 L560.7 416.9 L560.2 416.9 L559.7 417 L559.2 417 L558.7 417.1 L558.2 417.2 L557.7 417.3 L557.2 417.4 L556.7 417.5 L556.2 417.6 L555.7 417.7 L555.2 417.9 L554.7 418 L554.2 418.2 L553.7 418.3 L553.2 418.5 L552.7 418.7 L552.2 418.9 L551.7 419.1 L551.2 419.4 L550.7 419.6 L550.2 419.8 L549.7 420.1 L549.2 420.4 L548.7 420.6 L548.2 420.9 L547.7 421.2 L547.2 421.5 L546.7 421.9 L546.2 422.2 L545.7 422.5 L545.2 422.9 L544.7 423.2 L544.2 423.6 L543.7 423.9 L543.2 424.3 L542.7 424.7 L542.2 425.1 L541.7 425.5 L541.2 425.9 L540.7 426.3 L540.2 426.7 L539.7 427.1 L539.2 427.5 L538.7 427.9 L538.2 428.4 L537.7 428.8 L537.2 429.3 L536.7 429.7 L536.2 430.2 L535.7 430.6 L535.2 431.1 L534.7 431.5 L534.2 432 L533.7 432.5 L533.2 432.9 L532.7 433.4 L532.2 433.9 L531.7 434.4 L531.2 434.9 L530.7 435.4 L530.2 435.8 L529.7 436.3 L529.2 436.8 L528.7 437.3 L528.2 437.8 L527.7 438.3 L527.2 438.8 L526.7 439.4 L526.2 439.9 L525.7 440.4 L525.2 440.9 L524.7 441.4 L524.2 441.9 L523.7 442.4 L523.2 442.9 L522.7 443.4 L522.2 443.9 L521.7 444.4 L521.2 444.9 L520.7 445.4 L520.2 445.9 L519.7 446.4 L519.2 446.8 L518.7 447.3 L518.2 447.8 L517.7 448.2 L517.2 448.6 L516.7 449.1 L516.2 449.5 L515.7 449.9 L515.2 450.3 L514.7 450.7 L514.2 451 L513.7 451.4 L513.2 451.7 L512.7 452.1 L512.2 452.4 L511.7 452.7 L511.2 453 L510.7 453.2 L510.2 453.5 L509.7 453.8 L509.2 454 L508.7 454.3 L508.2 454.5 L507.7 454.7 L507.2 454.9 L506.7 455.1 L506.2 455.3 L505.7 455.5 L505.2 455.7 L504.7 455.8 L504.2 456 L503.7 456.1 L503.2 456.3 L502.7 456.4 L502.2 456.6 L501.7 456.7 L501.2 456.8 L500.7 456.9 L500.2 457 L499.7 457.1 L499.2 457.2 L498.7 457.3 L498.2 457.4 L497.7 457.5 L497.2 457.6 L496.7 457.7 L496.2 457.8 L495.7 457.9 L495.2 458 L494.7 458 L494.2 458.1 L493.7 458.2 L493.2 458.3 L492.7 458.3 L492.2 458.4 L491.7 458.5 Z" fill="#eea0aa" fill-opacity="0.45"/>
<line x1="491.7" y1="454.4" x2="633.5" y2="454.4" stroke="#999" stroke-width="1"/>
<line x1="514.4" y1="366.5" x2="514.4" y2="477.0" stroke="#666" stroke-width="0.9" stroke-dasharray="3.4 2.6"/>
<line x1="609.7" y1="366.5" x2="609.7" y2="477.0" stroke="#666" stroke-width="0.9" stroke-dasharray="3.4 2.6"/>
<path d="M491.7 457.8 L492.2 457.7 L492.7 457.7 L493.2 457.6 L493.7 457.5 L494.2 457.4 L494.7 457.3 L495.2 457.3 L495.7 457.2 L496.2 457.1 L496.7 457 L497.2 456.9 L497.7 456.8 L498.2 456.7 L498.7 456.6 L499.2 456.5 L499.7 456.4 L500.2 456.2 L500.7 456.1 L501.2 456 L501.7 455.9 L502.2 455.7 L502.7 455.6 L503.2 455.4 L503.7 455.3 L504.2 455.1 L504.7 454.9 L505.2 454.7 L505.7 454.6 L506.2 454.4 L506.7 454.1 L507.2 453.9 L507.7 453.7 L508.2 453.5 L508.7 453.2 L509.2 452.9 L509.7 452.7 L510.2 452.4 L510.7 452.1 L511.2 451.8 L511.7 451.4 L512.2 451.1 L512.7 450.8 L513.2 450.4 L513.7 450 L514.2 449.6 L514.7 449.2 L515.2 448.8 L515.7 448.3 L516.2 447.9 L516.7 447.4 L517.2 446.9 L517.7 446.5 L518.2 446 L518.7 445.5 L519.2 444.9 L519.7 444.4 L520.2 443.9 L520.7 443.3 L521.2 442.8 L521.7 442.2 L522.2 441.7 L522.7 441.1 L523.2 440.5 L523.7 440 L524.2 439.4 L524.7 438.8 L525.2 438.2 L525.7 437.6 L526.2 437.1 L526.7 436.5 L527.2 435.9 L527.7 435.3 L528.2 434.8 L528.7 434.2 L529.2 433.6 L529.7 433.1 L530.2 432.5 L530.7 431.9 L531.2 431.4 L531.7 430.8 L532.2 430.3 L532.7 429.7 L533.2 429.2 L533.7 428.6 L534.2 428.1 L534.7 427.6 L535.2 427 L535.7 426.5 L536.2 426 L536.7 425.5 L537.2 425 L537.7 424.5 L538.2 424 L538.7 423.5 L539.2 423 L539.7 422.5 L540.2 422 L540.7 421.5 L541.2 421.1 L541.7 420.6 L542.2 420.2 L542.7 419.7 L543.2 419.3 L543.7 418.8 L544.2 418.4 L544.7 418 L545.2 417.6 L545.7 417.2 L546.2 416.8 L546.7 416.5 L547.2 416.1 L547.7 415.7 L548.2 415.4 L548.7 415.1 L549.2 414.7 L549.7 414.4 L550.2 414.1 L550.7 413.8 L551.2 413.6 L551.7 413.3 L552.2 413.1 L552.7 412.8 L553.2 412.6 L553.7 412.4 L554.2 412.2 L554.7 412 L555.2 411.8 L555.7 411.7 L556.2 411.5 L556.7 411.4 L557.2 411.3 L557.7 411.2 L558.2 411.1 L558.7 411 L559.2 410.9 L559.7 410.8 L560.2 410.8 L560.7 410.7 L561.2 410.7 L561.7 410.7 L562.2 410.6 L562.7 410.6 L563.2 410.6 L563.7 410.7 L564.2 410.7 L564.7 410.7 L565.2 410.8 L565.7 410.9 L566.2 410.9 L566.7 411 L567.2 411.1 L567.7 411.2 L568.2 411.3 L568.7 411.5 L569.2 411.6 L569.7 411.8 L570.2 411.9 L570.7 412.1 L571.2 412.3 L571.7 412.5 L572.2 412.7 L572.7 412.9 L573.2 413.1 L573.7 413.4 L574.2 413.6 L574.7 413.9 L575.2 414.2 L575.7 414.5 L576.2 414.8 L576.7 415.1 L577.2 415.4 L577.7 415.7 L578.2 416.1 L578.7 416.4 L579.2 416.8 L579.7 417.2 L580.2 417.6 L580.7 418 L581.2 418.4 L581.7 418.8 L582.2 419.3 L582.7 419.7 L583.2 420.2 L583.7 420.7 L584.2 421.2 L584.7 421.7 L585.2 422.2 L585.7 422.7 L586.2 423.2 L586.7 423.8 L587.2 424.3 L587.7 424.9 L588.2 425.5 L588.7 426.1 L589.2 426.7 L589.7 427.3 L590.2 427.9 L590.7 428.6 L591.2 429.2 L591.7 429.8 L592.2 430.5 L592.7 431.1 L593.2 431.8 L593.7 432.5 L594.2 433.1 L594.7 433.8 L595.2 434.5 L595.7 435.2 L596.2 435.9 L596.7 436.5 L597.2 437.2 L597.7 437.9 L598.2 438.6 L598.7 439.3 L599.2 439.9 L599.7 440.6 L600.2 441.3 L600.7 441.9 L601.2 442.6 L601.7 443.3 L602.2 443.9 L602.7 444.6 L603.2 445.2 L603.7 445.9 L604.2 446.5 L604.7 447.2 L605.2 447.8 L605.7 448.4 L606.2 449.1 L606.7 449.7 L607.2 450.3 L607.7 450.9 L608.2 451.6 L608.7 452.2 L609.2 452.8 L609.7 453.4 L610.2 454 L610.7 454.6 L611.2 455.2 L611.7 455.8 L612.2 456.4 L612.7 457 L613.2 457.5 L613.7 458.1 L614.2 458.6 L614.7 459.1 L615.2 459.7 L615.7 460.2 L616.2 460.7 L616.7 461.1 L617.2 461.6 L617.7 462 L618.2 462.4 L618.7 462.8 L619.2 463.2 L619.7 463.6 L620.2 464 L620.7 464.3 L621.2 464.7 L621.7 465.1 L622.2 465.4 L622.7 465.7 L623.2 466.1 L623.7 466.4 L624.2 466.8 L624.7 467.1 L625.2 467.4 L625.7 467.8 L626.2 468.1 L626.7 468.5 L627.2 468.8 L627.7 469.2 L628.2 469.5 L628.7 469.8 L629.2 470.2 L629.7 470.5 L630.2 470.9 L630.7 471.2 L631.2 471.6 L631.7 471.9 L632.2 472.3 L632.7 472.6 L633.2 473" fill="none" stroke="#ee2a34" stroke-width="1.3"/>
<path d="M491.7 458.7 L492.2 458.6 L492.7 458.5 L493.2 458.4 L493.7 458.3 L494.2 458.2 L494.7 458.1 L495.2 458 L495.7 457.9 L496.2 457.8 L496.7 457.7 L497.2 457.5 L497.7 457.4 L498.2 457.3 L498.7 457.1 L499.2 457 L499.7 456.8 L500.2 456.7 L500.7 456.5 L501.2 456.3 L501.7 456.1 L502.2 455.9 L502.7 455.7 L503.2 455.5 L503.7 455.3 L504.2 455.1 L504.7 454.8 L505.2 454.5 L505.7 454.3 L506.2 454 L506.7 453.7 L507.2 453.4 L507.7 453.1 L508.2 452.7 L508.7 452.4 L509.2 452.1 L509.7 451.7 L510.2 451.3 L510.7 450.9 L511.2 450.5 L511.7 450.1 L512.2 449.7 L512.7 449.3 L513.2 448.8 L513.7 448.3 L514.2 447.9 L514.7 447.4 L515.2 446.9 L515.7 446.4 L516.2 445.8 L516.7 445.3 L517.2 444.8 L517.7 444.2 L518.2 443.6 L518.7 443.1 L519.2 442.5 L519.7 441.9 L520.2 441.3 L520.7 440.7 L521.2 440.1 L521.7 439.4 L522.2 438.8 L522.7 438.2 L523.2 437.5 L523.7 436.9 L524.2 436.2 L524.7 435.6 L525.2 434.9 L525.7 434.2 L526.2 433.6 L526.7 432.9 L527.2 432.2 L527.7 431.6 L528.2 430.9 L528.7 430.2 L529.2 429.6 L529.7 428.9 L530.2 428.2 L530.7 427.5 L531.2 426.9 L531.7 426.2 L532.2 425.5 L532.7 424.9 L533.2 424.2 L533.7 423.6 L534.2 422.9 L534.7 422.3 L535.2 421.6 L535.7 421 L536.2 420.3 L536.7 419.7 L537.2 419.1 L537.7 418.5 L538.2 417.9 L538.7 417.3 L539.2 416.7 L539.7 416.1 L540.2 415.5 L540.7 415 L541.2 414.4 L541.7 413.8 L542.2 413.3 L542.7 412.8 L543.2 412.3 L543.7 411.8 L544.2 411.3 L544.7 410.8 L545.2 410.3 L545.7 409.8 L546.2 409.4 L546.7 408.9 L547.2 408.5 L547.7 408.1 L548.2 407.7 L548.7 407.3 L549.2 406.9 L549.7 406.6 L550.2 406.2 L550.7 405.9 L551.2 405.6 L551.7 405.3 L552.2 405 L552.7 404.7 L553.2 404.5 L553.7 404.2 L554.2 404 L554.7 403.8 L555.2 403.6 L555.7 403.4 L556.2 403.2 L556.7 403.1 L557.2 402.9 L557.7 402.8 L558.2 402.7 L558.7 402.5 L559.2 402.4 L559.7 402.3 L560.2 402.3 L560.7 402.2 L561.2 402.1 L561.7 402.1 L562.2 402.1 L562.7 402 L563.2 402 L563.7 402 L564.2 402 L564.7 402 L565.2 402.1 L565.7 402.1 L566.2 402.1 L566.7 402.2 L567.2 402.3 L567.7 402.3 L568.2 402.4 L568.7 402.5 L569.2 402.7 L569.7 402.8 L570.2 402.9 L570.7 403.1 L571.2 403.3 L571.7 403.4 L572.2 403.6 L572.7 403.8 L573.2 404.1 L573.7 404.3 L574.2 404.6 L574.7 404.8 L575.2 405.1 L575.7 405.4 L576.2 405.7 L576.7 406.1 L577.2 406.4 L577.7 406.8 L578.2 407.1 L578.7 407.5 L579.2 407.9 L579.7 408.3 L580.2 408.8 L580.7 409.2 L581.2 409.7 L581.7 410.1 L582.2 410.6 L582.7 411.1 L583.2 411.6 L583.7 412.1 L584.2 412.6 L584.7 413.1 L585.2 413.7 L585.7 414.2 L586.2 414.8 L586.7 415.4 L587.2 415.9 L587.7 416.5 L588.2 417.1 L588.7 417.7 L589.2 418.3 L589.7 419 L590.2 419.6 L590.7 420.2 L591.2 420.9 L591.7 421.5 L592.2 422.2 L592.7 422.9 L593.2 423.6 L593.7 424.3 L594.2 425 L594.7 425.7 L595.2 426.4 L595.7 427.1 L596.2 427.9 L596.7 428.6 L597.2 429.4 L597.7 430.2 L598.2 430.9 L598.7 431.7 L599.2 432.5 L599.7 433.3 L600.2 434.2 L600.7 435 L601.2 435.8 L601.7 436.7 L602.2 437.5 L602.7 438.4 L603.2 439.2 L603.7 440.1 L604.2 440.9 L604.7 441.8 L605.2 442.6 L605.7 443.5 L606.2 444.3 L606.7 445.1 L607.2 446 L607.7 446.8 L608.2 447.6 L608.7 448.3 L609.2 449.1 L609.7 449.8 L610.2 450.6 L610.7 451.3 L611.2 452 L611.7 452.6 L612.2 453.3 L612.7 453.9 L613.2 454.5 L613.7 455.2 L614.2 455.7 L614.7 456.3 L615.2 456.9 L615.7 457.4 L616.2 458 L616.7 458.5 L617.2 459 L617.7 459.5 L618.2 460 L618.7 460.4 L619.2 460.9 L619.7 461.4 L620.2 461.8 L620.7 462.3 L621.2 462.7 L621.7 463.1 L622.2 463.6 L622.7 464 L623.2 464.4 L623.7 464.8 L624.2 465.3 L624.7 465.7 L625.2 466.1 L625.7 466.5 L626.2 467 L626.7 467.4 L627.2 467.8 L627.7 468.2 L628.2 468.7 L628.7 469.1 L629.2 469.5 L629.7 469.9 L630.2 470.4 L630.7 470.8 L631.2 471.2 L631.7 471.6 L632.2 472.1 L632.7 472.5 L633.2 472.9" fill="none" stroke="#2b32b0" stroke-width="1.3"/>
<path d="M491.7 460.4 L492.2 460.2 L492.7 460 L493.2 459.9 L493.7 459.7 L494.2 459.5 L494.7 459.4 L495.2 459.2 L495.7 459 L496.2 458.8 L496.7 458.7 L497.2 458.5 L497.7 458.3 L498.2 458.1 L498.7 457.9 L499.2 457.7 L499.7 457.5 L500.2 457.3 L500.7 457.1 L501.2 456.9 L501.7 456.6 L502.2 456.4 L502.7 456.1 L503.2 455.9 L503.7 455.6 L504.2 455.4 L504.7 455.1 L505.2 454.8 L505.7 454.5 L506.2 454.2 L506.7 453.9 L507.2 453.6 L507.7 453.3 L508.2 452.9 L508.7 452.6 L509.2 452.2 L509.7 451.8 L510.2 451.4 L510.7 451 L511.2 450.6 L511.7 450.2 L512.2 449.8 L512.7 449.3 L513.2 448.8 L513.7 448.4 L514.2 447.9 L514.7 447.4 L515.2 446.8 L515.7 446.3 L516.2 445.8 L516.7 445.2 L517.2 444.6 L517.7 444 L518.2 443.4 L518.7 442.8 L519.2 442.2 L519.7 441.6 L520.2 440.9 L520.7 440.3 L521.2 439.6 L521.7 439 L522.2 438.3 L522.7 437.6 L523.2 436.9 L523.7 436.3 L524.2 435.6 L524.7 434.9 L525.2 434.2 L525.7 433.4 L526.2 432.7 L526.7 432 L527.2 431.3 L527.7 430.6 L528.2 429.9 L528.7 429.1 L529.2 428.4 L529.7 427.7 L530.2 427 L530.7 426.2 L531.2 425.5 L531.7 424.8 L532.2 424.1 L532.7 423.3 L533.2 422.6 L533.7 421.9 L534.2 421.2 L534.7 420.5 L535.2 419.8 L535.7 419.1 L536.2 418.4 L536.7 417.7 L537.2 417.1 L537.7 416.4 L538.2 415.7 L538.7 415.1 L539.2 414.4 L539.7 413.8 L540.2 413.1 L540.7 412.5 L541.2 411.9 L541.7 411.3 L542.2 410.7 L542.7 410.1 L543.2 409.6 L543.7 409 L544.2 408.4 L544.7 407.9 L545.2 407.4 L545.7 406.9 L546.2 406.4 L546.7 405.9 L547.2 405.4 L547.7 405 L548.2 404.5 L548.7 404.1 L549.2 403.7 L549.7 403.3 L550.2 403 L550.7 402.6 L551.2 402.3 L551.7 401.9 L552.2 401.6 L552.7 401.4 L553.2 401.1 L553.7 400.8 L554.2 400.6 L554.7 400.4 L555.2 400.2 L555.7 400 L556.2 399.8 L556.7 399.6 L557.2 399.5 L557.7 399.4 L558.2 399.2 L558.7 399.1 L559.2 399 L559.7 399 L560.2 398.9 L560.7 398.8 L561.2 398.8 L561.7 398.7 L562.2 398.7 L562.7 398.7 L563.2 398.7 L563.7 398.7 L564.2 398.7 L564.7 398.8 L565.2 398.8 L565.7 398.9 L566.2 398.9 L566.7 399 L567.2 399.1 L567.7 399.2 L568.2 399.3 L568.7 399.4 L569.2 399.5 L569.7 399.7 L570.2 399.9 L570.7 400 L571.2 400.2 L571.7 400.4 L572.2 400.6 L572.7 400.9 L573.2 401.1 L573.7 401.4 L574.2 401.6 L574.7 401.9 L575.2 402.2 L575.7 402.6 L576.2 402.9 L576.7 403.3 L577.2 403.6 L577.7 404 L578.2 404.4 L578.7 404.8 L579.2 405.2 L579.7 405.7 L580.2 406.1 L580.7 406.6 L581.2 407.1 L581.7 407.5 L582.2 408.1 L582.7 408.6 L583.2 409.1 L583.7 409.6 L584.2 410.2 L584.7 410.7 L585.2 411.3 L585.7 411.9 L586.2 412.5 L586.7 413.1 L587.2 413.7 L587.7 414.3 L588.2 415 L588.7 415.6 L589.2 416.3 L589.7 416.9 L590.2 417.6 L590.7 418.3 L591.2 419 L591.7 419.7 L592.2 420.4 L592.7 421.1 L593.2 421.8 L593.7 422.6 L594.2 423.3 L594.7 424.1 L595.2 424.8 L595.7 425.6 L596.2 426.4 L596.7 427.1 L597.2 427.9 L597.7 428.7 L598.2 429.6 L598.7 430.4 L599.2 431.2 L599.7 432 L600.2 432.9 L600.7 433.7 L601.2 434.6 L601.7 435.4 L602.2 436.3 L602.7 437.1 L603.2 438 L603.7 438.9 L604.2 439.7 L604.7 440.6 L605.2 441.4 L605.7 442.3 L606.2 443.1 L606.7 443.9 L607.2 444.8 L607.7 445.6 L608.2 446.4 L608.7 447.2 L609.2 448 L609.7 448.7 L610.2 449.5 L610.7 450.2 L611.2 450.9 L611.7 451.6 L612.2 452.3 L612.7 453 L613.2 453.7 L613.7 454.3 L614.2 454.9 L614.7 455.5 L615.2 456.1 L615.7 456.7 L616.2 457.3 L616.7 457.8 L617.2 458.4 L617.7 458.9 L618.2 459.4 L618.7 459.9 L619.2 460.4 L619.7 460.8 L620.2 461.3 L620.7 461.7 L621.2 462.2 L621.7 462.6 L622.2 463.1 L622.7 463.5 L623.2 464 L623.7 464.4 L624.2 464.8 L624.7 465.3 L625.2 465.7 L625.7 466.2 L626.2 466.6 L626.7 467 L627.2 467.5 L627.7 467.9 L628.2 468.4 L628.7 468.8 L629.2 469.3 L629.7 469.7 L630.2 470.2 L630.7 470.6 L631.2 471.1 L631.7 471.6 L632.2 472 L632.7 472.5 L633.2 472.9" fill="none" stroke="#40b850" stroke-width="1.3"/>
<path d="M491.7 459.4 L492.2 459.3 L492.7 459.2 L493.2 459.1 L493.7 459 L494.2 458.9 L494.7 458.7 L495.2 458.6 L495.7 458.5 L496.2 458.4 L496.7 458.2 L497.2 458.1 L497.7 457.9 L498.2 457.8 L498.7 457.6 L499.2 457.4 L499.7 457.2 L500.2 457.1 L500.7 456.9 L501.2 456.6 L501.7 456.4 L502.2 456.2 L502.7 455.9 L503.2 455.6 L503.7 455.4 L504.2 455.1 L504.7 454.8 L505.2 454.4 L505.7 454.1 L506.2 453.8 L506.7 453.4 L507.2 453 L507.7 452.6 L508.2 452.2 L508.7 451.8 L509.2 451.4 L509.7 451 L510.2 450.5 L510.7 450.1 L511.2 449.6 L511.7 449.1 L512.2 448.6 L512.7 448.1 L513.2 447.6 L513.7 447.1 L514.2 446.6 L514.7 446 L515.2 445.4 L515.7 444.9 L516.2 444.3 L516.7 443.7 L517.2 443.1 L517.7 442.5 L518.2 441.9 L518.7 441.3 L519.2 440.7 L519.7 440 L520.2 439.4 L520.7 438.7 L521.2 438.1 L521.7 437.4 L522.2 436.7 L522.7 436.1 L523.2 435.4 L523.7 434.7 L524.2 434 L524.7 433.3 L525.2 432.6 L525.7 431.9 L526.2 431.2 L526.7 430.5 L527.2 429.8 L527.7 429 L528.2 428.3 L528.7 427.6 L529.2 426.9 L529.7 426.1 L530.2 425.4 L530.7 424.7 L531.2 423.9 L531.7 423.2 L532.2 422.4 L532.7 421.7 L533.2 420.9 L533.7 420.2 L534.2 419.4 L534.7 418.6 L535.2 417.9 L535.7 417.1 L536.2 416.3 L536.7 415.5 L537.2 414.8 L537.7 414 L538.2 413.2 L538.7 412.4 L539.2 411.6 L539.7 410.8 L540.2 410 L540.7 409.2 L541.2 408.4 L541.7 407.6 L542.2 406.9 L542.7 406.1 L543.2 405.3 L543.7 404.5 L544.2 403.7 L544.7 403 L545.2 402.2 L545.7 401.4 L546.2 400.7 L546.7 400 L547.2 399.2 L547.7 398.5 L548.2 397.8 L548.7 397.1 L549.2 396.5 L549.7 395.8 L550.2 395.2 L550.7 394.5 L551.2 393.9 L551.7 393.3 L552.2 392.8 L552.7 392.2 L553.2 391.7 L553.7 391.2 L554.2 390.7 L554.7 390.2 L555.2 389.7 L555.7 389.3 L556.2 388.9 L556.7 388.5 L557.2 388.1 L557.7 387.7 L558.2 387.4 L558.7 387.1 L559.2 386.8 L559.7 386.5 L560.2 386.2 L560.7 386 L561.2 385.8 L561.7 385.6 L562.2 385.4 L562.7 385.3 L563.2 385.2 L563.7 385.1 L564.2 385 L564.7 384.9 L565.2 384.9 L565.7 384.9 L566.2 384.9 L566.7 384.9 L567.2 385 L567.7 385 L568.2 385.1 L568.7 385.2 L569.2 385.4 L569.7 385.5 L570.2 385.7 L570.7 385.8 L571.2 386 L571.7 386.2 L572.2 386.5 L572.7 386.7 L573.2 386.9 L573.7 387.2 L574.2 387.5 L574.7 387.8 L575.2 388.1 L575.7 388.4 L576.2 388.8 L576.7 389.1 L577.2 389.5 L577.7 389.9 L578.2 390.2 L578.7 390.7 L579.2 391.1 L579.7 391.5 L580.2 392 L580.7 392.4 L581.2 392.9 L581.7 393.4 L582.2 393.9 L582.7 394.4 L583.2 395 L583.7 395.6 L584.2 396.1 L584.7 396.7 L585.2 397.3 L585.7 398 L586.2 398.6 L586.7 399.3 L587.2 400 L587.7 400.7 L588.2 401.4 L588.7 402.1 L589.2 402.9 L589.7 403.7 L590.2 404.4 L590.7 405.2 L591.2 406.1 L591.7 406.9 L592.2 407.7 L592.7 408.6 L593.2 409.4 L593.7 410.3 L594.2 411.2 L594.7 412.1 L595.2 412.9 L595.7 413.8 L596.2 414.8 L596.7 415.7 L597.2 416.6 L597.7 417.5 L598.2 418.4 L598.7 419.4 L599.2 420.3 L599.7 421.2 L600.2 422.1 L600.7 423.1 L601.2 424 L601.7 424.9 L602.2 425.9 L602.7 426.8 L603.2 427.8 L603.7 428.7 L604.2 429.6 L604.7 430.6 L605.2 431.5 L605.7 432.5 L606.2 433.4 L606.7 434.4 L607.2 435.4 L607.7 436.3 L608.2 437.3 L608.7 438.3 L609.2 439.3 L609.7 440.3 L610.2 441.3 L610.7 442.3 L611.2 443.3 L611.7 444.3 L612.2 445.3 L612.7 446.3 L613.2 447.3 L613.7 448.2 L614.2 449.2 L614.7 450.1 L615.2 451.1 L615.7 452 L616.2 452.8 L616.7 453.7 L617.2 454.5 L617.7 455.3 L618.2 456.1 L618.7 456.8 L619.2 457.5 L619.7 458.2 L620.2 458.9 L620.7 459.6 L621.2 460.2 L621.7 460.9 L622.2 461.5 L622.7 462.1 L623.2 462.7 L623.7 463.2 L624.2 463.8 L624.7 464.4 L625.2 464.9 L625.7 465.4 L626.2 466 L626.7 466.5 L627.2 467 L627.7 467.5 L628.2 468 L628.7 468.5 L629.2 469 L629.7 469.5 L630.2 470 L630.7 470.5 L631.2 471 L631.7 471.5 L632.2 471.9 L632.7 472.4 L633.2 472.9" fill="none" stroke="#111" stroke-width="1.3"/>
<line x1="491.7" y1="365.4" x2="491.7" y2="477.0" stroke="#333" stroke-width="1"/>
<line x1="491.7" y1="477.0" x2="633.5" y2="477.0" stroke="#333" stroke-width="1"/>
<line x1="491.7" y1="465.4" x2="493.7" y2="465.4" stroke="#333" stroke-width="0.8"/>
<line x1="491.7" y1="454.4" x2="493.7" y2="454.4" stroke="#333" stroke-width="0.8"/>
<line x1="491.7" y1="443.3" x2="493.7" y2="443.3" stroke="#333" stroke-width="0.8"/>
<line x1="491.7" y1="432.3" x2="493.7" y2="432.3" stroke="#333" stroke-width="0.8"/>
<line x1="491.7" y1="421.2" x2="493.7" y2="421.2" stroke="#333" stroke-width="0.8"/>
<line x1="491.7" y1="410.2" x2="493.7" y2="410.2" stroke="#333" stroke-width="0.8"/>
<line x1="491.7" y1="399.1" x2="493.7" y2="399.1" stroke="#333" stroke-width="0.8"/>
<line x1="491.7" y1="388.1" x2="493.7" y2="388.1" stroke="#333" stroke-width="0.8"/>
<line x1="491.7" y1="377" x2="493.7" y2="377" stroke="#333" stroke-width="0.8"/>
<line x1="491.7" y1="366" x2="493.7" y2="366" stroke="#333" stroke-width="0.8"/>
<line x1="514.4" y1="477.0" x2="514.4" y2="475.0" stroke="#333" stroke-width="0.8"/>
<line x1="538.2" y1="477.0" x2="538.2" y2="475.0" stroke="#333" stroke-width="0.8"/>
<line x1="562" y1="477.0" x2="562" y2="475.0" stroke="#333" stroke-width="0.8"/>
<line x1="585.8" y1="477.0" x2="585.8" y2="475.0" stroke="#333" stroke-width="0.8"/>
<line x1="609.6" y1="477.0" x2="609.6" y2="475.0" stroke="#333" stroke-width="0.8"/>
<line x1="633.4" y1="477.0" x2="633.4" y2="475.0" stroke="#333" stroke-width="0.8"/>
<text x="487.3" y="457.4" text-anchor="end" font-size="8.5" fill="#555">0</text>
<text x="487.3" y="435.3" text-anchor="end" font-size="8.5" fill="#555">1</text>
<text x="487.3" y="413.2" text-anchor="end" font-size="8.5" fill="#555">2</text>
<text x="487.3" y="391.1" text-anchor="end" font-size="8.5" fill="#555">3</text>
<text x="487.3" y="369" text-anchor="end" font-size="8.5" fill="#555">4</text>
<text x="514.9" y="487.6" text-anchor="middle" font-size="8.8" fill="#555">0</text>
<text x="562" y="487.6" text-anchor="middle" font-size="8.8" fill="#555">1000</text>
<text x="598.9" y="487.6" font-size="8.8" fill="#555">2000 ms</text>
<text transform="translate(460.5 412.9) rotate(-90)" text-anchor="middle" font-size="10.3" fill="#555">40-Hz ASSR</text>
<text transform="translate(471.6 413.5) rotate(-90)" text-anchor="middle" font-size="10.3" fill="#555">amplitude</text>
<line x1="627.6" y1="375.2" x2="640.6" y2="375.2" stroke="#222" stroke-width="1.8"/>
<text x="643.7" y="378.4" font-size="8.8" fill="#555">HC</text>
<line x1="627.6" y1="388.0" x2="640.6" y2="388.0" stroke="#5cbf5c" stroke-width="1.8"/>
<text x="643.7" y="391.2" font-size="8.8" fill="#555">CHR-N</text>
<line x1="627.6" y1="400.5" x2="640.6" y2="400.5" stroke="#3036a8" stroke-width="1.8"/>
<text x="643.7" y="403.7" font-size="8.8" fill="#555">CHR-P</text>
<line x1="627.6" y1="414.0" x2="640.6" y2="414.0" stroke="#f0404a" stroke-width="1.8"/>
<text x="643.7" y="417.2" font-size="8.8" fill="#555">FEP</text>
<text transform="translate(0.7 26.3) scale(1.04 0.98)" font-size="27" font-weight="bold" fill="#000">A</text>
<text x="416.6" y="27.1" font-size="26" font-weight="bold" fill="#000">B</text>
<text transform="translate(416.2 362.5) scale(0.96 1)" font-size="27" font-weight="bold" fill="#000">C</text>
</svg></body></html>
